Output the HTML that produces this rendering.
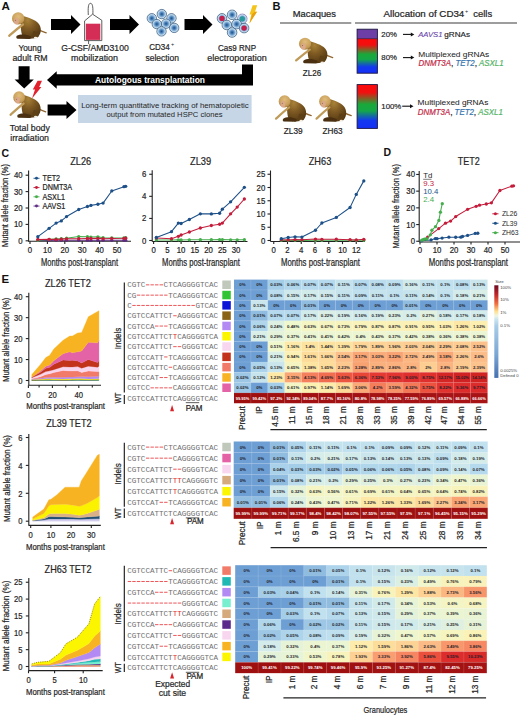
<!DOCTYPE html><html><head><meta charset="utf-8"><style>html,body{margin:0;padding:0;background:#fff;width:520px;height:715px;overflow:hidden}</style></head><body><svg width="520" height="715" viewBox="0 0 520 715" style="display:block"><defs>
<radialGradient id="mBody" cx="0.35" cy="0.2" r="0.9"><stop offset="0" stop-color="#a88238"/><stop offset="0.45" stop-color="#7c5822"/><stop offset="1" stop-color="#4e3410"/></radialGradient>
<radialGradient id="mHead" cx="0.5" cy="0.35" r="0.65"><stop offset="0" stop-color="#e0bc7c"/><stop offset="0.7" stop-color="#c9a05a"/><stop offset="1" stop-color="#ad8442"/></radialGradient>
<radialGradient id="cellG" cx="0.5" cy="0.5" r="0.5"><stop offset="0" stop-color="#1d4f86"/><stop offset="0.35" stop-color="#4f86bd"/><stop offset="0.75" stop-color="#b3d1ea"/><stop offset="0.9" stop-color="#cfe2f2"/><stop offset="1" stop-color="#6f8fae"/></radialGradient>
<linearGradient id="rgb1" x1="0" y1="0" x2="0" y2="1"><stop offset="0" stop-color="#ff0a0a"/><stop offset="0.18" stop-color="#f01010"/><stop offset="0.45" stop-color="#1aa83a"/><stop offset="0.6" stop-color="#14a848"/><stop offset="0.82" stop-color="#1438f0"/><stop offset="1" stop-color="#1430f5"/></linearGradient>
<linearGradient id="rgb2" x1="0" y1="0" x2="0" y2="1"><stop offset="0" stop-color="#ff0a0a"/><stop offset="0.18" stop-color="#f01010"/><stop offset="0.45" stop-color="#1aa83a"/><stop offset="0.6" stop-color="#14a848"/><stop offset="0.82" stop-color="#1438f0"/><stop offset="1" stop-color="#1430f5"/></linearGradient>
<linearGradient id="cbar" x1="0" y1="0" x2="0" y2="1"><stop offset="0" stop-color="#6a0a1e"/><stop offset="0.1" stop-color="#c0262a"/><stop offset="0.2" stop-color="#f07040"/><stop offset="0.283" stop-color="#fee090"/><stop offset="0.33" stop-color="#eef6e4"/><stop offset="0.37" stop-color="#c8e4f0"/><stop offset="0.44" stop-color="#a8cce6"/><stop offset="0.75" stop-color="#7aa6d4"/><stop offset="1" stop-color="#4470b0"/></linearGradient>
</defs><text x="1.60" y="9.60" font-size="10.5" fill="#111" font-family='"Liberation Sans", sans-serif' font-weight="bold" textLength="8.40" lengthAdjust="spacingAndGlyphs">A</text>
<g transform="translate(6.00 12.00) scale(1.000 1.000)">
<path d="M32,17.5 C35,19 37.5,20 40.2,20.8" fill="none" stroke="#8f6530" stroke-width="1.3" stroke-linecap="round"/>
<path d="M15.5,3.5 C22,5.5 29,7.5 32.5,11.5 C35.8,15.5 35.5,21 32.5,24.5 C29.5,27 22,27.2 18,25.8 C15,23.5 14,15 15.5,3.5 Z" fill="url(#mBody)"/>
<path d="M27.5,19 C31,18.5 33.5,21.5 32.5,24.6 C30.5,26.6 27,26.6 25.5,25 Z" fill="#5e4016"/>
<path d="M17,12.5 C12,16 7,20.5 3.2,23.8" fill="none" stroke="#bf9a58" stroke-width="2.3" stroke-linecap="round"/>
<path d="M10.8,23.8 C14,21.8 20,22 24.5,24.2 C25.5,25.5 25,26.8 23,27 L11.5,26.8 C10,26.3 10,24.8 10.8,23.8 Z" fill="#4a3010"/>
<ellipse cx="29.6" cy="25.9" rx="1.8" ry="1.1" fill="#f4efe6"/>
<circle cx="12.2" cy="6.4" r="6.2" fill="url(#mHead)"/>
<ellipse cx="10.5" cy="9.3" rx="2.4" ry="3.2" fill="#dba88c"/>
<circle cx="9.7" cy="8.3" r="0.45" fill="#5a3a20"/>
</g>
<text x="30.00" y="50.60" font-size="9.2" fill="#262626" font-family='"Liberation Sans", sans-serif' text-anchor="middle" textLength="23.00" lengthAdjust="spacingAndGlyphs" stroke="#262626" stroke-width="0.22">Young</text>
<text x="30.00" y="61.00" font-size="9.2" fill="#262626" font-family='"Liberation Sans", sans-serif' text-anchor="middle" textLength="35.00" lengthAdjust="spacingAndGlyphs" stroke="#262626" stroke-width="0.22">adult RM</text>
<polygon points="51.00,19.00 71.00,19.00 71.00,15.00 80.50,24.50 71.00,34.00 71.00,30.00 51.00,30.00" fill="#000"/>
<path d="M88.3,15 C88,9 88,3.3 90.5,3.3 C93,3.3 93,9 92.9,14.2" fill="none" stroke="#333" stroke-width="0.8"/>
<path d="M92.6,14.2 L84.6,20.9 L84.6,40.6 L101.8,40.6 L101.8,20.3 Z" fill="#fff" stroke="#333" stroke-width="0.8"/>
<rect x="85.80" y="23.70" width="14.50" height="16.20" fill="#d42e56"/>
<line x1="88.60" y1="40.60" x2="88.60" y2="44.00" stroke="#333" stroke-width="0.8"/>
<text x="95.00" y="51.00" font-size="9.2" fill="#262626" font-family='"Liberation Sans", sans-serif' text-anchor="middle" textLength="67.50" lengthAdjust="spacingAndGlyphs" stroke="#262626" stroke-width="0.22">G-CSF/AMD3100</text>
<text x="94.50" y="60.60" font-size="9.2" fill="#262626" font-family='"Liberation Sans", sans-serif' text-anchor="middle" textLength="47.00" lengthAdjust="spacingAndGlyphs" stroke="#262626" stroke-width="0.22">mobilization</text>
<polygon points="110.00,19.00 129.50,19.00 129.50,15.00 139.00,24.50 129.50,34.00 129.50,30.00 110.00,30.00" fill="#000"/>
<circle cx="161.80" cy="14.10" r="4.70" fill="url(#cellG)" stroke="#3f6384" stroke-width="0.7"/>
<circle cx="151.80" cy="18.30" r="4.70" fill="url(#cellG)" stroke="#3f6384" stroke-width="0.7"/>
<circle cx="171.50" cy="18.30" r="4.70" fill="url(#cellG)" stroke="#3f6384" stroke-width="0.7"/>
<circle cx="156.80" cy="24.10" r="4.70" fill="url(#cellG)" stroke="#3f6384" stroke-width="0.7"/>
<circle cx="166.10" cy="23.70" r="4.70" fill="url(#cellG)" stroke="#3f6384" stroke-width="0.7"/>
<circle cx="174.20" cy="27.90" r="4.70" fill="url(#cellG)" stroke="#3f6384" stroke-width="0.7"/>
<circle cx="161.50" cy="31.40" r="4.70" fill="url(#cellG)" stroke="#3f6384" stroke-width="0.7"/>
<text x="149.30" y="50.40" font-size="9.2" fill="#262626" font-family='"Liberation Sans", sans-serif' textLength="20.50" lengthAdjust="spacingAndGlyphs" stroke="#262626" stroke-width="0.22">CD34</text>
<text x="171.00" y="46.40" font-size="5.5" fill="#262626" font-family='"Liberation Sans", sans-serif'>+</text>
<text x="162.20" y="60.80" font-size="9.2" fill="#262626" font-family='"Liberation Sans", sans-serif' text-anchor="middle" textLength="33.50" lengthAdjust="spacingAndGlyphs" stroke="#262626" stroke-width="0.22">selection</text>
<polygon points="184.50,19.00 203.00,19.00 203.00,15.00 212.50,24.50 203.00,34.00 203.00,30.00 184.50,30.00" fill="#000"/>
<circle cx="222.00" cy="18.40" r="4.80" fill="url(#cellG)" stroke="#3f6384" stroke-width="0.7"/>
<circle cx="222.00" cy="18.40" r="2.64" fill="#c41e4a"/>
<circle cx="232.10" cy="14.80" r="4.80" fill="url(#cellG)" stroke="#3f6384" stroke-width="0.7"/>
<circle cx="242.30" cy="18.80" r="4.80" fill="url(#cellG)" stroke="#8a7ab8" stroke-width="0.7"/>
<circle cx="242.30" cy="18.80" r="2.64" fill="#2a9a9a"/>
<circle cx="226.80" cy="25.00" r="4.80" fill="url(#cellG)" stroke="#3f6384" stroke-width="0.7"/>
<circle cx="236.60" cy="24.10" r="4.80" fill="url(#cellG)" stroke="#3f6384" stroke-width="0.7"/>
<circle cx="244.10" cy="28.10" r="4.80" fill="url(#cellG)" stroke="#3f6384" stroke-width="0.7"/>
<circle cx="244.10" cy="28.10" r="2.64" fill="#c41e4a"/>
<circle cx="232.10" cy="32.50" r="4.80" fill="url(#cellG)" stroke="#3f6384" stroke-width="0.7"/>
<polygon points="252.60,5.20 257.20,5.20 255.00,11.80 257.00,11.80 249.40,23.60 251.30,14.60 249.50,14.60" fill="#f4c41c"/>
<polygon points="255.00,11.80 257.00,11.80 249.40,23.60 252.20,14.00" fill="#e8a010"/>
<text x="237.00" y="50.80" font-size="9.2" fill="#262626" font-family='"Liberation Sans", sans-serif' text-anchor="middle" textLength="38.00" lengthAdjust="spacingAndGlyphs" stroke="#262626" stroke-width="0.22">Cas9 RNP</text>
<text x="237.00" y="60.60" font-size="9.2" fill="#262626" font-family='"Liberation Sans", sans-serif' text-anchor="middle" textLength="59.50" lengthAdjust="spacingAndGlyphs" stroke="#262626" stroke-width="0.22">electroporation</text>
<polygon points="242.00,64.60 253.00,64.60 253.00,85.60 56.70,85.60 56.70,88.80 47.00,80.00 56.70,71.30 56.70,74.20 242.00,74.20" fill="#000"/>
<text x="150.00" y="83.20" font-size="8.2" fill="#fff" font-family='"Liberation Sans", sans-serif' text-anchor="middle" font-weight="bold" textLength="110.00" lengthAdjust="spacingAndGlyphs">Autologous transplantation</text>
<polygon points="18.60,66.30 29.60,66.30 29.60,79.50 33.80,79.50 24.20,88.60 14.60,79.50 18.60,79.50" fill="#000"/>
<polygon points="37.60,80.80 42.00,80.80 39.20,87.00 41.40,87.00 32.00,98.60 35.00,89.60 32.80,89.60" fill="#e2232d"/>
<g transform="translate(7.50 91.00) scale(0.951 1.000)">
<path d="M32,17.5 C35,19 37.5,20 40.2,20.8" fill="none" stroke="#8f6530" stroke-width="1.3" stroke-linecap="round"/>
<path d="M15.5,3.5 C22,5.5 29,7.5 32.5,11.5 C35.8,15.5 35.5,21 32.5,24.5 C29.5,27 22,27.2 18,25.8 C15,23.5 14,15 15.5,3.5 Z" fill="url(#mBody)"/>
<path d="M27.5,19 C31,18.5 33.5,21.5 32.5,24.6 C30.5,26.6 27,26.6 25.5,25 Z" fill="#5e4016"/>
<path d="M17,12.5 C12,16 7,20.5 3.2,23.8" fill="none" stroke="#bf9a58" stroke-width="2.3" stroke-linecap="round"/>
<path d="M10.8,23.8 C14,21.8 20,22 24.5,24.2 C25.5,25.5 25,26.8 23,27 L11.5,26.8 C10,26.3 10,24.8 10.8,23.8 Z" fill="#4a3010"/>
<ellipse cx="29.6" cy="25.9" rx="1.8" ry="1.1" fill="#f4efe6"/>
<circle cx="12.2" cy="6.4" r="6.2" fill="url(#mHead)"/>
<ellipse cx="10.5" cy="9.3" rx="2.4" ry="3.2" fill="#dba88c"/>
<circle cx="9.7" cy="8.3" r="0.45" fill="#5a3a20"/>
</g>
<polygon points="47.60,104.50 66.50,104.50 66.50,101.00 76.50,110.00 66.50,119.00 66.50,115.50 47.60,115.50" fill="#000"/>
<rect x="78.00" y="95.00" width="173.60" height="28.00" fill="#c7d6e6"/>
<text x="165.00" y="107.70" font-size="7.4" fill="#262626" font-family='"Liberation Sans", sans-serif' text-anchor="middle" textLength="167.50" lengthAdjust="spacingAndGlyphs">Long-term quantitative tracking of hematopoietic</text>
<text x="164.60" y="116.60" font-size="7.4" fill="#262626" font-family='"Liberation Sans", sans-serif' text-anchor="middle" textLength="116.00" lengthAdjust="spacingAndGlyphs">output from mutated HSPC clones</text>
<text x="29.80" y="131.20" font-size="9.2" fill="#262626" font-family='"Liberation Sans", sans-serif' text-anchor="middle" textLength="40.00" lengthAdjust="spacingAndGlyphs" stroke="#262626" stroke-width="0.22">Total body</text>
<text x="29.60" y="141.00" font-size="9.2" fill="#262626" font-family='"Liberation Sans", sans-serif' text-anchor="middle" textLength="38.80" lengthAdjust="spacingAndGlyphs" stroke="#262626" stroke-width="0.22">irradiation</text>
<text x="272.60" y="9.60" font-size="10.5" fill="#111" font-family='"Liberation Sans", sans-serif' font-weight="bold" textLength="8.00" lengthAdjust="spacingAndGlyphs">B</text>
<text x="292.80" y="17.10" font-size="9.0" fill="#262626" font-family='"Liberation Sans", sans-serif' textLength="43.20" lengthAdjust="spacingAndGlyphs" stroke="#262626" stroke-width="0.22">Macaques</text>
<line x1="280.00" y1="23.00" x2="351.30" y2="23.00" stroke="#7d7d7d" stroke-width="1.5"/>
<line x1="355.00" y1="23.00" x2="517.00" y2="23.00" stroke="#7d7d7d" stroke-width="1.5"/>
<text x="383.50" y="16.80" font-size="9.0" fill="#262626" font-family='"Liberation Sans", sans-serif' textLength="80.80" lengthAdjust="spacingAndGlyphs" stroke="#262626" stroke-width="0.22">Allocation of CD34</text>
<text x="465.00" y="13.00" font-size="5.5" fill="#262626" font-family='"Liberation Sans", sans-serif'>+</text>
<text x="473.30" y="16.80" font-size="9.0" fill="#262626" font-family='"Liberation Sans", sans-serif' textLength="18.90" lengthAdjust="spacingAndGlyphs" stroke="#262626" stroke-width="0.22">cells</text>
<g transform="translate(293.00 37.50) scale(0.988 0.964)">
<path d="M32,17.5 C35,19 37.5,20 40.2,20.8" fill="none" stroke="#8f6530" stroke-width="1.3" stroke-linecap="round"/>
<path d="M15.5,3.5 C22,5.5 29,7.5 32.5,11.5 C35.8,15.5 35.5,21 32.5,24.5 C29.5,27 22,27.2 18,25.8 C15,23.5 14,15 15.5,3.5 Z" fill="url(#mBody)"/>
<path d="M27.5,19 C31,18.5 33.5,21.5 32.5,24.6 C30.5,26.6 27,26.6 25.5,25 Z" fill="#5e4016"/>
<path d="M17,12.5 C12,16 7,20.5 3.2,23.8" fill="none" stroke="#bf9a58" stroke-width="2.3" stroke-linecap="round"/>
<path d="M10.8,23.8 C14,21.8 20,22 24.5,24.2 C25.5,25.5 25,26.8 23,27 L11.5,26.8 C10,26.3 10,24.8 10.8,23.8 Z" fill="#4a3010"/>
<ellipse cx="29.6" cy="25.9" rx="1.8" ry="1.1" fill="#f4efe6"/>
<circle cx="12.2" cy="6.4" r="6.2" fill="url(#mHead)"/>
<ellipse cx="10.5" cy="9.3" rx="2.4" ry="3.2" fill="#dba88c"/>
<circle cx="9.7" cy="8.3" r="0.45" fill="#5a3a20"/>
</g>
<text x="312.00" y="76.00" font-size="8.4" fill="#262626" font-family='"Liberation Sans", sans-serif' text-anchor="middle" textLength="18.30" lengthAdjust="spacingAndGlyphs" stroke="#262626" stroke-width="0.22">ZL26</text>
<g transform="translate(273.00 95.00) scale(0.951 0.993)">
<path d="M32,17.5 C35,19 37.5,20 40.2,20.8" fill="none" stroke="#8f6530" stroke-width="1.3" stroke-linecap="round"/>
<path d="M15.5,3.5 C22,5.5 29,7.5 32.5,11.5 C35.8,15.5 35.5,21 32.5,24.5 C29.5,27 22,27.2 18,25.8 C15,23.5 14,15 15.5,3.5 Z" fill="url(#mBody)"/>
<path d="M27.5,19 C31,18.5 33.5,21.5 32.5,24.6 C30.5,26.6 27,26.6 25.5,25 Z" fill="#5e4016"/>
<path d="M17,12.5 C12,16 7,20.5 3.2,23.8" fill="none" stroke="#bf9a58" stroke-width="2.3" stroke-linecap="round"/>
<path d="M10.8,23.8 C14,21.8 20,22 24.5,24.2 C25.5,25.5 25,26.8 23,27 L11.5,26.8 C10,26.3 10,24.8 10.8,23.8 Z" fill="#4a3010"/>
<ellipse cx="29.6" cy="25.9" rx="1.8" ry="1.1" fill="#f4efe6"/>
<circle cx="12.2" cy="6.4" r="6.2" fill="url(#mHead)"/>
<ellipse cx="10.5" cy="9.3" rx="2.4" ry="3.2" fill="#dba88c"/>
<circle cx="9.7" cy="8.3" r="0.45" fill="#5a3a20"/>
</g>
<g transform="translate(313.50 95.00) scale(0.939 0.993)">
<path d="M32,17.5 C35,19 37.5,20 40.2,20.8" fill="none" stroke="#8f6530" stroke-width="1.3" stroke-linecap="round"/>
<path d="M15.5,3.5 C22,5.5 29,7.5 32.5,11.5 C35.8,15.5 35.5,21 32.5,24.5 C29.5,27 22,27.2 18,25.8 C15,23.5 14,15 15.5,3.5 Z" fill="url(#mBody)"/>
<path d="M27.5,19 C31,18.5 33.5,21.5 32.5,24.6 C30.5,26.6 27,26.6 25.5,25 Z" fill="#5e4016"/>
<path d="M17,12.5 C12,16 7,20.5 3.2,23.8" fill="none" stroke="#bf9a58" stroke-width="2.3" stroke-linecap="round"/>
<path d="M10.8,23.8 C14,21.8 20,22 24.5,24.2 C25.5,25.5 25,26.8 23,27 L11.5,26.8 C10,26.3 10,24.8 10.8,23.8 Z" fill="#4a3010"/>
<ellipse cx="29.6" cy="25.9" rx="1.8" ry="1.1" fill="#f4efe6"/>
<circle cx="12.2" cy="6.4" r="6.2" fill="url(#mHead)"/>
<ellipse cx="10.5" cy="9.3" rx="2.4" ry="3.2" fill="#dba88c"/>
<circle cx="9.7" cy="8.3" r="0.45" fill="#5a3a20"/>
</g>
<text x="293.20" y="133.80" font-size="8.4" fill="#262626" font-family='"Liberation Sans", sans-serif' text-anchor="middle" textLength="18.80" lengthAdjust="spacingAndGlyphs" stroke="#262626" stroke-width="0.22">ZL39</text>
<text x="332.50" y="133.80" font-size="8.4" fill="#262626" font-family='"Liberation Sans", sans-serif' text-anchor="middle" textLength="20.00" lengthAdjust="spacingAndGlyphs" stroke="#262626" stroke-width="0.22">ZH63</text>
<rect x="357.1" y="29.2" width="20.3" height="9.5" fill="#6d3fa6"/>
<rect x="357.1" y="38.7" width="20.3" height="34.5" fill="url(#rgb1)"/>
<rect x="357.1" y="29.2" width="20.3" height="44" fill="none" stroke="#1c1440" stroke-width="0.9"/>
<line x1="357.10" y1="38.70" x2="377.40" y2="38.70" stroke="#2a1440" stroke-width="0.8"/>
<rect x="357.1" y="84.6" width="20.3" height="43.8" fill="url(#rgb2)" stroke="#1c1440" stroke-width="0.9"/>
<text x="381.30" y="36.60" font-size="7.8" fill="#262626" font-family='"Liberation Sans", sans-serif' stroke="#262626" stroke-width="0.18">20%</text>
<line x1="403.00" y1="34.40" x2="411.30" y2="34.40" stroke="#111" stroke-width="1.1"/>
<polygon points="410.80,32.40 414.30,34.40 410.80,36.40" fill="#111"/>
<text x="418.20" y="36.60" font-size="7.9" fill="#6a46aa" font-family='"Liberation Sans", sans-serif' font-style="italic" textLength="24.30" lengthAdjust="spacingAndGlyphs" stroke="#6a46aa" stroke-width="0.12">AAVS1</text>
<text x="444.30" y="36.60" font-size="7.8" fill="#262626" font-family='"Liberation Sans", sans-serif' textLength="25.70" lengthAdjust="spacingAndGlyphs" stroke="#262626" stroke-width="0.18">gRNAs</text>
<text x="381.30" y="60.40" font-size="7.8" fill="#262626" font-family='"Liberation Sans", sans-serif' stroke="#262626" stroke-width="0.18">80%</text>
<line x1="403.00" y1="57.60" x2="411.30" y2="57.60" stroke="#111" stroke-width="1.1"/>
<polygon points="410.80,55.60 414.30,57.60 410.80,59.60" fill="#111"/>
<text x="418.20" y="56.90" font-size="8.0" fill="#262626" font-family='"Liberation Sans", sans-serif' textLength="71.00" lengthAdjust="spacingAndGlyphs" stroke="#262626" stroke-width="0.05">Multiplexed gRNAs</text>
<text x="418.60" y="66.20" font-size="8.4" fill="#c22c48" font-family='"Liberation Sans", sans-serif' font-style="italic" textLength="32.42" lengthAdjust="spacingAndGlyphs" stroke="#c22c48" stroke-width="0.22">DNMT3A</text>
<text x="451.02" y="66.20" font-size="8.4" fill="#262626" font-family='"Liberation Sans", sans-serif' stroke="#262626" stroke-width="0.22">, </text>
<text x="455.40" y="66.20" font-size="8.4" fill="#3474ae" font-family='"Liberation Sans", sans-serif' font-style="italic" textLength="19.28" lengthAdjust="spacingAndGlyphs" stroke="#3474ae" stroke-width="0.22">TET2</text>
<text x="474.67" y="66.20" font-size="8.4" fill="#262626" font-family='"Liberation Sans", sans-serif' stroke="#262626" stroke-width="0.22">, </text>
<text x="479.05" y="66.20" font-size="8.4" fill="#56b468" font-family='"Liberation Sans", sans-serif' font-style="italic" textLength="24.55" lengthAdjust="spacingAndGlyphs" stroke="#56b468" stroke-width="0.22">ASXL1</text>
<text x="381.30" y="109.00" font-size="7.8" fill="#262626" font-family='"Liberation Sans", sans-serif' stroke="#262626" stroke-width="0.18">100%</text>
<line x1="402.20" y1="106.20" x2="410.50" y2="106.20" stroke="#111" stroke-width="1.1"/>
<polygon points="410.00,104.20 413.50,106.20 410.00,108.20" fill="#111"/>
<text x="417.60" y="105.40" font-size="8.0" fill="#262626" font-family='"Liberation Sans", sans-serif' textLength="70.70" lengthAdjust="spacingAndGlyphs" stroke="#262626" stroke-width="0.05">Multiplexed gRNAs</text>
<text x="417.80" y="115.20" font-size="8.4" fill="#c22c48" font-family='"Liberation Sans", sans-serif' font-style="italic" textLength="32.42" lengthAdjust="spacingAndGlyphs" stroke="#c22c48" stroke-width="0.22">DNMT3A</text>
<text x="450.22" y="115.20" font-size="8.4" fill="#262626" font-family='"Liberation Sans", sans-serif' stroke="#262626" stroke-width="0.22">, </text>
<text x="454.60" y="115.20" font-size="8.4" fill="#3474ae" font-family='"Liberation Sans", sans-serif' font-style="italic" textLength="19.28" lengthAdjust="spacingAndGlyphs" stroke="#3474ae" stroke-width="0.22">TET2</text>
<text x="473.87" y="115.20" font-size="8.4" fill="#262626" font-family='"Liberation Sans", sans-serif' stroke="#262626" stroke-width="0.22">, </text>
<text x="478.25" y="115.20" font-size="8.4" fill="#56b468" font-family='"Liberation Sans", sans-serif' font-style="italic" textLength="24.55" lengthAdjust="spacingAndGlyphs" stroke="#56b468" stroke-width="0.22">ASXL1</text>
<text x="1.50" y="156.60" font-size="10.5" fill="#111" font-family='"Liberation Sans", sans-serif' font-weight="bold">C</text>
<text x="8.10" y="247.00" font-size="9.3" fill="#262626" font-family='"Liberation Sans", sans-serif' textLength="83.00" lengthAdjust="spacingAndGlyphs" transform="rotate(-90 8.10 247.00)" stroke="#262626" stroke-width="0.22">Mutant allele fraction (%)</text>
<text x="80.70" y="164.60" font-size="10.6" fill="#262626" font-family='"Liberation Sans", sans-serif' text-anchor="middle" textLength="21.00" lengthAdjust="spacingAndGlyphs" stroke="#262626" stroke-width="0.22">ZL26</text>
<line x1="28.60" y1="170.50" x2="28.60" y2="241.80" stroke="#222" stroke-width="1.1"/>
<line x1="25.60" y1="240.80" x2="28.60" y2="240.80" stroke="#222" stroke-width="1.1"/>
<text x="22.60" y="243.82" font-size="8.4" fill="#262626" font-family='"Liberation Sans", sans-serif' text-anchor="end" textLength="4.34" lengthAdjust="spacingAndGlyphs" stroke="#262626" stroke-width="0.22">0</text>
<line x1="25.60" y1="224.40" x2="28.60" y2="224.40" stroke="#222" stroke-width="1.1"/>
<text x="22.60" y="227.42" font-size="8.4" fill="#262626" font-family='"Liberation Sans", sans-serif' text-anchor="end" textLength="8.69" lengthAdjust="spacingAndGlyphs" stroke="#262626" stroke-width="0.22">10</text>
<line x1="25.60" y1="208.00" x2="28.60" y2="208.00" stroke="#222" stroke-width="1.1"/>
<text x="22.60" y="211.02" font-size="8.4" fill="#262626" font-family='"Liberation Sans", sans-serif' text-anchor="end" textLength="8.69" lengthAdjust="spacingAndGlyphs" stroke="#262626" stroke-width="0.22">20</text>
<line x1="25.60" y1="191.60" x2="28.60" y2="191.60" stroke="#222" stroke-width="1.1"/>
<text x="22.60" y="194.62" font-size="8.4" fill="#262626" font-family='"Liberation Sans", sans-serif' text-anchor="end" textLength="8.69" lengthAdjust="spacingAndGlyphs" stroke="#262626" stroke-width="0.22">30</text>
<line x1="25.60" y1="175.20" x2="28.60" y2="175.20" stroke="#222" stroke-width="1.1"/>
<text x="22.60" y="178.22" font-size="8.4" fill="#262626" font-family='"Liberation Sans", sans-serif' text-anchor="end" textLength="8.69" lengthAdjust="spacingAndGlyphs" stroke="#262626" stroke-width="0.22">40</text>
<line x1="28.60" y1="241.30" x2="131.00" y2="241.30" stroke="#222" stroke-width="1.1"/>
<line x1="30.00" y1="241.30" x2="30.00" y2="243.90" stroke="#222" stroke-width="1.1"/>
<text x="30.00" y="252.90" font-size="8.4" fill="#262626" font-family='"Liberation Sans", sans-serif' text-anchor="middle" textLength="4.34" lengthAdjust="spacingAndGlyphs" stroke="#262626" stroke-width="0.22">0</text>
<line x1="47.40" y1="241.30" x2="47.40" y2="243.90" stroke="#222" stroke-width="1.1"/>
<text x="47.40" y="252.90" font-size="8.4" fill="#262626" font-family='"Liberation Sans", sans-serif' text-anchor="middle" textLength="8.69" lengthAdjust="spacingAndGlyphs" stroke="#262626" stroke-width="0.22">10</text>
<line x1="64.80" y1="241.30" x2="64.80" y2="243.90" stroke="#222" stroke-width="1.1"/>
<text x="64.80" y="252.90" font-size="8.4" fill="#262626" font-family='"Liberation Sans", sans-serif' text-anchor="middle" textLength="8.69" lengthAdjust="spacingAndGlyphs" stroke="#262626" stroke-width="0.22">20</text>
<line x1="82.20" y1="241.30" x2="82.20" y2="243.90" stroke="#222" stroke-width="1.1"/>
<text x="82.20" y="252.90" font-size="8.4" fill="#262626" font-family='"Liberation Sans", sans-serif' text-anchor="middle" textLength="8.69" lengthAdjust="spacingAndGlyphs" stroke="#262626" stroke-width="0.22">30</text>
<line x1="99.60" y1="241.30" x2="99.60" y2="243.90" stroke="#222" stroke-width="1.1"/>
<text x="99.60" y="252.90" font-size="8.4" fill="#262626" font-family='"Liberation Sans", sans-serif' text-anchor="middle" textLength="8.69" lengthAdjust="spacingAndGlyphs" stroke="#262626" stroke-width="0.22">40</text>
<line x1="117.00" y1="241.30" x2="117.00" y2="243.90" stroke="#222" stroke-width="1.1"/>
<text x="117.00" y="252.90" font-size="8.4" fill="#262626" font-family='"Liberation Sans", sans-serif' text-anchor="middle" textLength="8.69" lengthAdjust="spacingAndGlyphs" stroke="#262626" stroke-width="0.22">50</text>
<text x="79.50" y="266.20" font-size="10" fill="#262626" font-family='"Liberation Sans", sans-serif' text-anchor="middle" textLength="77.00" lengthAdjust="spacingAndGlyphs" stroke="#262626" stroke-width="0.22">Months post-transplant</text>
<polyline points="37.83,240.47 49.14,240.47 56.10,240.31 61.32,240.31 66.54,240.31 78.72,240.31 87.42,240.31 90.90,240.31 97.86,240.31 103.08,240.31 111.78,240.31 123.96,240.31 125.70,240.31" fill="none" stroke="#5d2c84" stroke-width="1.05" stroke-linejoin="round"/>
<circle cx="37.83" cy="240.47" r="1.65" fill="#5d2c84"/>
<circle cx="49.14" cy="240.47" r="1.65" fill="#5d2c84"/>
<circle cx="56.10" cy="240.31" r="1.65" fill="#5d2c84"/>
<circle cx="61.32" cy="240.31" r="1.65" fill="#5d2c84"/>
<circle cx="66.54" cy="240.31" r="1.65" fill="#5d2c84"/>
<circle cx="78.72" cy="240.31" r="1.65" fill="#5d2c84"/>
<circle cx="87.42" cy="240.31" r="1.65" fill="#5d2c84"/>
<circle cx="90.90" cy="240.31" r="1.65" fill="#5d2c84"/>
<circle cx="97.86" cy="240.31" r="1.65" fill="#5d2c84"/>
<circle cx="103.08" cy="240.31" r="1.65" fill="#5d2c84"/>
<circle cx="111.78" cy="240.31" r="1.65" fill="#5d2c84"/>
<circle cx="123.96" cy="240.31" r="1.65" fill="#5d2c84"/>
<circle cx="125.70" cy="240.31" r="1.65" fill="#5d2c84"/>
<polyline points="37.83,240.31 49.14,239.49 56.10,238.83 61.32,238.67 66.54,238.18 78.72,236.54 87.42,236.70 90.90,237.03 97.86,236.86 103.08,237.68 111.78,238.01 123.96,237.85 125.70,237.68" fill="none" stroke="#45ad4c" stroke-width="1.05" stroke-linejoin="round"/>
<circle cx="37.83" cy="240.31" r="1.65" fill="#45ad4c"/>
<circle cx="49.14" cy="239.49" r="1.65" fill="#45ad4c"/>
<circle cx="56.10" cy="238.83" r="1.65" fill="#45ad4c"/>
<circle cx="61.32" cy="238.67" r="1.65" fill="#45ad4c"/>
<circle cx="66.54" cy="238.18" r="1.65" fill="#45ad4c"/>
<circle cx="78.72" cy="236.54" r="1.65" fill="#45ad4c"/>
<circle cx="87.42" cy="236.70" r="1.65" fill="#45ad4c"/>
<circle cx="90.90" cy="237.03" r="1.65" fill="#45ad4c"/>
<circle cx="97.86" cy="236.86" r="1.65" fill="#45ad4c"/>
<circle cx="103.08" cy="237.68" r="1.65" fill="#45ad4c"/>
<circle cx="111.78" cy="238.01" r="1.65" fill="#45ad4c"/>
<circle cx="123.96" cy="237.85" r="1.65" fill="#45ad4c"/>
<circle cx="125.70" cy="237.68" r="1.65" fill="#45ad4c"/>
<polyline points="37.83,239.49 49.14,239.32 56.10,239.49 61.32,239.16 66.54,238.83 78.72,238.67 87.42,238.50 90.90,238.50 97.86,238.34 103.08,238.67 111.78,238.50 123.96,238.34 125.70,238.18" fill="none" stroke="#c41d3c" stroke-width="1.05" stroke-linejoin="round"/>
<circle cx="37.83" cy="239.49" r="1.65" fill="#c41d3c"/>
<circle cx="49.14" cy="239.32" r="1.65" fill="#c41d3c"/>
<circle cx="56.10" cy="239.49" r="1.65" fill="#c41d3c"/>
<circle cx="61.32" cy="239.16" r="1.65" fill="#c41d3c"/>
<circle cx="66.54" cy="238.83" r="1.65" fill="#c41d3c"/>
<circle cx="78.72" cy="238.67" r="1.65" fill="#c41d3c"/>
<circle cx="87.42" cy="238.50" r="1.65" fill="#c41d3c"/>
<circle cx="90.90" cy="238.50" r="1.65" fill="#c41d3c"/>
<circle cx="97.86" cy="238.34" r="1.65" fill="#c41d3c"/>
<circle cx="103.08" cy="238.67" r="1.65" fill="#c41d3c"/>
<circle cx="111.78" cy="238.50" r="1.65" fill="#c41d3c"/>
<circle cx="123.96" cy="238.34" r="1.65" fill="#c41d3c"/>
<circle cx="125.70" cy="238.18" r="1.65" fill="#c41d3c"/>
<polyline points="37.83,236.70 49.14,228.34 56.10,223.09 61.32,220.96 66.54,216.53 78.72,209.48 87.42,206.52 90.90,205.38 97.86,204.23 103.08,203.08 111.78,190.94 123.96,186.68 125.70,186.35" fill="none" stroke="#1d5088" stroke-width="1.05" stroke-linejoin="round"/>
<circle cx="37.83" cy="236.70" r="1.65" fill="#1d5088"/>
<circle cx="49.14" cy="228.34" r="1.65" fill="#1d5088"/>
<circle cx="56.10" cy="223.09" r="1.65" fill="#1d5088"/>
<circle cx="61.32" cy="220.96" r="1.65" fill="#1d5088"/>
<circle cx="66.54" cy="216.53" r="1.65" fill="#1d5088"/>
<circle cx="78.72" cy="209.48" r="1.65" fill="#1d5088"/>
<circle cx="87.42" cy="206.52" r="1.65" fill="#1d5088"/>
<circle cx="90.90" cy="205.38" r="1.65" fill="#1d5088"/>
<circle cx="97.86" cy="204.23" r="1.65" fill="#1d5088"/>
<circle cx="103.08" cy="203.08" r="1.65" fill="#1d5088"/>
<circle cx="111.78" cy="190.94" r="1.65" fill="#1d5088"/>
<circle cx="123.96" cy="186.68" r="1.65" fill="#1d5088"/>
<circle cx="125.70" cy="186.35" r="1.65" fill="#1d5088"/>
<line x1="33.50" y1="178.30" x2="39.50" y2="178.30" stroke="#1d5088" stroke-width="0.9"/>
<circle cx="36.5" cy="178.30" r="1.45" fill="#1d5088"/>
<text x="42.50" y="181.20" font-size="8.2" fill="#262626" font-family='"Liberation Sans", sans-serif' textLength="17.64" lengthAdjust="spacingAndGlyphs" stroke="#262626" stroke-width="0.22">TET2</text>
<line x1="33.50" y1="187.55" x2="39.50" y2="187.55" stroke="#c41d3c" stroke-width="0.9"/>
<circle cx="36.5" cy="187.55" r="1.45" fill="#c41d3c"/>
<text x="42.50" y="190.45" font-size="8.2" fill="#262626" font-family='"Liberation Sans", sans-serif' textLength="29.67" lengthAdjust="spacingAndGlyphs" stroke="#262626" stroke-width="0.22">DNMT3A</text>
<line x1="33.50" y1="196.80" x2="39.50" y2="196.80" stroke="#45ad4c" stroke-width="0.9"/>
<circle cx="36.5" cy="196.80" r="1.45" fill="#45ad4c"/>
<text x="42.50" y="199.70" font-size="8.2" fill="#262626" font-family='"Liberation Sans", sans-serif' textLength="22.47" lengthAdjust="spacingAndGlyphs" stroke="#262626" stroke-width="0.22">ASXL1</text>
<line x1="33.50" y1="206.05" x2="39.50" y2="206.05" stroke="#5d2c84" stroke-width="0.9"/>
<circle cx="36.5" cy="206.05" r="1.45" fill="#5d2c84"/>
<text x="42.50" y="208.95" font-size="8.2" fill="#262626" font-family='"Liberation Sans", sans-serif' textLength="22.73" lengthAdjust="spacingAndGlyphs" stroke="#262626" stroke-width="0.22">AAVS1</text>
<text x="200.60" y="165.00" font-size="10.6" fill="#262626" font-family='"Liberation Sans", sans-serif' text-anchor="middle" textLength="21.20" lengthAdjust="spacingAndGlyphs" stroke="#262626" stroke-width="0.22">ZL39</text>
<line x1="152.20" y1="170.30" x2="152.20" y2="241.50" stroke="#222" stroke-width="1.1"/>
<line x1="149.20" y1="240.50" x2="152.20" y2="240.50" stroke="#222" stroke-width="1.1"/>
<text x="146.40" y="243.52" font-size="8.4" fill="#262626" font-family='"Liberation Sans", sans-serif' text-anchor="end" textLength="4.34" lengthAdjust="spacingAndGlyphs" stroke="#262626" stroke-width="0.22">0</text>
<line x1="149.20" y1="218.42" x2="152.20" y2="218.42" stroke="#222" stroke-width="1.1"/>
<text x="146.40" y="221.44" font-size="8.4" fill="#262626" font-family='"Liberation Sans", sans-serif' text-anchor="end" textLength="4.34" lengthAdjust="spacingAndGlyphs" stroke="#262626" stroke-width="0.22">2</text>
<line x1="149.20" y1="196.34" x2="152.20" y2="196.34" stroke="#222" stroke-width="1.1"/>
<text x="146.40" y="199.36" font-size="8.4" fill="#262626" font-family='"Liberation Sans", sans-serif' text-anchor="end" textLength="4.34" lengthAdjust="spacingAndGlyphs" stroke="#262626" stroke-width="0.22">4</text>
<line x1="149.20" y1="174.26" x2="152.20" y2="174.26" stroke="#222" stroke-width="1.1"/>
<text x="146.40" y="177.28" font-size="8.4" fill="#262626" font-family='"Liberation Sans", sans-serif' text-anchor="end" textLength="4.34" lengthAdjust="spacingAndGlyphs" stroke="#262626" stroke-width="0.22">6</text>
<line x1="152.20" y1="241.50" x2="247.50" y2="241.50" stroke="#222" stroke-width="1.1"/>
<line x1="153.60" y1="241.50" x2="153.60" y2="244.10" stroke="#222" stroke-width="1.1"/>
<text x="153.60" y="252.90" font-size="8.4" fill="#262626" font-family='"Liberation Sans", sans-serif' text-anchor="middle" textLength="4.34" lengthAdjust="spacingAndGlyphs" stroke="#262626" stroke-width="0.22">0</text>
<line x1="167.35" y1="241.50" x2="167.35" y2="244.10" stroke="#222" stroke-width="1.1"/>
<text x="167.35" y="252.90" font-size="8.4" fill="#262626" font-family='"Liberation Sans", sans-serif' text-anchor="middle" textLength="4.34" lengthAdjust="spacingAndGlyphs" stroke="#262626" stroke-width="0.22">5</text>
<line x1="181.10" y1="241.50" x2="181.10" y2="244.10" stroke="#222" stroke-width="1.1"/>
<text x="181.10" y="252.90" font-size="8.4" fill="#262626" font-family='"Liberation Sans", sans-serif' text-anchor="middle" textLength="8.69" lengthAdjust="spacingAndGlyphs" stroke="#262626" stroke-width="0.22">10</text>
<line x1="194.85" y1="241.50" x2="194.85" y2="244.10" stroke="#222" stroke-width="1.1"/>
<text x="194.85" y="252.90" font-size="8.4" fill="#262626" font-family='"Liberation Sans", sans-serif' text-anchor="middle" textLength="8.69" lengthAdjust="spacingAndGlyphs" stroke="#262626" stroke-width="0.22">15</text>
<line x1="208.60" y1="241.50" x2="208.60" y2="244.10" stroke="#222" stroke-width="1.1"/>
<text x="208.60" y="252.90" font-size="8.4" fill="#262626" font-family='"Liberation Sans", sans-serif' text-anchor="middle" textLength="8.69" lengthAdjust="spacingAndGlyphs" stroke="#262626" stroke-width="0.22">20</text>
<line x1="222.35" y1="241.50" x2="222.35" y2="244.10" stroke="#222" stroke-width="1.1"/>
<text x="222.35" y="252.90" font-size="8.4" fill="#262626" font-family='"Liberation Sans", sans-serif' text-anchor="middle" textLength="8.69" lengthAdjust="spacingAndGlyphs" stroke="#262626" stroke-width="0.22">25</text>
<line x1="236.10" y1="241.50" x2="236.10" y2="244.10" stroke="#222" stroke-width="1.1"/>
<text x="236.10" y="252.90" font-size="8.4" fill="#262626" font-family='"Liberation Sans", sans-serif' text-anchor="middle" textLength="8.69" lengthAdjust="spacingAndGlyphs" stroke="#262626" stroke-width="0.22">30</text>
<text x="201.00" y="266.20" font-size="10" fill="#262626" font-family='"Liberation Sans", sans-serif' text-anchor="middle" textLength="78.00" lengthAdjust="spacingAndGlyphs" stroke="#262626" stroke-width="0.22">Months post-transplant</text>
<polyline points="156.35,239.95 171.47,239.95 178.35,239.84 181.10,239.95 189.35,239.84 200.35,239.73 211.35,239.73 219.60,239.62 222.35,239.62 230.60,239.84 237.20,239.84 244.35,239.73" fill="none" stroke="#45ad4c" stroke-width="1.05" stroke-linejoin="round"/>
<circle cx="156.35" cy="239.95" r="1.65" fill="#45ad4c"/>
<circle cx="171.47" cy="239.95" r="1.65" fill="#45ad4c"/>
<circle cx="178.35" cy="239.84" r="1.65" fill="#45ad4c"/>
<circle cx="181.10" cy="239.95" r="1.65" fill="#45ad4c"/>
<circle cx="189.35" cy="239.84" r="1.65" fill="#45ad4c"/>
<circle cx="200.35" cy="239.73" r="1.65" fill="#45ad4c"/>
<circle cx="211.35" cy="239.73" r="1.65" fill="#45ad4c"/>
<circle cx="219.60" cy="239.62" r="1.65" fill="#45ad4c"/>
<circle cx="222.35" cy="239.62" r="1.65" fill="#45ad4c"/>
<circle cx="230.60" cy="239.84" r="1.65" fill="#45ad4c"/>
<circle cx="237.20" cy="239.84" r="1.65" fill="#45ad4c"/>
<circle cx="244.35" cy="239.73" r="1.65" fill="#45ad4c"/>
<polyline points="156.35,237.96 171.47,238.73 178.35,236.30 181.10,234.98 189.35,232.00 200.35,228.02 211.35,225.49 219.60,224.27 222.35,223.06 230.60,213.78 237.20,207.05 244.35,198.99" fill="none" stroke="#c41d3c" stroke-width="1.05" stroke-linejoin="round"/>
<circle cx="156.35" cy="237.96" r="1.65" fill="#c41d3c"/>
<circle cx="171.47" cy="238.73" r="1.65" fill="#c41d3c"/>
<circle cx="178.35" cy="236.30" r="1.65" fill="#c41d3c"/>
<circle cx="181.10" cy="234.98" r="1.65" fill="#c41d3c"/>
<circle cx="189.35" cy="232.00" r="1.65" fill="#c41d3c"/>
<circle cx="200.35" cy="228.02" r="1.65" fill="#c41d3c"/>
<circle cx="211.35" cy="225.49" r="1.65" fill="#c41d3c"/>
<circle cx="219.60" cy="224.27" r="1.65" fill="#c41d3c"/>
<circle cx="222.35" cy="223.06" r="1.65" fill="#c41d3c"/>
<circle cx="230.60" cy="213.78" r="1.65" fill="#c41d3c"/>
<circle cx="237.20" cy="207.05" r="1.65" fill="#c41d3c"/>
<circle cx="244.35" cy="198.99" r="1.65" fill="#c41d3c"/>
<polyline points="156.35,237.52 171.47,231.67 178.35,223.06 181.10,223.50 189.35,219.52 200.35,213.78 211.35,213.89 219.60,213.23 222.35,209.15 230.60,201.86 244.35,187.29" fill="none" stroke="#1d5088" stroke-width="1.05" stroke-linejoin="round"/>
<circle cx="156.35" cy="237.52" r="1.65" fill="#1d5088"/>
<circle cx="171.47" cy="231.67" r="1.65" fill="#1d5088"/>
<circle cx="178.35" cy="223.06" r="1.65" fill="#1d5088"/>
<circle cx="181.10" cy="223.50" r="1.65" fill="#1d5088"/>
<circle cx="189.35" cy="219.52" r="1.65" fill="#1d5088"/>
<circle cx="200.35" cy="213.78" r="1.65" fill="#1d5088"/>
<circle cx="211.35" cy="213.89" r="1.65" fill="#1d5088"/>
<circle cx="219.60" cy="213.23" r="1.65" fill="#1d5088"/>
<circle cx="222.35" cy="209.15" r="1.65" fill="#1d5088"/>
<circle cx="230.60" cy="201.86" r="1.65" fill="#1d5088"/>
<circle cx="244.35" cy="187.29" r="1.65" fill="#1d5088"/>
<text x="320.00" y="165.00" font-size="10.6" fill="#262626" font-family='"Liberation Sans", sans-serif' text-anchor="middle" textLength="22.50" lengthAdjust="spacingAndGlyphs" stroke="#262626" stroke-width="0.22">ZH63</text>
<line x1="270.50" y1="170.50" x2="270.50" y2="241.50" stroke="#222" stroke-width="1.1"/>
<line x1="267.50" y1="240.50" x2="270.50" y2="240.50" stroke="#222" stroke-width="1.1"/>
<text x="265.30" y="243.52" font-size="8.4" fill="#262626" font-family='"Liberation Sans", sans-serif' text-anchor="end" textLength="4.34" lengthAdjust="spacingAndGlyphs" stroke="#262626" stroke-width="0.22">0</text>
<line x1="267.50" y1="227.25" x2="270.50" y2="227.25" stroke="#222" stroke-width="1.1"/>
<text x="265.30" y="230.27" font-size="8.4" fill="#262626" font-family='"Liberation Sans", sans-serif' text-anchor="end" textLength="4.34" lengthAdjust="spacingAndGlyphs" stroke="#262626" stroke-width="0.22">5</text>
<line x1="267.50" y1="214.00" x2="270.50" y2="214.00" stroke="#222" stroke-width="1.1"/>
<text x="265.30" y="217.02" font-size="8.4" fill="#262626" font-family='"Liberation Sans", sans-serif' text-anchor="end" textLength="8.69" lengthAdjust="spacingAndGlyphs" stroke="#262626" stroke-width="0.22">10</text>
<line x1="267.50" y1="200.75" x2="270.50" y2="200.75" stroke="#222" stroke-width="1.1"/>
<text x="265.30" y="203.77" font-size="8.4" fill="#262626" font-family='"Liberation Sans", sans-serif' text-anchor="end" textLength="8.69" lengthAdjust="spacingAndGlyphs" stroke="#262626" stroke-width="0.22">15</text>
<line x1="267.50" y1="187.50" x2="270.50" y2="187.50" stroke="#222" stroke-width="1.1"/>
<text x="265.30" y="190.52" font-size="8.4" fill="#262626" font-family='"Liberation Sans", sans-serif' text-anchor="end" textLength="8.69" lengthAdjust="spacingAndGlyphs" stroke="#262626" stroke-width="0.22">20</text>
<line x1="267.50" y1="174.25" x2="270.50" y2="174.25" stroke="#222" stroke-width="1.1"/>
<text x="265.30" y="177.27" font-size="8.4" fill="#262626" font-family='"Liberation Sans", sans-serif' text-anchor="end" textLength="8.69" lengthAdjust="spacingAndGlyphs" stroke="#262626" stroke-width="0.22">25</text>
<line x1="270.50" y1="241.50" x2="365.00" y2="241.50" stroke="#222" stroke-width="1.1"/>
<line x1="273.75" y1="241.50" x2="273.75" y2="244.10" stroke="#222" stroke-width="1.1"/>
<text x="273.75" y="252.90" font-size="8.4" fill="#262626" font-family='"Liberation Sans", sans-serif' text-anchor="middle" textLength="4.34" lengthAdjust="spacingAndGlyphs" stroke="#262626" stroke-width="0.22">0</text>
<line x1="287.50" y1="241.50" x2="287.50" y2="244.10" stroke="#222" stroke-width="1.1"/>
<text x="287.50" y="252.90" font-size="8.4" fill="#262626" font-family='"Liberation Sans", sans-serif' text-anchor="middle" textLength="4.34" lengthAdjust="spacingAndGlyphs" stroke="#262626" stroke-width="0.22">2</text>
<line x1="301.25" y1="241.50" x2="301.25" y2="244.10" stroke="#222" stroke-width="1.1"/>
<text x="301.25" y="252.90" font-size="8.4" fill="#262626" font-family='"Liberation Sans", sans-serif' text-anchor="middle" textLength="4.34" lengthAdjust="spacingAndGlyphs" stroke="#262626" stroke-width="0.22">4</text>
<line x1="315.00" y1="241.50" x2="315.00" y2="244.10" stroke="#222" stroke-width="1.1"/>
<text x="315.00" y="252.90" font-size="8.4" fill="#262626" font-family='"Liberation Sans", sans-serif' text-anchor="middle" textLength="4.34" lengthAdjust="spacingAndGlyphs" stroke="#262626" stroke-width="0.22">6</text>
<line x1="328.75" y1="241.50" x2="328.75" y2="244.10" stroke="#222" stroke-width="1.1"/>
<text x="328.75" y="252.90" font-size="8.4" fill="#262626" font-family='"Liberation Sans", sans-serif' text-anchor="middle" textLength="4.34" lengthAdjust="spacingAndGlyphs" stroke="#262626" stroke-width="0.22">8</text>
<line x1="342.50" y1="241.50" x2="342.50" y2="244.10" stroke="#222" stroke-width="1.1"/>
<text x="342.50" y="252.90" font-size="8.4" fill="#262626" font-family='"Liberation Sans", sans-serif' text-anchor="middle" textLength="8.69" lengthAdjust="spacingAndGlyphs" stroke="#262626" stroke-width="0.22">10</text>
<line x1="356.25" y1="241.50" x2="356.25" y2="244.10" stroke="#222" stroke-width="1.1"/>
<text x="356.25" y="252.90" font-size="8.4" fill="#262626" font-family='"Liberation Sans", sans-serif' text-anchor="middle" textLength="8.69" lengthAdjust="spacingAndGlyphs" stroke="#262626" stroke-width="0.22">12</text>
<text x="320.50" y="266.20" font-size="10" fill="#262626" font-family='"Liberation Sans", sans-serif' text-anchor="middle" textLength="79.00" lengthAdjust="spacingAndGlyphs" stroke="#262626" stroke-width="0.22">Months post-transplant</text>
<polyline points="281.31,240.37 288.19,240.37 295.06,240.37 301.94,240.37 315.48,240.29 321.88,240.29 336.31,240.29 350.06,240.29 356.25,240.29 363.81,240.29" fill="none" stroke="#45ad4c" stroke-width="1.05" stroke-linejoin="round"/>
<circle cx="281.31" cy="240.37" r="1.65" fill="#45ad4c"/>
<circle cx="288.19" cy="240.37" r="1.65" fill="#45ad4c"/>
<circle cx="295.06" cy="240.37" r="1.65" fill="#45ad4c"/>
<circle cx="301.94" cy="240.37" r="1.65" fill="#45ad4c"/>
<circle cx="315.48" cy="240.29" r="1.65" fill="#45ad4c"/>
<circle cx="321.88" cy="240.29" r="1.65" fill="#45ad4c"/>
<circle cx="336.31" cy="240.29" r="1.65" fill="#45ad4c"/>
<circle cx="350.06" cy="240.29" r="1.65" fill="#45ad4c"/>
<circle cx="356.25" cy="240.29" r="1.65" fill="#45ad4c"/>
<circle cx="363.81" cy="240.29" r="1.65" fill="#45ad4c"/>
<polyline points="281.31,239.71 288.19,239.97 295.06,239.57 301.94,239.71 315.48,239.04 321.88,239.31 336.31,239.18 350.06,239.71 356.25,239.97 363.81,239.31" fill="none" stroke="#c41d3c" stroke-width="1.05" stroke-linejoin="round"/>
<circle cx="281.31" cy="239.71" r="1.65" fill="#c41d3c"/>
<circle cx="288.19" cy="239.97" r="1.65" fill="#c41d3c"/>
<circle cx="295.06" cy="239.57" r="1.65" fill="#c41d3c"/>
<circle cx="301.94" cy="239.71" r="1.65" fill="#c41d3c"/>
<circle cx="315.48" cy="239.04" r="1.65" fill="#c41d3c"/>
<circle cx="321.88" cy="239.31" r="1.65" fill="#c41d3c"/>
<circle cx="336.31" cy="239.18" r="1.65" fill="#c41d3c"/>
<circle cx="350.06" cy="239.71" r="1.65" fill="#c41d3c"/>
<circle cx="356.25" cy="239.97" r="1.65" fill="#c41d3c"/>
<circle cx="363.81" cy="239.31" r="1.65" fill="#c41d3c"/>
<polyline points="281.31,238.75 288.19,237.51 295.06,236.79 301.94,237.06 315.48,230.24 321.88,223.01 336.31,217.44 350.06,207.51 356.25,194.39 363.81,180.88" fill="none" stroke="#1d5088" stroke-width="1.05" stroke-linejoin="round"/>
<circle cx="281.31" cy="238.75" r="1.65" fill="#1d5088"/>
<circle cx="288.19" cy="237.51" r="1.65" fill="#1d5088"/>
<circle cx="295.06" cy="236.79" r="1.65" fill="#1d5088"/>
<circle cx="301.94" cy="237.06" r="1.65" fill="#1d5088"/>
<circle cx="315.48" cy="230.24" r="1.65" fill="#1d5088"/>
<circle cx="321.88" cy="223.01" r="1.65" fill="#1d5088"/>
<circle cx="336.31" cy="217.44" r="1.65" fill="#1d5088"/>
<circle cx="350.06" cy="207.51" r="1.65" fill="#1d5088"/>
<circle cx="356.25" cy="194.39" r="1.65" fill="#1d5088"/>
<circle cx="363.81" cy="180.88" r="1.65" fill="#1d5088"/>
<text x="383.60" y="155.80" font-size="10.5" fill="#111" font-family='"Liberation Sans", sans-serif' font-weight="bold">D</text>
<text x="468.80" y="165.20" font-size="10.2" fill="#262626" font-family='"Liberation Sans", sans-serif' text-anchor="middle" textLength="22.00" lengthAdjust="spacingAndGlyphs" stroke="#262626" stroke-width="0.22">TET2</text>
<text x="399.30" y="248.50" font-size="9.3" fill="#262626" font-family='"Liberation Sans", sans-serif' textLength="84.50" lengthAdjust="spacingAndGlyphs" transform="rotate(-90 399.30 248.50)" stroke="#262626" stroke-width="0.22">Mutant allele fraction (%)</text>
<line x1="419.20" y1="171.00" x2="419.20" y2="242.00" stroke="#222" stroke-width="1.1"/>
<line x1="416.20" y1="241.25" x2="419.20" y2="241.25" stroke="#222" stroke-width="1.1"/>
<text x="415.00" y="244.27" font-size="8.4" fill="#262626" font-family='"Liberation Sans", sans-serif' text-anchor="end" textLength="4.34" lengthAdjust="spacingAndGlyphs" stroke="#262626" stroke-width="0.22">0</text>
<line x1="416.20" y1="224.55" x2="419.20" y2="224.55" stroke="#222" stroke-width="1.1"/>
<text x="415.00" y="227.57" font-size="8.4" fill="#262626" font-family='"Liberation Sans", sans-serif' text-anchor="end" textLength="8.69" lengthAdjust="spacingAndGlyphs" stroke="#262626" stroke-width="0.22">10</text>
<line x1="416.20" y1="207.85" x2="419.20" y2="207.85" stroke="#222" stroke-width="1.1"/>
<text x="415.00" y="210.87" font-size="8.4" fill="#262626" font-family='"Liberation Sans", sans-serif' text-anchor="end" textLength="8.69" lengthAdjust="spacingAndGlyphs" stroke="#262626" stroke-width="0.22">20</text>
<line x1="416.20" y1="191.15" x2="419.20" y2="191.15" stroke="#222" stroke-width="1.1"/>
<text x="415.00" y="194.17" font-size="8.4" fill="#262626" font-family='"Liberation Sans", sans-serif' text-anchor="end" textLength="8.69" lengthAdjust="spacingAndGlyphs" stroke="#262626" stroke-width="0.22">30</text>
<line x1="416.20" y1="174.45" x2="419.20" y2="174.45" stroke="#222" stroke-width="1.1"/>
<text x="415.00" y="177.47" font-size="8.4" fill="#262626" font-family='"Liberation Sans", sans-serif' text-anchor="end" textLength="8.69" lengthAdjust="spacingAndGlyphs" stroke="#262626" stroke-width="0.22">40</text>
<line x1="419.20" y1="242.00" x2="520.00" y2="242.00" stroke="#222" stroke-width="1.1"/>
<line x1="420.00" y1="242.00" x2="420.00" y2="244.60" stroke="#222" stroke-width="1.1"/>
<text x="420.00" y="252.90" font-size="8.4" fill="#262626" font-family='"Liberation Sans", sans-serif' text-anchor="middle" textLength="4.34" lengthAdjust="spacingAndGlyphs" stroke="#262626" stroke-width="0.22">0</text>
<line x1="437.00" y1="242.00" x2="437.00" y2="244.60" stroke="#222" stroke-width="1.1"/>
<text x="437.00" y="252.90" font-size="8.4" fill="#262626" font-family='"Liberation Sans", sans-serif' text-anchor="middle" textLength="8.69" lengthAdjust="spacingAndGlyphs" stroke="#262626" stroke-width="0.22">10</text>
<line x1="454.00" y1="242.00" x2="454.00" y2="244.60" stroke="#222" stroke-width="1.1"/>
<text x="454.00" y="252.90" font-size="8.4" fill="#262626" font-family='"Liberation Sans", sans-serif' text-anchor="middle" textLength="8.69" lengthAdjust="spacingAndGlyphs" stroke="#262626" stroke-width="0.22">20</text>
<line x1="471.00" y1="242.00" x2="471.00" y2="244.60" stroke="#222" stroke-width="1.1"/>
<text x="471.00" y="252.90" font-size="8.4" fill="#262626" font-family='"Liberation Sans", sans-serif' text-anchor="middle" textLength="8.69" lengthAdjust="spacingAndGlyphs" stroke="#262626" stroke-width="0.22">30</text>
<line x1="488.00" y1="242.00" x2="488.00" y2="244.60" stroke="#222" stroke-width="1.1"/>
<text x="488.00" y="252.90" font-size="8.4" fill="#262626" font-family='"Liberation Sans", sans-serif' text-anchor="middle" textLength="8.69" lengthAdjust="spacingAndGlyphs" stroke="#262626" stroke-width="0.22">40</text>
<line x1="505.00" y1="242.00" x2="505.00" y2="244.60" stroke="#222" stroke-width="1.1"/>
<text x="505.00" y="252.90" font-size="8.4" fill="#262626" font-family='"Liberation Sans", sans-serif' text-anchor="middle" textLength="8.69" lengthAdjust="spacingAndGlyphs" stroke="#262626" stroke-width="0.22">50</text>
<text x="468.40" y="265.60" font-size="10" fill="#262626" font-family='"Liberation Sans", sans-serif' text-anchor="middle" textLength="79.20" lengthAdjust="spacingAndGlyphs" stroke="#262626" stroke-width="0.22">Months post-transplant</text>
<polyline points="427.65,237.07 438.70,228.56 445.50,223.21 450.60,221.04 455.70,216.53 467.60,209.35 476.10,206.35 479.50,205.18 486.30,204.01 491.40,202.84 499.90,190.48 511.80,186.14 513.50,185.81" fill="none" stroke="#c41d3c" stroke-width="1.05" stroke-linejoin="round"/>
<circle cx="427.65" cy="237.07" r="1.65" fill="#c41d3c"/>
<circle cx="438.70" cy="228.56" r="1.65" fill="#c41d3c"/>
<circle cx="445.50" cy="223.21" r="1.65" fill="#c41d3c"/>
<circle cx="450.60" cy="221.04" r="1.65" fill="#c41d3c"/>
<circle cx="455.70" cy="216.53" r="1.65" fill="#c41d3c"/>
<circle cx="467.60" cy="209.35" r="1.65" fill="#c41d3c"/>
<circle cx="476.10" cy="206.35" r="1.65" fill="#c41d3c"/>
<circle cx="479.50" cy="205.18" r="1.65" fill="#c41d3c"/>
<circle cx="486.30" cy="204.01" r="1.65" fill="#c41d3c"/>
<circle cx="491.40" cy="202.84" r="1.65" fill="#c41d3c"/>
<circle cx="499.90" cy="190.48" r="1.65" fill="#c41d3c"/>
<circle cx="511.80" cy="186.14" r="1.65" fill="#c41d3c"/>
<circle cx="513.50" cy="185.81" r="1.65" fill="#c41d3c"/>
<polyline points="421.70,240.80 431.05,239.91 435.30,238.61 437.00,238.68 442.10,238.08 448.90,237.21 455.70,237.23 460.80,237.13 462.50,236.51 467.60,235.41 475.25,233.40 477.80,233.23" fill="none" stroke="#1d5088" stroke-width="1.05" stroke-linejoin="round"/>
<circle cx="421.70" cy="240.80" r="1.65" fill="#1d5088"/>
<circle cx="431.05" cy="239.91" r="1.65" fill="#1d5088"/>
<circle cx="435.30" cy="238.61" r="1.65" fill="#1d5088"/>
<circle cx="437.00" cy="238.68" r="1.65" fill="#1d5088"/>
<circle cx="442.10" cy="238.08" r="1.65" fill="#1d5088"/>
<circle cx="448.90" cy="237.21" r="1.65" fill="#1d5088"/>
<circle cx="455.70" cy="237.23" r="1.65" fill="#1d5088"/>
<circle cx="460.80" cy="237.13" r="1.65" fill="#1d5088"/>
<circle cx="462.50" cy="236.51" r="1.65" fill="#1d5088"/>
<circle cx="467.60" cy="235.41" r="1.65" fill="#1d5088"/>
<circle cx="475.25" cy="233.40" r="1.65" fill="#1d5088"/>
<circle cx="477.80" cy="233.23" r="1.65" fill="#1d5088"/>
<polyline points="421.87,240.15 423.57,239.36 425.27,238.91 426.97,239.08 430.32,234.79 431.90,230.23 435.47,226.72 438.87,220.46 440.40,212.19 442.27,203.68" fill="none" stroke="#45ad4c" stroke-width="1.05" stroke-linejoin="round"/>
<circle cx="421.87" cy="240.15" r="1.65" fill="#45ad4c"/>
<circle cx="423.57" cy="239.36" r="1.65" fill="#45ad4c"/>
<circle cx="425.27" cy="238.91" r="1.65" fill="#45ad4c"/>
<circle cx="426.97" cy="239.08" r="1.65" fill="#45ad4c"/>
<circle cx="430.32" cy="234.79" r="1.65" fill="#45ad4c"/>
<circle cx="431.90" cy="230.23" r="1.65" fill="#45ad4c"/>
<circle cx="435.47" cy="226.72" r="1.65" fill="#45ad4c"/>
<circle cx="438.87" cy="220.46" r="1.65" fill="#45ad4c"/>
<circle cx="440.40" cy="212.19" r="1.65" fill="#45ad4c"/>
<circle cx="442.27" cy="203.68" r="1.65" fill="#45ad4c"/>
<text x="423.20" y="177.80" font-size="7.8" fill="#262626" font-family='"Liberation Sans", sans-serif'>Td</text>
<line x1="423.20" y1="179.30" x2="431.50" y2="179.30" stroke="#262626" stroke-width="0.6"/>
<text x="423.20" y="186.20" font-size="7.8" fill="#c41d3c" font-family='"Liberation Sans", sans-serif'>9.3</text>
<text x="423.20" y="194.20" font-size="7.8" fill="#24548a" font-family='"Liberation Sans", sans-serif'>10.4</text>
<text x="423.20" y="202.40" font-size="7.8" fill="#45ad4c" font-family='"Liberation Sans", sans-serif'>2.4</text>
<line x1="492.30" y1="213.80" x2="498.50" y2="213.80" stroke="#c41d3c" stroke-width="1.0"/>
<circle cx="495.4" cy="213.80" r="1.5" fill="#c41d3c"/>
<text x="501.90" y="216.40" font-size="7.4" fill="#262626" font-family='"Liberation Sans", sans-serif' textLength="15.52" lengthAdjust="spacingAndGlyphs">ZL26</text>
<line x1="492.30" y1="223.25" x2="498.50" y2="223.25" stroke="#1d5088" stroke-width="1.0"/>
<circle cx="495.4" cy="223.25" r="1.5" fill="#1d5088"/>
<text x="501.90" y="225.85" font-size="7.4" fill="#262626" font-family='"Liberation Sans", sans-serif' textLength="15.52" lengthAdjust="spacingAndGlyphs">ZL39</text>
<line x1="492.30" y1="232.70" x2="498.50" y2="232.70" stroke="#45ad4c" stroke-width="1.0"/>
<circle cx="495.4" cy="232.70" r="1.5" fill="#45ad4c"/>
<text x="501.90" y="235.30" font-size="7.4" fill="#262626" font-family='"Liberation Sans", sans-serif' textLength="16.65" lengthAdjust="spacingAndGlyphs">ZH63</text>
<text x="1.50" y="282.60" font-size="10.5" fill="#111" font-family='"Liberation Sans", sans-serif' font-weight="bold" textLength="7.60" lengthAdjust="spacingAndGlyphs">E</text>
<text x="67.90" y="287.00" font-size="10.2" fill="#262626" font-family='"Liberation Sans", sans-serif' text-anchor="middle" textLength="45.80" lengthAdjust="spacingAndGlyphs" stroke="#262626" stroke-width="0.22">ZL26 TET2</text>
<polygon points="31.79,380.44 40.43,380.37 45.75,380.35 49.74,380.35 53.73,380.27 63.04,380.35 69.69,380.33 72.35,380.31 77.67,380.16 81.66,380.27 88.31,380.29 97.62,380.33 98.95,380.23 98.95,380.50 97.62,380.50 88.31,380.50 81.66,380.50 77.67,380.50 72.35,380.50 69.69,380.50 63.04,380.50 53.73,380.50 49.74,380.50 45.75,380.50 40.43,380.50 31.79,380.50" fill="#bfc8bb" stroke="#bfc8bb" stroke-width="0.3"/>
<polygon points="31.79,380.27 40.43,380.06 45.75,380.00 49.74,380.04 53.73,380.04 63.04,380.16 69.69,380.10 72.35,380.10 77.67,379.93 81.66,379.98 88.31,380.08 97.62,379.96 98.95,379.79 98.95,380.23 97.62,380.33 88.31,380.29 81.66,380.27 77.67,380.16 72.35,380.31 69.69,380.33 63.04,380.35 53.73,380.27 49.74,380.35 45.75,380.35 40.43,380.37 31.79,380.44" fill="#33c435" stroke="#33c435" stroke-width="0.3"/>
<polygon points="31.79,380.27 40.43,380.06 45.75,379.98 49.74,380.04 53.73,380.04 63.04,380.16 69.69,380.10 72.35,380.10 77.67,379.91 81.66,379.98 88.31,380.08 97.62,379.96 98.95,379.79 98.95,379.79 97.62,379.96 88.31,380.08 81.66,379.98 77.67,379.93 72.35,380.10 69.69,380.10 63.04,380.16 53.73,380.04 49.74,380.04 45.75,380.00 40.43,380.06 31.79,380.27" fill="#0c14d8" stroke="#0c14d8" stroke-width="0.3"/>
<polygon points="31.79,380.12 40.43,379.91 45.75,379.62 49.74,379.58 53.73,379.64 63.04,379.83 69.69,379.70 72.35,379.62 77.67,379.49 81.66,379.41 88.31,379.70 97.62,379.60 98.95,379.41 98.95,379.79 97.62,379.96 88.31,380.08 81.66,379.98 77.67,379.91 72.35,380.10 69.69,380.10 63.04,380.16 53.73,380.04 49.74,380.04 45.75,379.98 40.43,380.06 31.79,380.27" fill="#8a6416" stroke="#8a6416" stroke-width="0.3"/>
<polygon points="31.79,379.52 40.43,379.14 45.75,378.76 49.74,378.72 53.73,378.76 63.04,378.99 69.69,378.80 72.35,378.84 77.67,378.61 81.66,378.61 88.31,378.95 97.62,378.80 98.95,378.61 98.95,379.41 97.62,379.60 88.31,379.70 81.66,379.41 77.67,379.49 72.35,379.62 69.69,379.70 63.04,379.83 53.73,379.64 49.74,379.58 45.75,379.62 40.43,379.91 31.79,380.12" fill="#fbf500" stroke="#fbf500" stroke-width="0.3"/>
<polygon points="31.79,379.01 40.43,378.13 45.75,377.44 49.74,377.32 53.73,377.23 63.04,377.34 69.69,376.98 72.35,377.02 77.67,376.71 81.66,376.62 88.31,376.79 97.62,376.16 98.95,376.48 98.95,378.61 97.62,378.80 88.31,378.95 81.66,378.61 77.67,378.61 72.35,378.84 69.69,378.80 63.04,378.99 53.73,378.76 49.74,378.72 45.75,378.76 40.43,379.14 31.79,379.52" fill="#b38af4" stroke="#b38af4" stroke-width="0.3"/>
<polygon points="31.79,378.74 40.43,376.77 45.75,374.55 49.74,373.86 53.73,372.56 63.04,370.46 69.69,370.93 72.35,371.03 77.67,370.84 81.66,372.43 88.31,370.93 97.62,371.58 98.95,371.47 98.95,376.48 97.62,376.16 88.31,376.79 81.66,376.62 77.67,376.71 72.35,377.02 69.69,376.98 63.04,377.34 53.73,377.23 49.74,377.32 45.75,377.44 40.43,378.13 31.79,379.01" fill="#f27a68" stroke="#f27a68" stroke-width="0.3"/>
<polygon points="31.79,377.67 40.43,374.34 45.75,371.62 49.74,370.84 53.73,369.65 63.04,366.71 69.69,366.97 72.35,366.92 77.67,366.59 81.66,368.16 88.31,366.13 97.62,367.22 98.95,366.19 98.95,371.47 97.62,371.58 88.31,370.93 81.66,372.43 77.67,370.84 72.35,371.03 69.69,370.93 63.04,370.46 53.73,372.56 49.74,373.86 45.75,374.55 40.43,376.77 31.79,378.74" fill="#f8d6ef" stroke="#f8d6ef" stroke-width="0.3"/>
<polygon points="31.79,377.23 40.43,372.37 45.75,368.24 49.74,367.36 53.73,364.33 63.04,360.07 69.69,360.62 72.35,360.18 77.67,360.89 81.66,362.94 88.31,359.47 97.62,362.48 98.95,360.74 98.95,366.19 97.62,367.22 88.31,366.13 81.66,368.16 77.67,366.59 72.35,366.92 69.69,366.97 63.04,366.71 53.73,369.65 49.74,370.84 45.75,371.62 40.43,374.34 31.79,377.67" fill="#c3331c" stroke="#c3331c" stroke-width="0.3"/>
<polygon points="31.79,377.17 40.43,371.09 45.75,366.21 49.74,364.98 53.73,360.79 63.04,353.66 69.69,351.82 72.35,352.66 77.67,351.84 81.66,350.90 88.31,342.25 97.62,342.87 98.95,340.28 98.95,360.74 97.62,362.48 88.31,359.47 81.66,362.94 77.67,360.89 72.35,360.18 69.69,360.62 63.04,360.07 53.73,364.33 49.74,367.36 45.75,368.24 40.43,372.37 31.79,377.23" fill="#e463a6" stroke="#e463a6" stroke-width="0.3"/>
<polygon points="31.79,374.59 40.43,364.49 45.75,357.56 49.74,355.15 53.73,348.99 63.04,340.34 69.69,336.04 72.35,335.98 77.67,332.92 81.66,332.57 88.31,316.75 97.62,311.41 98.95,310.65 98.95,340.28 97.62,342.87 88.31,342.25 81.66,350.90 77.67,351.84 72.35,352.66 69.69,351.82 63.04,353.66 53.73,360.79 49.74,364.98 45.75,366.21 40.43,371.09 31.79,377.17" fill="#f8b322" stroke="#f8b322" stroke-width="0.3"/>
<line x1="28.80" y1="292.70" x2="28.80" y2="385.00" stroke="#222" stroke-width="1.1"/>
<line x1="25.80" y1="380.50" x2="28.80" y2="380.50" stroke="#222" stroke-width="1.1"/>
<text x="22.60" y="383.74" font-size="9" fill="#262626" font-family='"Liberation Sans", sans-serif' text-anchor="end" textLength="4.25" lengthAdjust="spacingAndGlyphs" stroke="#262626" stroke-width="0.22">0</text>
<line x1="25.80" y1="359.55" x2="28.80" y2="359.55" stroke="#222" stroke-width="1.1"/>
<text x="22.60" y="362.79" font-size="9" fill="#262626" font-family='"Liberation Sans", sans-serif' text-anchor="end" textLength="8.51" lengthAdjust="spacingAndGlyphs" stroke="#262626" stroke-width="0.22">10</text>
<line x1="25.80" y1="338.60" x2="28.80" y2="338.60" stroke="#222" stroke-width="1.1"/>
<text x="22.60" y="341.84" font-size="9" fill="#262626" font-family='"Liberation Sans", sans-serif' text-anchor="end" textLength="8.51" lengthAdjust="spacingAndGlyphs" stroke="#262626" stroke-width="0.22">20</text>
<line x1="25.80" y1="317.65" x2="28.80" y2="317.65" stroke="#222" stroke-width="1.1"/>
<text x="22.60" y="320.89" font-size="9" fill="#262626" font-family='"Liberation Sans", sans-serif' text-anchor="end" textLength="8.51" lengthAdjust="spacingAndGlyphs" stroke="#262626" stroke-width="0.22">30</text>
<line x1="25.80" y1="296.70" x2="28.80" y2="296.70" stroke="#222" stroke-width="1.1"/>
<text x="22.60" y="299.94" font-size="9" fill="#262626" font-family='"Liberation Sans", sans-serif' text-anchor="end" textLength="8.51" lengthAdjust="spacingAndGlyphs" stroke="#262626" stroke-width="0.22">40</text>
<line x1="28.40" y1="385.30" x2="101.00" y2="385.30" stroke="#222" stroke-width="1.1"/>
<line x1="28.40" y1="385.30" x2="28.40" y2="387.90" stroke="#222" stroke-width="1.1"/>
<text x="28.40" y="397.50" font-size="9" fill="#262626" font-family='"Liberation Sans", sans-serif' text-anchor="middle" textLength="4.25" lengthAdjust="spacingAndGlyphs" stroke="#262626" stroke-width="0.22">0</text>
<line x1="52.40" y1="385.30" x2="52.40" y2="387.90" stroke="#222" stroke-width="1.1"/>
<text x="52.40" y="397.50" font-size="9" fill="#262626" font-family='"Liberation Sans", sans-serif' text-anchor="middle" textLength="8.51" lengthAdjust="spacingAndGlyphs" stroke="#262626" stroke-width="0.22">20</text>
<line x1="78.80" y1="385.30" x2="78.80" y2="387.90" stroke="#222" stroke-width="1.1"/>
<text x="78.80" y="397.50" font-size="9" fill="#262626" font-family='"Liberation Sans", sans-serif' text-anchor="middle" textLength="8.51" lengthAdjust="spacingAndGlyphs" stroke="#262626" stroke-width="0.22">40</text>
<line x1="39.10" y1="385.30" x2="39.10" y2="387.38" stroke="#222" stroke-width="1.1"/>
<line x1="65.70" y1="385.30" x2="65.70" y2="387.38" stroke="#222" stroke-width="1.1"/>
<line x1="92.30" y1="385.30" x2="92.30" y2="387.38" stroke="#222" stroke-width="1.1"/>
<text x="65.60" y="408.50" font-size="9.8" fill="#262626" font-family='"Liberation Sans", sans-serif' text-anchor="middle" textLength="78.80" lengthAdjust="spacingAndGlyphs" stroke="#262626" stroke-width="0.22">Months post-transplant</text>
<text x="9.20" y="381.80" font-size="9.2" fill="#262626" font-family='"Liberation Sans", sans-serif' textLength="84.00" lengthAdjust="spacingAndGlyphs" transform="rotate(-90 9.20 381.80)" stroke="#262626" stroke-width="0.22">Mutant allele fraction (%)</text>
<line x1="145.94" y1="284.85" x2="149.34" y2="284.85" stroke="#e8383c" stroke-width="0.85"/>
<line x1="150.49" y1="284.85" x2="153.89" y2="284.85" stroke="#e8383c" stroke-width="0.85"/>
<line x1="155.04" y1="284.85" x2="158.44" y2="284.85" stroke="#e8383c" stroke-width="0.85"/>
<line x1="159.59" y1="284.85" x2="162.99" y2="284.85" stroke="#e8383c" stroke-width="0.85"/>
<text x="127.20" y="287.45" font-size="7.58" fill="#6e6e6e" font-family='"Liberation Mono", monospace'>CGTC</text>
<text x="163.58" y="287.45" font-size="7.58" fill="#6e6e6e" font-family='"Liberation Mono", monospace'>CTCAGGGGTCAC</text>
<rect x="222.30" y="280.50" width="8.50" height="8.50" fill="#bfc8bb"/>
<line x1="136.85" y1="295.15" x2="140.25" y2="295.15" stroke="#e8383c" stroke-width="0.85"/>
<line x1="141.39" y1="295.15" x2="144.79" y2="295.15" stroke="#e8383c" stroke-width="0.85"/>
<line x1="145.94" y1="295.15" x2="149.34" y2="295.15" stroke="#e8383c" stroke-width="0.85"/>
<line x1="150.49" y1="295.15" x2="153.89" y2="295.15" stroke="#e8383c" stroke-width="0.85"/>
<line x1="155.04" y1="295.15" x2="158.44" y2="295.15" stroke="#e8383c" stroke-width="0.85"/>
<line x1="159.59" y1="295.15" x2="162.99" y2="295.15" stroke="#e8383c" stroke-width="0.85"/>
<line x1="164.13" y1="295.15" x2="167.53" y2="295.15" stroke="#e8383c" stroke-width="0.85"/>
<text x="127.20" y="297.75" font-size="7.58" fill="#6e6e6e" font-family='"Liberation Mono", monospace'>CG</text>
<text x="168.13" y="297.75" font-size="7.58" fill="#6e6e6e" font-family='"Liberation Mono", monospace'>TCAGGGGTCAC</text>
<rect x="222.30" y="290.80" width="8.50" height="8.50" fill="#33c435"/>
<line x1="132.30" y1="305.45" x2="135.70" y2="305.45" stroke="#e8383c" stroke-width="0.85"/>
<line x1="136.85" y1="305.45" x2="140.25" y2="305.45" stroke="#e8383c" stroke-width="0.85"/>
<line x1="141.39" y1="305.45" x2="144.79" y2="305.45" stroke="#e8383c" stroke-width="0.85"/>
<line x1="145.94" y1="305.45" x2="149.34" y2="305.45" stroke="#e8383c" stroke-width="0.85"/>
<line x1="150.49" y1="305.45" x2="153.89" y2="305.45" stroke="#e8383c" stroke-width="0.85"/>
<line x1="155.04" y1="305.45" x2="158.44" y2="305.45" stroke="#e8383c" stroke-width="0.85"/>
<line x1="159.59" y1="305.45" x2="162.99" y2="305.45" stroke="#e8383c" stroke-width="0.85"/>
<line x1="164.13" y1="305.45" x2="167.53" y2="305.45" stroke="#e8383c" stroke-width="0.85"/>
<line x1="168.68" y1="305.45" x2="172.08" y2="305.45" stroke="#e8383c" stroke-width="0.85"/>
<line x1="173.23" y1="305.45" x2="176.63" y2="305.45" stroke="#e8383c" stroke-width="0.85"/>
<line x1="177.78" y1="305.45" x2="181.18" y2="305.45" stroke="#e8383c" stroke-width="0.85"/>
<line x1="182.33" y1="305.45" x2="185.73" y2="305.45" stroke="#e8383c" stroke-width="0.85"/>
<line x1="186.87" y1="305.45" x2="190.27" y2="305.45" stroke="#e8383c" stroke-width="0.85"/>
<line x1="191.42" y1="305.45" x2="194.82" y2="305.45" stroke="#e8383c" stroke-width="0.85"/>
<text x="127.20" y="308.05" font-size="7.58" fill="#6e6e6e" font-family='"Liberation Mono", monospace'>C</text>
<text x="195.42" y="308.05" font-size="7.58" fill="#6e6e6e" font-family='"Liberation Mono", monospace'>GTCAC</text>
<rect x="222.30" y="301.10" width="8.50" height="8.50" fill="#0c14d8"/>
<line x1="173.23" y1="315.75" x2="176.63" y2="315.75" stroke="#e8383c" stroke-width="0.85"/>
<text x="127.20" y="318.35" font-size="7.58" fill="#6e6e6e" font-family='"Liberation Mono", monospace'>CGTCCATTCT</text>
<text x="177.23" y="318.35" font-size="7.58" fill="#6e6e6e" font-family='"Liberation Mono", monospace'>AGGGGTCAC</text>
<rect x="222.30" y="311.40" width="8.50" height="8.50" fill="#8a6416"/>
<line x1="155.04" y1="326.05" x2="158.44" y2="326.05" stroke="#e8383c" stroke-width="0.85"/>
<line x1="159.59" y1="326.05" x2="162.99" y2="326.05" stroke="#e8383c" stroke-width="0.85"/>
<line x1="164.13" y1="326.05" x2="167.53" y2="326.05" stroke="#e8383c" stroke-width="0.85"/>
<text x="127.20" y="328.65" font-size="7.58" fill="#6e6e6e" font-family='"Liberation Mono", monospace'>CGTCCA</text>
<text x="168.13" y="328.65" font-size="7.58" fill="#6e6e6e" font-family='"Liberation Mono", monospace'>TCAGGGGTCAC</text>
<rect x="222.30" y="321.70" width="8.50" height="8.50" fill="#b38af4"/>
<text x="127.20" y="338.95" font-size="7.58" fill="#6e6e6e" font-family='"Liberation Mono", monospace'>CGTCCATTCT</text>
<text x="172.68" y="338.95" font-size="7.58" fill="#e2302c" font-family='"Liberation Mono", monospace'>T</text>
<text x="177.23" y="338.95" font-size="7.58" fill="#6e6e6e" font-family='"Liberation Mono", monospace'>CAGGGGTCA</text>
<rect x="222.30" y="332.00" width="8.50" height="8.50" fill="#fbf500"/>
<line x1="173.23" y1="346.65" x2="176.63" y2="346.65" stroke="#e8383c" stroke-width="0.85"/>
<line x1="177.78" y1="346.65" x2="181.18" y2="346.65" stroke="#e8383c" stroke-width="0.85"/>
<text x="127.20" y="349.25" font-size="7.58" fill="#6e6e6e" font-family='"Liberation Mono", monospace'>CGTCCATTCT</text>
<text x="181.78" y="349.25" font-size="7.58" fill="#6e6e6e" font-family='"Liberation Mono", monospace'>GGGGTCAC</text>
<rect x="222.30" y="342.30" width="8.50" height="8.50" fill="#f8d6ef"/>
<line x1="164.13" y1="356.95" x2="167.53" y2="356.95" stroke="#e8383c" stroke-width="0.85"/>
<text x="127.20" y="359.55" font-size="7.58" fill="#6e6e6e" font-family='"Liberation Mono", monospace'>CGTCCATT</text>
<text x="168.13" y="359.55" font-size="7.58" fill="#6e6e6e" font-family='"Liberation Mono", monospace'>TCAGGGGTCAC</text>
<rect x="222.30" y="352.60" width="8.50" height="8.50" fill="#c3331c"/>
<line x1="168.68" y1="367.25" x2="172.08" y2="367.25" stroke="#e8383c" stroke-width="0.85"/>
<text x="127.20" y="369.85" font-size="7.58" fill="#6e6e6e" font-family='"Liberation Mono", monospace'>CGTCCATTC</text>
<text x="172.68" y="369.85" font-size="7.58" fill="#6e6e6e" font-family='"Liberation Mono", monospace'>CAGGGGTCAC</text>
<rect x="222.30" y="362.90" width="8.50" height="8.50" fill="#f27a68"/>
<line x1="159.59" y1="377.55" x2="162.99" y2="377.55" stroke="#e8383c" stroke-width="0.85"/>
<line x1="164.13" y1="377.55" x2="167.53" y2="377.55" stroke="#e8383c" stroke-width="0.85"/>
<text x="127.20" y="380.15" font-size="7.58" fill="#6e6e6e" font-family='"Liberation Mono", monospace'>CGTCCAT</text>
<text x="168.13" y="380.15" font-size="7.58" fill="#6e6e6e" font-family='"Liberation Mono", monospace'>TCAGGGGTCAC</text>
<rect x="222.30" y="373.20" width="8.50" height="8.50" fill="#f8b322"/>
<line x1="150.49" y1="387.85" x2="153.89" y2="387.85" stroke="#e8383c" stroke-width="0.85"/>
<line x1="155.04" y1="387.85" x2="158.44" y2="387.85" stroke="#e8383c" stroke-width="0.85"/>
<line x1="159.59" y1="387.85" x2="162.99" y2="387.85" stroke="#e8383c" stroke-width="0.85"/>
<line x1="164.13" y1="387.85" x2="167.53" y2="387.85" stroke="#e8383c" stroke-width="0.85"/>
<line x1="168.68" y1="387.85" x2="172.08" y2="387.85" stroke="#e8383c" stroke-width="0.85"/>
<text x="127.20" y="390.45" font-size="7.58" fill="#6e6e6e" font-family='"Liberation Mono", monospace'>CGTCC</text>
<text x="172.68" y="390.45" font-size="7.58" fill="#6e6e6e" font-family='"Liberation Mono", monospace'>CAGGGGTCAC</text>
<rect x="222.30" y="383.50" width="8.50" height="8.50" fill="#e463a6"/>
<text x="127.20" y="400.75" font-size="7.58" fill="#6e6e6e" font-family='"Liberation Mono", monospace'>CGTCCATTCTCAGGGGTCAC</text>
<line x1="124.30" y1="282.50" x2="124.30" y2="392.60" stroke="#111" stroke-width="1.1"/>
<line x1="124.30" y1="395.00" x2="124.30" y2="404.00" stroke="#111" stroke-width="1.1"/>
<text x="120.60" y="338.50" font-size="9" fill="#262626" font-family='"Liberation Sans", sans-serif' text-anchor="middle" textLength="21.50" lengthAdjust="spacingAndGlyphs" transform="rotate(-90 120.60 338.50)" stroke="#262626" stroke-width="0.22">Indels</text>
<text x="120.60" y="398.05" font-size="9" fill="#262626" font-family='"Liberation Sans", sans-serif' text-anchor="middle" textLength="11.00" lengthAdjust="spacingAndGlyphs" transform="rotate(-90 120.60 398.05)" stroke="#262626" stroke-width="0.22">WT</text>
<line x1="185.80" y1="402.65" x2="199.20" y2="402.65" stroke="#333" stroke-width="0.8"/>
<polygon points="170.10,411.20 172.10,405.00 174.10,411.20" fill="#d8242c"/>
<text x="185.80" y="410.70" font-size="8.2" fill="#222" font-family='"Liberation Sans", sans-serif' textLength="16.70" lengthAdjust="spacingAndGlyphs" stroke="#222" stroke-width="0.22">PAM</text>
<rect x="234.00" y="279.60" width="16.95" height="10.35" fill="#6e9fd4"/>
<rect x="250.90" y="279.60" width="16.95" height="10.35" fill="#6e9fd4"/>
<rect x="267.80" y="279.60" width="16.95" height="10.35" fill="#a4cde8"/>
<rect x="284.70" y="279.60" width="16.95" height="10.35" fill="#b0d6ec"/>
<rect x="301.60" y="279.60" width="16.95" height="10.35" fill="#b5d9ed"/>
<rect x="318.50" y="279.60" width="16.95" height="10.35" fill="#b5d9ed"/>
<rect x="335.40" y="279.60" width="16.95" height="10.35" fill="#c5e3ed"/>
<rect x="352.30" y="279.60" width="16.95" height="10.35" fill="#b5d9ed"/>
<rect x="369.20" y="279.60" width="16.95" height="10.35" fill="#badced"/>
<rect x="386.10" y="279.60" width="16.95" height="10.35" fill="#bedfee"/>
<rect x="403.00" y="279.60" width="16.95" height="10.35" fill="#d0e9eb"/>
<rect x="419.90" y="279.60" width="16.95" height="10.35" fill="#c5e3ed"/>
<rect x="436.80" y="279.60" width="16.95" height="10.35" fill="#c2e1ee"/>
<rect x="453.70" y="279.60" width="16.95" height="10.35" fill="#badced"/>
<rect x="470.60" y="279.60" width="16.95" height="10.35" fill="#cae6ec"/>
<rect x="234.00" y="289.90" width="16.95" height="10.35" fill="#6e9fd4"/>
<rect x="250.90" y="289.90" width="16.95" height="10.35" fill="#6e9fd4"/>
<rect x="267.80" y="289.90" width="16.95" height="10.35" fill="#badced"/>
<rect x="284.70" y="289.90" width="16.95" height="10.35" fill="#cee8eb"/>
<rect x="301.60" y="289.90" width="16.95" height="10.35" fill="#d1eaea"/>
<rect x="318.50" y="289.90" width="16.95" height="10.35" fill="#cee8eb"/>
<rect x="335.40" y="289.90" width="16.95" height="10.35" fill="#c5e3ed"/>
<rect x="352.30" y="289.90" width="16.95" height="10.35" fill="#bedfee"/>
<rect x="369.20" y="289.90" width="16.95" height="10.35" fill="#c5e3ed"/>
<rect x="386.10" y="289.90" width="16.95" height="10.35" fill="#c2e1ee"/>
<rect x="403.00" y="289.90" width="16.95" height="10.35" fill="#c5e3ed"/>
<rect x="419.90" y="289.90" width="16.95" height="10.35" fill="#cce7ec"/>
<rect x="436.80" y="289.90" width="16.95" height="10.35" fill="#c2e1ee"/>
<rect x="453.70" y="289.90" width="16.95" height="10.35" fill="#d3ebea"/>
<rect x="470.60" y="289.90" width="16.95" height="10.35" fill="#d8eee7"/>
<rect x="234.00" y="300.20" width="16.95" height="10.35" fill="#6e9fd4"/>
<rect x="250.90" y="300.20" width="16.95" height="10.35" fill="#cae6ec"/>
<rect x="267.80" y="300.20" width="16.95" height="10.35" fill="#6e9fd4"/>
<rect x="284.70" y="300.20" width="16.95" height="10.35" fill="#6e9fd4"/>
<rect x="301.60" y="300.20" width="16.95" height="10.35" fill="#90bce0"/>
<rect x="318.50" y="300.20" width="16.95" height="10.35" fill="#6e9fd4"/>
<rect x="335.40" y="300.20" width="16.95" height="10.35" fill="#6e9fd4"/>
<rect x="352.30" y="300.20" width="16.95" height="10.35" fill="#6e9fd4"/>
<rect x="369.20" y="300.20" width="16.95" height="10.35" fill="#6e9fd4"/>
<rect x="386.10" y="300.20" width="16.95" height="10.35" fill="#6e9fd4"/>
<rect x="403.00" y="300.20" width="16.95" height="10.35" fill="#90bce0"/>
<rect x="419.90" y="300.20" width="16.95" height="10.35" fill="#6e9fd4"/>
<rect x="436.80" y="300.20" width="16.95" height="10.35" fill="#6e9fd4"/>
<rect x="453.70" y="300.20" width="16.95" height="10.35" fill="#6e9fd4"/>
<rect x="470.60" y="300.20" width="16.95" height="10.35" fill="#6e9fd4"/>
<rect x="234.00" y="310.50" width="16.95" height="10.35" fill="#6e9fd4"/>
<rect x="250.90" y="310.50" width="16.95" height="10.35" fill="#90bce0"/>
<rect x="267.80" y="310.50" width="16.95" height="10.35" fill="#b5d9ed"/>
<rect x="284.70" y="310.50" width="16.95" height="10.35" fill="#b5d9ed"/>
<rect x="301.60" y="310.50" width="16.95" height="10.35" fill="#d1eaea"/>
<rect x="318.50" y="310.50" width="16.95" height="10.35" fill="#daeee5"/>
<rect x="335.40" y="310.50" width="16.95" height="10.35" fill="#d5ece9"/>
<rect x="352.30" y="310.50" width="16.95" height="10.35" fill="#d0e9eb"/>
<rect x="369.20" y="310.50" width="16.95" height="10.35" fill="#d5ece9"/>
<rect x="386.10" y="310.50" width="16.95" height="10.35" fill="#dbefe3"/>
<rect x="403.00" y="310.50" width="16.95" height="10.35" fill="#d6ede9"/>
<rect x="419.90" y="310.50" width="16.95" height="10.35" fill="#e2f1dd"/>
<rect x="436.80" y="310.50" width="16.95" height="10.35" fill="#d3ebea"/>
<rect x="453.70" y="310.50" width="16.95" height="10.35" fill="#d1eaea"/>
<rect x="470.60" y="310.50" width="16.95" height="10.35" fill="#d3ebea"/>
<rect x="234.00" y="320.80" width="16.95" height="10.35" fill="#6e9fd4"/>
<rect x="250.90" y="320.80" width="16.95" height="10.35" fill="#b0d6ec"/>
<rect x="267.80" y="320.80" width="16.95" height="10.35" fill="#ddf0e1"/>
<rect x="284.70" y="320.80" width="16.95" height="10.35" fill="#eff7cd"/>
<rect x="301.60" y="320.80" width="16.95" height="10.35" fill="#f4f5c3"/>
<rect x="318.50" y="320.80" width="16.95" height="10.35" fill="#f5f4c0"/>
<rect x="335.40" y="320.80" width="16.95" height="10.35" fill="#f7f3bd"/>
<rect x="352.30" y="320.80" width="16.95" height="10.35" fill="#f9f2ba"/>
<rect x="369.20" y="320.80" width="16.95" height="10.35" fill="#faf1b6"/>
<rect x="386.10" y="320.80" width="16.95" height="10.35" fill="#faf1b6"/>
<rect x="403.00" y="320.80" width="16.95" height="10.35" fill="#fbf1b4"/>
<rect x="419.90" y="320.80" width="16.95" height="10.35" fill="#fcf1b2"/>
<rect x="436.80" y="320.80" width="16.95" height="10.35" fill="#fdefaf"/>
<rect x="453.70" y="320.80" width="16.95" height="10.35" fill="#fde7a5"/>
<rect x="470.60" y="320.80" width="16.95" height="10.35" fill="#fdefaf"/>
<rect x="234.00" y="331.10" width="16.95" height="10.35" fill="#6e9fd4"/>
<rect x="250.90" y="331.10" width="16.95" height="10.35" fill="#d8eee7"/>
<rect x="267.80" y="331.10" width="16.95" height="10.35" fill="#e4f2da"/>
<rect x="284.70" y="331.10" width="16.95" height="10.35" fill="#eaf5d3"/>
<rect x="301.60" y="331.10" width="16.95" height="10.35" fill="#ecf5d1"/>
<rect x="318.50" y="331.10" width="16.95" height="10.35" fill="#ecf5d1"/>
<rect x="335.40" y="331.10" width="16.95" height="10.35" fill="#edf6d0"/>
<rect x="352.30" y="331.10" width="16.95" height="10.35" fill="#ecf5d1"/>
<rect x="369.20" y="331.10" width="16.95" height="10.35" fill="#edf6d0"/>
<rect x="386.10" y="331.10" width="16.95" height="10.35" fill="#eaf5d3"/>
<rect x="403.00" y="331.10" width="16.95" height="10.35" fill="#edf6d0"/>
<rect x="419.90" y="331.10" width="16.95" height="10.35" fill="#ebf5d3"/>
<rect x="436.80" y="331.10" width="16.95" height="10.35" fill="#e9f4d4"/>
<rect x="453.70" y="331.10" width="16.95" height="10.35" fill="#ebf5d3"/>
<rect x="470.60" y="331.10" width="16.95" height="10.35" fill="#ebf5d3"/>
<rect x="234.00" y="341.40" width="16.95" height="10.35" fill="#6e9fd4"/>
<rect x="250.90" y="341.40" width="16.95" height="10.35" fill="#6e9fd4"/>
<rect x="267.80" y="341.40" width="16.95" height="10.35" fill="#f0f7cb"/>
<rect x="284.70" y="341.40" width="16.95" height="10.35" fill="#fdeaa9"/>
<rect x="301.60" y="341.40" width="16.95" height="10.35" fill="#fde3a0"/>
<rect x="318.50" y="341.40" width="16.95" height="10.35" fill="#fde29e"/>
<rect x="335.40" y="341.40" width="16.95" height="10.35" fill="#fde3a0"/>
<rect x="352.30" y="341.40" width="16.95" height="10.35" fill="#fdd596"/>
<rect x="369.20" y="341.40" width="16.95" height="10.35" fill="#fdd294"/>
<rect x="386.10" y="341.40" width="16.95" height="10.35" fill="#fcd093"/>
<rect x="403.00" y="341.40" width="16.95" height="10.35" fill="#fccd92"/>
<rect x="419.90" y="341.40" width="16.95" height="10.35" fill="#fccd91"/>
<rect x="436.80" y="341.40" width="16.95" height="10.35" fill="#fcc68d"/>
<rect x="453.70" y="341.40" width="16.95" height="10.35" fill="#fccc91"/>
<rect x="470.60" y="341.40" width="16.95" height="10.35" fill="#fcc08a"/>
<rect x="234.00" y="351.70" width="16.95" height="10.35" fill="#6e9fd4"/>
<rect x="250.90" y="351.70" width="16.95" height="10.35" fill="#6e9fd4"/>
<rect x="267.80" y="351.70" width="16.95" height="10.35" fill="#d8eee7"/>
<rect x="284.70" y="351.70" width="16.95" height="10.35" fill="#fcf1b3"/>
<rect x="301.60" y="351.70" width="16.95" height="10.35" fill="#fddc9a"/>
<rect x="318.50" y="351.70" width="16.95" height="10.35" fill="#fdda99"/>
<rect x="335.40" y="351.70" width="16.95" height="10.35" fill="#fcbf89"/>
<rect x="352.30" y="351.70" width="16.95" height="10.35" fill="#f9a674"/>
<rect x="369.20" y="351.70" width="16.95" height="10.35" fill="#faab78"/>
<rect x="386.10" y="351.70" width="16.95" height="10.35" fill="#f9a372"/>
<rect x="403.00" y="351.70" width="16.95" height="10.35" fill="#fbb782"/>
<rect x="419.90" y="351.70" width="16.95" height="10.35" fill="#fcc18a"/>
<rect x="436.80" y="351.70" width="16.95" height="10.35" fill="#f9a574"/>
<rect x="453.70" y="351.70" width="16.95" height="10.35" fill="#fcc78e"/>
<rect x="470.60" y="351.70" width="16.95" height="10.35" fill="#fcbc87"/>
<rect x="234.00" y="362.00" width="16.95" height="10.35" fill="#6e9fd4"/>
<rect x="250.90" y="362.00" width="16.95" height="10.35" fill="#add4eb"/>
<rect x="267.80" y="362.00" width="16.95" height="10.35" fill="#cae6ec"/>
<rect x="284.70" y="362.00" width="16.95" height="10.35" fill="#f5f4c1"/>
<rect x="301.60" y="362.00" width="16.95" height="10.35" fill="#fde4a0"/>
<rect x="318.50" y="362.00" width="16.95" height="10.35" fill="#fddb99"/>
<rect x="335.40" y="362.00" width="16.95" height="10.35" fill="#fcc88e"/>
<rect x="352.30" y="362.00" width="16.95" height="10.35" fill="#f8a171"/>
<rect x="369.20" y="362.00" width="16.95" height="10.35" fill="#fab07d"/>
<rect x="386.10" y="362.00" width="16.95" height="10.35" fill="#fab17e"/>
<rect x="403.00" y="362.00" width="16.95" height="10.35" fill="#fbb480"/>
<rect x="419.90" y="362.00" width="16.95" height="10.35" fill="#fcce92"/>
<rect x="436.80" y="362.00" width="16.95" height="10.35" fill="#fbb480"/>
<rect x="453.70" y="362.00" width="16.95" height="10.35" fill="#fcc98f"/>
<rect x="470.60" y="362.00" width="16.95" height="10.35" fill="#fcc38c"/>
<rect x="234.00" y="372.30" width="16.95" height="10.35" fill="#9dc7e5"/>
<rect x="250.90" y="372.30" width="16.95" height="10.35" fill="#c7e4ed"/>
<rect x="267.80" y="372.30" width="16.95" height="10.35" fill="#fde8a6"/>
<rect x="284.70" y="372.30" width="16.95" height="10.35" fill="#f9a674"/>
<rect x="301.60" y="372.30" width="16.95" height="10.35" fill="#f47f5c"/>
<rect x="318.50" y="372.30" width="16.95" height="10.35" fill="#f16d4f"/>
<rect x="335.40" y="372.30" width="16.95" height="10.35" fill="#ec553f"/>
<rect x="352.30" y="372.30" width="16.95" height="10.35" fill="#e84738"/>
<rect x="369.20" y="372.30" width="16.95" height="10.35" fill="#e43932"/>
<rect x="386.10" y="372.30" width="16.95" height="10.35" fill="#e23430"/>
<rect x="403.00" y="372.30" width="16.95" height="10.35" fill="#de2e2d"/>
<rect x="419.90" y="372.30" width="16.95" height="10.35" fill="#df302d"/>
<rect x="436.80" y="372.30" width="16.95" height="10.35" fill="#d52626"/>
<rect x="453.70" y="372.30" width="16.95" height="10.35" fill="#d02222"/>
<rect x="470.60" y="372.30" width="16.95" height="10.35" fill="#d22323"/>
<rect x="234.00" y="382.60" width="16.95" height="10.35" fill="#9dc7e5"/>
<rect x="250.90" y="382.60" width="16.95" height="10.35" fill="#6e9fd4"/>
<rect x="267.80" y="382.60" width="16.95" height="10.35" fill="#a4cde8"/>
<rect x="284.70" y="382.60" width="16.95" height="10.35" fill="#f4f5c4"/>
<rect x="301.60" y="382.60" width="16.95" height="10.35" fill="#fcf0b1"/>
<rect x="318.50" y="382.60" width="16.95" height="10.35" fill="#fdebaa"/>
<rect x="335.40" y="382.60" width="16.95" height="10.35" fill="#fdd998"/>
<rect x="352.30" y="382.60" width="16.95" height="10.35" fill="#f9aa77"/>
<rect x="369.20" y="382.60" width="16.95" height="10.35" fill="#f47d5a"/>
<rect x="386.10" y="382.60" width="16.95" height="10.35" fill="#f79369"/>
<rect x="403.00" y="382.60" width="16.95" height="10.35" fill="#f37957"/>
<rect x="419.90" y="382.60" width="16.95" height="10.35" fill="#ec523e"/>
<rect x="436.80" y="382.60" width="16.95" height="10.35" fill="#e1332f"/>
<rect x="453.70" y="382.60" width="16.95" height="10.35" fill="#dc2d2c"/>
<rect x="470.60" y="382.60" width="16.95" height="10.35" fill="#db2b2b"/>
<rect x="234.00" y="392.90" width="16.95" height="10.35" fill="#9e1010"/>
<rect x="250.90" y="392.90" width="16.95" height="10.35" fill="#9e1010"/>
<rect x="267.80" y="392.90" width="16.95" height="10.35" fill="#9f1010"/>
<rect x="284.70" y="392.90" width="16.95" height="10.35" fill="#a01111"/>
<rect x="301.60" y="392.90" width="16.95" height="10.35" fill="#a11112"/>
<rect x="318.50" y="392.90" width="16.95" height="10.35" fill="#a11112"/>
<rect x="335.40" y="392.90" width="16.95" height="10.35" fill="#a21113"/>
<rect x="352.30" y="392.90" width="16.95" height="10.35" fill="#a31213"/>
<rect x="369.20" y="392.90" width="16.95" height="10.35" fill="#a41214"/>
<rect x="386.10" y="392.90" width="16.95" height="10.35" fill="#a41214"/>
<rect x="403.00" y="392.90" width="16.95" height="10.35" fill="#a41214"/>
<rect x="419.90" y="392.90" width="16.95" height="10.35" fill="#a41214"/>
<rect x="436.80" y="392.90" width="16.95" height="10.35" fill="#a71316"/>
<rect x="453.70" y="392.90" width="16.95" height="10.35" fill="#a81316"/>
<rect x="470.60" y="392.90" width="16.95" height="10.35" fill="#a81316"/>
<line x1="234.00" y1="289.90" x2="487.50" y2="289.90" stroke="rgba(255,255,255,0.25)" stroke-width="0.4"/>
<line x1="234.00" y1="300.20" x2="487.50" y2="300.20" stroke="rgba(255,255,255,0.25)" stroke-width="0.4"/>
<line x1="234.00" y1="310.50" x2="487.50" y2="310.50" stroke="rgba(255,255,255,0.25)" stroke-width="0.4"/>
<line x1="234.00" y1="320.80" x2="487.50" y2="320.80" stroke="rgba(255,255,255,0.25)" stroke-width="0.4"/>
<line x1="234.00" y1="331.10" x2="487.50" y2="331.10" stroke="rgba(255,255,255,0.25)" stroke-width="0.4"/>
<line x1="234.00" y1="341.40" x2="487.50" y2="341.40" stroke="rgba(255,255,255,0.25)" stroke-width="0.4"/>
<line x1="234.00" y1="351.70" x2="487.50" y2="351.70" stroke="rgba(255,255,255,0.25)" stroke-width="0.4"/>
<line x1="234.00" y1="362.00" x2="487.50" y2="362.00" stroke="rgba(255,255,255,0.25)" stroke-width="0.4"/>
<line x1="234.00" y1="372.30" x2="487.50" y2="372.30" stroke="rgba(255,255,255,0.25)" stroke-width="0.4"/>
<line x1="234.00" y1="382.60" x2="487.50" y2="382.60" stroke="rgba(255,255,255,0.25)" stroke-width="0.4"/>
<line x1="234.00" y1="392.90" x2="487.50" y2="392.90" stroke="rgba(255,255,255,0.25)" stroke-width="0.4"/>
<line x1="250.90" y1="279.60" x2="250.90" y2="403.20" stroke="rgba(255,255,255,0.25)" stroke-width="0.4"/>
<line x1="267.80" y1="279.60" x2="267.80" y2="403.20" stroke="rgba(255,255,255,0.25)" stroke-width="0.4"/>
<line x1="284.70" y1="279.60" x2="284.70" y2="403.20" stroke="rgba(255,255,255,0.25)" stroke-width="0.4"/>
<line x1="301.60" y1="279.60" x2="301.60" y2="403.20" stroke="rgba(255,255,255,0.25)" stroke-width="0.4"/>
<line x1="318.50" y1="279.60" x2="318.50" y2="403.20" stroke="rgba(255,255,255,0.25)" stroke-width="0.4"/>
<line x1="335.40" y1="279.60" x2="335.40" y2="403.20" stroke="rgba(255,255,255,0.25)" stroke-width="0.4"/>
<line x1="352.30" y1="279.60" x2="352.30" y2="403.20" stroke="rgba(255,255,255,0.25)" stroke-width="0.4"/>
<line x1="369.20" y1="279.60" x2="369.20" y2="403.20" stroke="rgba(255,255,255,0.25)" stroke-width="0.4"/>
<line x1="386.10" y1="279.60" x2="386.10" y2="403.20" stroke="rgba(255,255,255,0.25)" stroke-width="0.4"/>
<line x1="403.00" y1="279.60" x2="403.00" y2="403.20" stroke="rgba(255,255,255,0.25)" stroke-width="0.4"/>
<line x1="419.90" y1="279.60" x2="419.90" y2="403.20" stroke="rgba(255,255,255,0.25)" stroke-width="0.4"/>
<line x1="436.80" y1="279.60" x2="436.80" y2="403.20" stroke="rgba(255,255,255,0.25)" stroke-width="0.4"/>
<line x1="453.70" y1="279.60" x2="453.70" y2="403.20" stroke="rgba(255,255,255,0.25)" stroke-width="0.4"/>
<line x1="470.60" y1="279.60" x2="470.60" y2="403.20" stroke="rgba(255,255,255,0.25)" stroke-width="0.4"/>
<text x="242.45" y="286.30" font-size="4.3" fill="#1e1e2a" font-family='"Liberation Sans", sans-serif' text-anchor="middle" font-weight="bold">0%</text>
<text x="259.35" y="286.30" font-size="4.3" fill="#1e1e2a" font-family='"Liberation Sans", sans-serif' text-anchor="middle" font-weight="bold">0%</text>
<text x="276.25" y="286.30" font-size="4.3" fill="#1e1e2a" font-family='"Liberation Sans", sans-serif' text-anchor="middle" font-weight="bold">0.03%</text>
<text x="293.15" y="286.30" font-size="4.3" fill="#1e1e2a" font-family='"Liberation Sans", sans-serif' text-anchor="middle" font-weight="bold">0.06%</text>
<text x="310.05" y="286.30" font-size="4.3" fill="#1e1e2a" font-family='"Liberation Sans", sans-serif' text-anchor="middle" font-weight="bold">0.07%</text>
<text x="326.95" y="286.30" font-size="4.3" fill="#1e1e2a" font-family='"Liberation Sans", sans-serif' text-anchor="middle" font-weight="bold">0.07%</text>
<text x="343.85" y="286.30" font-size="4.3" fill="#1e1e2a" font-family='"Liberation Sans", sans-serif' text-anchor="middle" font-weight="bold">0.11%</text>
<text x="360.75" y="286.30" font-size="4.3" fill="#1e1e2a" font-family='"Liberation Sans", sans-serif' text-anchor="middle" font-weight="bold">0.07%</text>
<text x="377.65" y="286.30" font-size="4.3" fill="#1e1e2a" font-family='"Liberation Sans", sans-serif' text-anchor="middle" font-weight="bold">0.08%</text>
<text x="394.55" y="286.30" font-size="4.3" fill="#1e1e2a" font-family='"Liberation Sans", sans-serif' text-anchor="middle" font-weight="bold">0.09%</text>
<text x="411.45" y="286.30" font-size="4.3" fill="#1e1e2a" font-family='"Liberation Sans", sans-serif' text-anchor="middle" font-weight="bold">0.16%</text>
<text x="428.35" y="286.30" font-size="4.3" fill="#1e1e2a" font-family='"Liberation Sans", sans-serif' text-anchor="middle" font-weight="bold">0.11%</text>
<text x="445.25" y="286.30" font-size="4.3" fill="#1e1e2a" font-family='"Liberation Sans", sans-serif' text-anchor="middle" font-weight="bold">0.1%</text>
<text x="462.15" y="286.30" font-size="4.3" fill="#1e1e2a" font-family='"Liberation Sans", sans-serif' text-anchor="middle" font-weight="bold">0.08%</text>
<text x="479.05" y="286.30" font-size="4.3" fill="#1e1e2a" font-family='"Liberation Sans", sans-serif' text-anchor="middle" font-weight="bold">0.13%</text>
<text x="242.45" y="296.60" font-size="4.3" fill="#1e1e2a" font-family='"Liberation Sans", sans-serif' text-anchor="middle" font-weight="bold">0%</text>
<text x="259.35" y="296.60" font-size="4.3" fill="#1e1e2a" font-family='"Liberation Sans", sans-serif' text-anchor="middle" font-weight="bold">0%</text>
<text x="276.25" y="296.60" font-size="4.3" fill="#1e1e2a" font-family='"Liberation Sans", sans-serif' text-anchor="middle" font-weight="bold">0.08%</text>
<text x="293.15" y="296.60" font-size="4.3" fill="#1e1e2a" font-family='"Liberation Sans", sans-serif' text-anchor="middle" font-weight="bold">0.15%</text>
<text x="310.05" y="296.60" font-size="4.3" fill="#1e1e2a" font-family='"Liberation Sans", sans-serif' text-anchor="middle" font-weight="bold">0.17%</text>
<text x="326.95" y="296.60" font-size="4.3" fill="#1e1e2a" font-family='"Liberation Sans", sans-serif' text-anchor="middle" font-weight="bold">0.15%</text>
<text x="343.85" y="296.60" font-size="4.3" fill="#1e1e2a" font-family='"Liberation Sans", sans-serif' text-anchor="middle" font-weight="bold">0.11%</text>
<text x="360.75" y="296.60" font-size="4.3" fill="#1e1e2a" font-family='"Liberation Sans", sans-serif' text-anchor="middle" font-weight="bold">0.09%</text>
<text x="377.65" y="296.60" font-size="4.3" fill="#1e1e2a" font-family='"Liberation Sans", sans-serif' text-anchor="middle" font-weight="bold">0.11%</text>
<text x="394.55" y="296.60" font-size="4.3" fill="#1e1e2a" font-family='"Liberation Sans", sans-serif' text-anchor="middle" font-weight="bold">0.1%</text>
<text x="411.45" y="296.60" font-size="4.3" fill="#1e1e2a" font-family='"Liberation Sans", sans-serif' text-anchor="middle" font-weight="bold">0.11%</text>
<text x="428.35" y="296.60" font-size="4.3" fill="#1e1e2a" font-family='"Liberation Sans", sans-serif' text-anchor="middle" font-weight="bold">0.14%</text>
<text x="445.25" y="296.60" font-size="4.3" fill="#1e1e2a" font-family='"Liberation Sans", sans-serif' text-anchor="middle" font-weight="bold">0.1%</text>
<text x="462.15" y="296.60" font-size="4.3" fill="#1e1e2a" font-family='"Liberation Sans", sans-serif' text-anchor="middle" font-weight="bold">0.18%</text>
<text x="479.05" y="296.60" font-size="4.3" fill="#1e1e2a" font-family='"Liberation Sans", sans-serif' text-anchor="middle" font-weight="bold">0.21%</text>
<text x="242.45" y="306.90" font-size="4.3" fill="#1e1e2a" font-family='"Liberation Sans", sans-serif' text-anchor="middle" font-weight="bold">0%</text>
<text x="259.35" y="306.90" font-size="4.3" fill="#1e1e2a" font-family='"Liberation Sans", sans-serif' text-anchor="middle" font-weight="bold">0.13%</text>
<text x="276.25" y="306.90" font-size="4.3" fill="#1e1e2a" font-family='"Liberation Sans", sans-serif' text-anchor="middle" font-weight="bold">0%</text>
<text x="293.15" y="306.90" font-size="4.3" fill="#1e1e2a" font-family='"Liberation Sans", sans-serif' text-anchor="middle" font-weight="bold">0%</text>
<text x="310.05" y="306.90" font-size="4.3" fill="#1e1e2a" font-family='"Liberation Sans", sans-serif' text-anchor="middle" font-weight="bold">0.01%</text>
<text x="326.95" y="306.90" font-size="4.3" fill="#1e1e2a" font-family='"Liberation Sans", sans-serif' text-anchor="middle" font-weight="bold">0%</text>
<text x="343.85" y="306.90" font-size="4.3" fill="#1e1e2a" font-family='"Liberation Sans", sans-serif' text-anchor="middle" font-weight="bold">0%</text>
<text x="360.75" y="306.90" font-size="4.3" fill="#1e1e2a" font-family='"Liberation Sans", sans-serif' text-anchor="middle" font-weight="bold">0%</text>
<text x="377.65" y="306.90" font-size="4.3" fill="#1e1e2a" font-family='"Liberation Sans", sans-serif' text-anchor="middle" font-weight="bold">0%</text>
<text x="394.55" y="306.90" font-size="4.3" fill="#1e1e2a" font-family='"Liberation Sans", sans-serif' text-anchor="middle" font-weight="bold">0%</text>
<text x="411.45" y="306.90" font-size="4.3" fill="#1e1e2a" font-family='"Liberation Sans", sans-serif' text-anchor="middle" font-weight="bold">0.01%</text>
<text x="428.35" y="306.90" font-size="4.3" fill="#1e1e2a" font-family='"Liberation Sans", sans-serif' text-anchor="middle" font-weight="bold">0%</text>
<text x="445.25" y="306.90" font-size="4.3" fill="#1e1e2a" font-family='"Liberation Sans", sans-serif' text-anchor="middle" font-weight="bold">0%</text>
<text x="462.15" y="306.90" font-size="4.3" fill="#1e1e2a" font-family='"Liberation Sans", sans-serif' text-anchor="middle" font-weight="bold">0%</text>
<text x="479.05" y="306.90" font-size="4.3" fill="#1e1e2a" font-family='"Liberation Sans", sans-serif' text-anchor="middle" font-weight="bold">0%</text>
<text x="242.45" y="317.20" font-size="4.3" fill="#1e1e2a" font-family='"Liberation Sans", sans-serif' text-anchor="middle" font-weight="bold">0%</text>
<text x="259.35" y="317.20" font-size="4.3" fill="#1e1e2a" font-family='"Liberation Sans", sans-serif' text-anchor="middle" font-weight="bold">0.01%</text>
<text x="276.25" y="317.20" font-size="4.3" fill="#1e1e2a" font-family='"Liberation Sans", sans-serif' text-anchor="middle" font-weight="bold">0.07%</text>
<text x="293.15" y="317.20" font-size="4.3" fill="#1e1e2a" font-family='"Liberation Sans", sans-serif' text-anchor="middle" font-weight="bold">0.07%</text>
<text x="310.05" y="317.20" font-size="4.3" fill="#1e1e2a" font-family='"Liberation Sans", sans-serif' text-anchor="middle" font-weight="bold">0.17%</text>
<text x="326.95" y="317.20" font-size="4.3" fill="#1e1e2a" font-family='"Liberation Sans", sans-serif' text-anchor="middle" font-weight="bold">0.22%</text>
<text x="343.85" y="317.20" font-size="4.3" fill="#1e1e2a" font-family='"Liberation Sans", sans-serif' text-anchor="middle" font-weight="bold">0.19%</text>
<text x="360.75" y="317.20" font-size="4.3" fill="#1e1e2a" font-family='"Liberation Sans", sans-serif' text-anchor="middle" font-weight="bold">0.16%</text>
<text x="377.65" y="317.20" font-size="4.3" fill="#1e1e2a" font-family='"Liberation Sans", sans-serif' text-anchor="middle" font-weight="bold">0.19%</text>
<text x="394.55" y="317.20" font-size="4.3" fill="#1e1e2a" font-family='"Liberation Sans", sans-serif' text-anchor="middle" font-weight="bold">0.23%</text>
<text x="411.45" y="317.20" font-size="4.3" fill="#1e1e2a" font-family='"Liberation Sans", sans-serif' text-anchor="middle" font-weight="bold">0.2%</text>
<text x="428.35" y="317.20" font-size="4.3" fill="#1e1e2a" font-family='"Liberation Sans", sans-serif' text-anchor="middle" font-weight="bold">0.27%</text>
<text x="445.25" y="317.20" font-size="4.3" fill="#1e1e2a" font-family='"Liberation Sans", sans-serif' text-anchor="middle" font-weight="bold">0.18%</text>
<text x="462.15" y="317.20" font-size="4.3" fill="#1e1e2a" font-family='"Liberation Sans", sans-serif' text-anchor="middle" font-weight="bold">0.17%</text>
<text x="479.05" y="317.20" font-size="4.3" fill="#1e1e2a" font-family='"Liberation Sans", sans-serif' text-anchor="middle" font-weight="bold">0.18%</text>
<text x="242.45" y="327.50" font-size="4.3" fill="#1e1e2a" font-family='"Liberation Sans", sans-serif' text-anchor="middle" font-weight="bold">0%</text>
<text x="259.35" y="327.50" font-size="4.3" fill="#1e1e2a" font-family='"Liberation Sans", sans-serif' text-anchor="middle" font-weight="bold">0.06%</text>
<text x="276.25" y="327.50" font-size="4.3" fill="#1e1e2a" font-family='"Liberation Sans", sans-serif' text-anchor="middle" font-weight="bold">0.24%</text>
<text x="293.15" y="327.50" font-size="4.3" fill="#1e1e2a" font-family='"Liberation Sans", sans-serif' text-anchor="middle" font-weight="bold">0.48%</text>
<text x="310.05" y="327.50" font-size="4.3" fill="#1e1e2a" font-family='"Liberation Sans", sans-serif' text-anchor="middle" font-weight="bold">0.63%</text>
<text x="326.95" y="327.50" font-size="4.3" fill="#1e1e2a" font-family='"Liberation Sans", sans-serif' text-anchor="middle" font-weight="bold">0.67%</text>
<text x="343.85" y="327.50" font-size="4.3" fill="#1e1e2a" font-family='"Liberation Sans", sans-serif' text-anchor="middle" font-weight="bold">0.73%</text>
<text x="360.75" y="327.50" font-size="4.3" fill="#1e1e2a" font-family='"Liberation Sans", sans-serif' text-anchor="middle" font-weight="bold">0.79%</text>
<text x="377.65" y="327.50" font-size="4.3" fill="#1e1e2a" font-family='"Liberation Sans", sans-serif' text-anchor="middle" font-weight="bold">0.87%</text>
<text x="394.55" y="327.50" font-size="4.3" fill="#1e1e2a" font-family='"Liberation Sans", sans-serif' text-anchor="middle" font-weight="bold">0.87%</text>
<text x="411.45" y="327.50" font-size="4.3" fill="#1e1e2a" font-family='"Liberation Sans", sans-serif' text-anchor="middle" font-weight="bold">0.91%</text>
<text x="428.35" y="327.50" font-size="4.3" fill="#1e1e2a" font-family='"Liberation Sans", sans-serif' text-anchor="middle" font-weight="bold">0.95%</text>
<text x="445.25" y="327.50" font-size="4.3" fill="#1e1e2a" font-family='"Liberation Sans", sans-serif' text-anchor="middle" font-weight="bold">1.03%</text>
<text x="462.15" y="327.50" font-size="4.3" fill="#1e1e2a" font-family='"Liberation Sans", sans-serif' text-anchor="middle" font-weight="bold">1.26%</text>
<text x="479.05" y="327.50" font-size="4.3" fill="#1e1e2a" font-family='"Liberation Sans", sans-serif' text-anchor="middle" font-weight="bold">1.02%</text>
<text x="242.45" y="337.80" font-size="4.3" fill="#1e1e2a" font-family='"Liberation Sans", sans-serif' text-anchor="middle" font-weight="bold">0%</text>
<text x="259.35" y="337.80" font-size="4.3" fill="#1e1e2a" font-family='"Liberation Sans", sans-serif' text-anchor="middle" font-weight="bold">0.21%</text>
<text x="276.25" y="337.80" font-size="4.3" fill="#1e1e2a" font-family='"Liberation Sans", sans-serif' text-anchor="middle" font-weight="bold">0.29%</text>
<text x="293.15" y="337.80" font-size="4.3" fill="#1e1e2a" font-family='"Liberation Sans", sans-serif' text-anchor="middle" font-weight="bold">0.37%</text>
<text x="310.05" y="337.80" font-size="4.3" fill="#1e1e2a" font-family='"Liberation Sans", sans-serif' text-anchor="middle" font-weight="bold">0.41%</text>
<text x="326.95" y="337.80" font-size="4.3" fill="#1e1e2a" font-family='"Liberation Sans", sans-serif' text-anchor="middle" font-weight="bold">0.41%</text>
<text x="343.85" y="337.80" font-size="4.3" fill="#1e1e2a" font-family='"Liberation Sans", sans-serif' text-anchor="middle" font-weight="bold">0.42%</text>
<text x="360.75" y="337.80" font-size="4.3" fill="#1e1e2a" font-family='"Liberation Sans", sans-serif' text-anchor="middle" font-weight="bold">0.4%</text>
<text x="377.65" y="337.80" font-size="4.3" fill="#1e1e2a" font-family='"Liberation Sans", sans-serif' text-anchor="middle" font-weight="bold">0.43%</text>
<text x="394.55" y="337.80" font-size="4.3" fill="#1e1e2a" font-family='"Liberation Sans", sans-serif' text-anchor="middle" font-weight="bold">0.37%</text>
<text x="411.45" y="337.80" font-size="4.3" fill="#1e1e2a" font-family='"Liberation Sans", sans-serif' text-anchor="middle" font-weight="bold">0.42%</text>
<text x="428.35" y="337.80" font-size="4.3" fill="#1e1e2a" font-family='"Liberation Sans", sans-serif' text-anchor="middle" font-weight="bold">0.38%</text>
<text x="445.25" y="337.80" font-size="4.3" fill="#1e1e2a" font-family='"Liberation Sans", sans-serif' text-anchor="middle" font-weight="bold">0.36%</text>
<text x="462.15" y="337.80" font-size="4.3" fill="#1e1e2a" font-family='"Liberation Sans", sans-serif' text-anchor="middle" font-weight="bold">0.38%</text>
<text x="479.05" y="337.80" font-size="4.3" fill="#1e1e2a" font-family='"Liberation Sans", sans-serif' text-anchor="middle" font-weight="bold">0.38%</text>
<text x="242.45" y="348.10" font-size="4.3" fill="#1e1e2a" font-family='"Liberation Sans", sans-serif' text-anchor="middle" font-weight="bold">0%</text>
<text x="259.35" y="348.10" font-size="4.3" fill="#1e1e2a" font-family='"Liberation Sans", sans-serif' text-anchor="middle" font-weight="bold">0%</text>
<text x="276.25" y="348.10" font-size="4.3" fill="#1e1e2a" font-family='"Liberation Sans", sans-serif' text-anchor="middle" font-weight="bold">0.51%</text>
<text x="293.15" y="348.10" font-size="4.3" fill="#1e1e2a" font-family='"Liberation Sans", sans-serif' text-anchor="middle" font-weight="bold">1.16%</text>
<text x="310.05" y="348.10" font-size="4.3" fill="#1e1e2a" font-family='"Liberation Sans", sans-serif' text-anchor="middle" font-weight="bold">1.4%</text>
<text x="326.95" y="348.10" font-size="4.3" fill="#1e1e2a" font-family='"Liberation Sans", sans-serif' text-anchor="middle" font-weight="bold">1.44%</text>
<text x="343.85" y="348.10" font-size="4.3" fill="#1e1e2a" font-family='"Liberation Sans", sans-serif' text-anchor="middle" font-weight="bold">1.39%</text>
<text x="360.75" y="348.10" font-size="4.3" fill="#1e1e2a" font-family='"Liberation Sans", sans-serif' text-anchor="middle" font-weight="bold">1.79%</text>
<text x="377.65" y="348.10" font-size="4.3" fill="#1e1e2a" font-family='"Liberation Sans", sans-serif' text-anchor="middle" font-weight="bold">1.89%</text>
<text x="394.55" y="348.10" font-size="4.3" fill="#1e1e2a" font-family='"Liberation Sans", sans-serif' text-anchor="middle" font-weight="bold">1.96%</text>
<text x="411.45" y="348.10" font-size="4.3" fill="#1e1e2a" font-family='"Liberation Sans", sans-serif' text-anchor="middle" font-weight="bold">2.03%</text>
<text x="428.35" y="348.10" font-size="4.3" fill="#1e1e2a" font-family='"Liberation Sans", sans-serif' text-anchor="middle" font-weight="bold">2.04%</text>
<text x="445.25" y="348.10" font-size="4.3" fill="#1e1e2a" font-family='"Liberation Sans", sans-serif' text-anchor="middle" font-weight="bold">2.29%</text>
<text x="462.15" y="348.10" font-size="4.3" fill="#1e1e2a" font-family='"Liberation Sans", sans-serif' text-anchor="middle" font-weight="bold">2.08%</text>
<text x="479.05" y="348.10" font-size="4.3" fill="#1e1e2a" font-family='"Liberation Sans", sans-serif' text-anchor="middle" font-weight="bold">2.52%</text>
<text x="242.45" y="358.40" font-size="4.3" fill="#1e1e2a" font-family='"Liberation Sans", sans-serif' text-anchor="middle" font-weight="bold">0%</text>
<text x="259.35" y="358.40" font-size="4.3" fill="#1e1e2a" font-family='"Liberation Sans", sans-serif' text-anchor="middle" font-weight="bold">0%</text>
<text x="276.25" y="358.40" font-size="4.3" fill="#1e1e2a" font-family='"Liberation Sans", sans-serif' text-anchor="middle" font-weight="bold">0.21%</text>
<text x="293.15" y="358.40" font-size="4.3" fill="#1e1e2a" font-family='"Liberation Sans", sans-serif' text-anchor="middle" font-weight="bold">0.94%</text>
<text x="310.05" y="358.40" font-size="4.3" fill="#1e1e2a" font-family='"Liberation Sans", sans-serif' text-anchor="middle" font-weight="bold">1.61%</text>
<text x="326.95" y="358.40" font-size="4.3" fill="#1e1e2a" font-family='"Liberation Sans", sans-serif' text-anchor="middle" font-weight="bold">1.66%</text>
<text x="343.85" y="358.40" font-size="4.3" fill="#1e1e2a" font-family='"Liberation Sans", sans-serif' text-anchor="middle" font-weight="bold">2.54%</text>
<text x="360.75" y="358.40" font-size="4.3" fill="#1e1e2a" font-family='"Liberation Sans", sans-serif' text-anchor="middle" font-weight="bold">3.17%</text>
<text x="377.65" y="358.40" font-size="4.3" fill="#1e1e2a" font-family='"Liberation Sans", sans-serif' text-anchor="middle" font-weight="bold">3.03%</text>
<text x="394.55" y="358.40" font-size="4.3" fill="#1e1e2a" font-family='"Liberation Sans", sans-serif' text-anchor="middle" font-weight="bold">3.22%</text>
<text x="411.45" y="358.40" font-size="4.3" fill="#1e1e2a" font-family='"Liberation Sans", sans-serif' text-anchor="middle" font-weight="bold">2.72%</text>
<text x="428.35" y="358.40" font-size="4.3" fill="#1e1e2a" font-family='"Liberation Sans", sans-serif' text-anchor="middle" font-weight="bold">2.49%</text>
<text x="445.25" y="358.40" font-size="4.3" fill="#1e1e2a" font-family='"Liberation Sans", sans-serif' text-anchor="middle" font-weight="bold">3.18%</text>
<text x="462.15" y="358.40" font-size="4.3" fill="#1e1e2a" font-family='"Liberation Sans", sans-serif' text-anchor="middle" font-weight="bold">2.26%</text>
<text x="479.05" y="358.40" font-size="4.3" fill="#1e1e2a" font-family='"Liberation Sans", sans-serif' text-anchor="middle" font-weight="bold">2.6%</text>
<text x="242.45" y="368.70" font-size="4.3" fill="#1e1e2a" font-family='"Liberation Sans", sans-serif' text-anchor="middle" font-weight="bold">0%</text>
<text x="259.35" y="368.70" font-size="4.3" fill="#1e1e2a" font-family='"Liberation Sans", sans-serif' text-anchor="middle" font-weight="bold">0.05%</text>
<text x="276.25" y="368.70" font-size="4.3" fill="#1e1e2a" font-family='"Liberation Sans", sans-serif' text-anchor="middle" font-weight="bold">0.13%</text>
<text x="293.15" y="368.70" font-size="4.3" fill="#1e1e2a" font-family='"Liberation Sans", sans-serif' text-anchor="middle" font-weight="bold">0.65%</text>
<text x="310.05" y="368.70" font-size="4.3" fill="#1e1e2a" font-family='"Liberation Sans", sans-serif' text-anchor="middle" font-weight="bold">1.38%</text>
<text x="326.95" y="368.70" font-size="4.3" fill="#1e1e2a" font-family='"Liberation Sans", sans-serif' text-anchor="middle" font-weight="bold">1.65%</text>
<text x="343.85" y="368.70" font-size="4.3" fill="#1e1e2a" font-family='"Liberation Sans", sans-serif' text-anchor="middle" font-weight="bold">2.23%</text>
<text x="360.75" y="368.70" font-size="4.3" fill="#1e1e2a" font-family='"Liberation Sans", sans-serif' text-anchor="middle" font-weight="bold">3.28%</text>
<text x="377.65" y="368.70" font-size="4.3" fill="#1e1e2a" font-family='"Liberation Sans", sans-serif' text-anchor="middle" font-weight="bold">2.89%</text>
<text x="394.55" y="368.70" font-size="4.3" fill="#1e1e2a" font-family='"Liberation Sans", sans-serif' text-anchor="middle" font-weight="bold">2.86%</text>
<text x="411.45" y="368.70" font-size="4.3" fill="#1e1e2a" font-family='"Liberation Sans", sans-serif' text-anchor="middle" font-weight="bold">2.8%</text>
<text x="428.35" y="368.70" font-size="4.3" fill="#1e1e2a" font-family='"Liberation Sans", sans-serif' text-anchor="middle" font-weight="bold">2%</text>
<text x="445.25" y="368.70" font-size="4.3" fill="#1e1e2a" font-family='"Liberation Sans", sans-serif' text-anchor="middle" font-weight="bold">2.8%</text>
<text x="462.15" y="368.70" font-size="4.3" fill="#1e1e2a" font-family='"Liberation Sans", sans-serif' text-anchor="middle" font-weight="bold">2.19%</text>
<text x="479.05" y="368.70" font-size="4.3" fill="#1e1e2a" font-family='"Liberation Sans", sans-serif' text-anchor="middle" font-weight="bold">2.39%</text>
<text x="242.45" y="379.00" font-size="4.3" fill="#1e1e2a" font-family='"Liberation Sans", sans-serif' text-anchor="middle" font-weight="bold">0.02%</text>
<text x="259.35" y="379.00" font-size="4.3" fill="#1e1e2a" font-family='"Liberation Sans", sans-serif' text-anchor="middle" font-weight="bold">0.12%</text>
<text x="276.25" y="379.00" font-size="4.3" fill="#1e1e2a" font-family='"Liberation Sans", sans-serif' text-anchor="middle" font-weight="bold">1.23%</text>
<text x="293.15" y="379.00" font-size="4.3" fill="#1e1e2a" font-family='"Liberation Sans", sans-serif' text-anchor="middle" font-weight="bold">3.15%</text>
<text x="310.05" y="379.00" font-size="4.3" fill="#1e1e2a" font-family='"Liberation Sans", sans-serif' text-anchor="middle" font-weight="bold">4.13%</text>
<text x="326.95" y="379.00" font-size="4.3" fill="#1e1e2a" font-family='"Liberation Sans", sans-serif' text-anchor="middle" font-weight="bold">4.69%</text>
<text x="343.85" y="379.00" font-size="4.3" fill="#1e1e2a" font-family='"Liberation Sans", sans-serif' text-anchor="middle" font-weight="bold">5.63%</text>
<text x="360.75" y="379.00" font-size="4.3" fill="#1e1e2a" font-family='"Liberation Sans", sans-serif' text-anchor="middle" font-weight="bold">6.36%</text>
<text x="377.65" y="379.00" font-size="4.3" fill="#1e1e2a" font-family='"Liberation Sans", sans-serif' text-anchor="middle" font-weight="bold">7.53%</text>
<text x="394.55" y="379.00" font-size="4.3" fill="#1e1e2a" font-family='"Liberation Sans", sans-serif' text-anchor="middle" font-weight="bold">7.96%</text>
<text x="411.45" y="379.00" font-size="4.3" fill="#1e1e2a" font-family='"Liberation Sans", sans-serif' text-anchor="middle" font-weight="bold">9.03%</text>
<text x="428.35" y="379.00" font-size="4.3" fill="#1e1e2a" font-family='"Liberation Sans", sans-serif' text-anchor="middle" font-weight="bold">8.75%</text>
<text x="445.25" y="379.00" font-size="4.3" fill="#1e1e2a" font-family='"Liberation Sans", sans-serif' text-anchor="middle" font-weight="bold" textLength="13.52" lengthAdjust="spacingAndGlyphs">12.17%</text>
<text x="462.15" y="379.00" font-size="4.3" fill="#1e1e2a" font-family='"Liberation Sans", sans-serif' text-anchor="middle" font-weight="bold" textLength="13.52" lengthAdjust="spacingAndGlyphs">15.02%</text>
<text x="479.05" y="379.00" font-size="4.3" fill="#1e1e2a" font-family='"Liberation Sans", sans-serif' text-anchor="middle" font-weight="bold" textLength="13.52" lengthAdjust="spacingAndGlyphs">14.14%</text>
<text x="242.45" y="389.30" font-size="4.3" fill="#1e1e2a" font-family='"Liberation Sans", sans-serif' text-anchor="middle" font-weight="bold">0.02%</text>
<text x="259.35" y="389.30" font-size="4.3" fill="#1e1e2a" font-family='"Liberation Sans", sans-serif' text-anchor="middle" font-weight="bold">0%</text>
<text x="276.25" y="389.30" font-size="4.3" fill="#1e1e2a" font-family='"Liberation Sans", sans-serif' text-anchor="middle" font-weight="bold">0.03%</text>
<text x="293.15" y="389.30" font-size="4.3" fill="#1e1e2a" font-family='"Liberation Sans", sans-serif' text-anchor="middle" font-weight="bold">0.61%</text>
<text x="310.05" y="389.30" font-size="4.3" fill="#1e1e2a" font-family='"Liberation Sans", sans-serif' text-anchor="middle" font-weight="bold">0.97%</text>
<text x="326.95" y="389.30" font-size="4.3" fill="#1e1e2a" font-family='"Liberation Sans", sans-serif' text-anchor="middle" font-weight="bold">1.14%</text>
<text x="343.85" y="389.30" font-size="4.3" fill="#1e1e2a" font-family='"Liberation Sans", sans-serif' text-anchor="middle" font-weight="bold">1.69%</text>
<text x="360.75" y="389.30" font-size="4.3" fill="#1e1e2a" font-family='"Liberation Sans", sans-serif' text-anchor="middle" font-weight="bold">3.06%</text>
<text x="377.65" y="389.30" font-size="4.3" fill="#1e1e2a" font-family='"Liberation Sans", sans-serif' text-anchor="middle" font-weight="bold">4.2%</text>
<text x="394.55" y="389.30" font-size="4.3" fill="#1e1e2a" font-family='"Liberation Sans", sans-serif' text-anchor="middle" font-weight="bold">3.59%</text>
<text x="411.45" y="389.30" font-size="4.3" fill="#1e1e2a" font-family='"Liberation Sans", sans-serif' text-anchor="middle" font-weight="bold">4.32%</text>
<text x="428.35" y="389.30" font-size="4.3" fill="#1e1e2a" font-family='"Liberation Sans", sans-serif' text-anchor="middle" font-weight="bold">5.75%</text>
<text x="445.25" y="389.30" font-size="4.3" fill="#1e1e2a" font-family='"Liberation Sans", sans-serif' text-anchor="middle" font-weight="bold">8.22%</text>
<text x="462.15" y="389.30" font-size="4.3" fill="#1e1e2a" font-family='"Liberation Sans", sans-serif' text-anchor="middle" font-weight="bold">9.36%</text>
<text x="479.05" y="389.30" font-size="4.3" fill="#1e1e2a" font-family='"Liberation Sans", sans-serif' text-anchor="middle" font-weight="bold">9.77%</text>
<text x="242.45" y="399.60" font-size="4.3" fill="#fff" font-family='"Liberation Sans", sans-serif' text-anchor="middle" font-weight="bold" textLength="13.52" lengthAdjust="spacingAndGlyphs">99.95%</text>
<text x="259.35" y="399.60" font-size="4.3" fill="#fff" font-family='"Liberation Sans", sans-serif' text-anchor="middle" font-weight="bold" textLength="13.52" lengthAdjust="spacingAndGlyphs">99.42%</text>
<text x="276.25" y="399.60" font-size="4.3" fill="#fff" font-family='"Liberation Sans", sans-serif' text-anchor="middle" font-weight="bold">97.2%</text>
<text x="293.15" y="399.60" font-size="4.3" fill="#fff" font-family='"Liberation Sans", sans-serif' text-anchor="middle" font-weight="bold" textLength="13.52" lengthAdjust="spacingAndGlyphs">92.34%</text>
<text x="310.05" y="399.60" font-size="4.3" fill="#fff" font-family='"Liberation Sans", sans-serif' text-anchor="middle" font-weight="bold" textLength="13.52" lengthAdjust="spacingAndGlyphs">89.04%</text>
<text x="326.95" y="399.60" font-size="4.3" fill="#fff" font-family='"Liberation Sans", sans-serif' text-anchor="middle" font-weight="bold">87.7%</text>
<text x="343.85" y="399.60" font-size="4.3" fill="#fff" font-family='"Liberation Sans", sans-serif' text-anchor="middle" font-weight="bold" textLength="13.52" lengthAdjust="spacingAndGlyphs">85.16%</text>
<text x="360.75" y="399.60" font-size="4.3" fill="#fff" font-family='"Liberation Sans", sans-serif' text-anchor="middle" font-weight="bold">80.8%</text>
<text x="377.65" y="399.60" font-size="4.3" fill="#fff" font-family='"Liberation Sans", sans-serif' text-anchor="middle" font-weight="bold" textLength="13.52" lengthAdjust="spacingAndGlyphs">78.98%</text>
<text x="394.55" y="399.60" font-size="4.3" fill="#fff" font-family='"Liberation Sans", sans-serif' text-anchor="middle" font-weight="bold" textLength="13.52" lengthAdjust="spacingAndGlyphs">78.35%</text>
<text x="411.45" y="399.60" font-size="4.3" fill="#fff" font-family='"Liberation Sans", sans-serif' text-anchor="middle" font-weight="bold" textLength="13.52" lengthAdjust="spacingAndGlyphs">77.59%</text>
<text x="428.35" y="399.60" font-size="4.3" fill="#fff" font-family='"Liberation Sans", sans-serif' text-anchor="middle" font-weight="bold" textLength="13.52" lengthAdjust="spacingAndGlyphs">76.89%</text>
<text x="445.25" y="399.60" font-size="4.3" fill="#fff" font-family='"Liberation Sans", sans-serif' text-anchor="middle" font-weight="bold" textLength="13.52" lengthAdjust="spacingAndGlyphs">69.57%</text>
<text x="462.15" y="399.60" font-size="4.3" fill="#fff" font-family='"Liberation Sans", sans-serif' text-anchor="middle" font-weight="bold" textLength="13.52" lengthAdjust="spacingAndGlyphs">66.88%</text>
<text x="479.05" y="399.60" font-size="4.3" fill="#fff" font-family='"Liberation Sans", sans-serif' text-anchor="middle" font-weight="bold" textLength="13.52" lengthAdjust="spacingAndGlyphs">66.66%</text>
<text x="244.65" y="406.30" font-size="8.2" fill="#262626" font-family='"Liberation Sans", sans-serif' text-anchor="end" transform="rotate(-90 244.65 406.30)" stroke="#262626" stroke-width="0.22">Precut</text>
<text x="261.55" y="406.30" font-size="8.2" fill="#262626" font-family='"Liberation Sans", sans-serif' text-anchor="end" transform="rotate(-90 261.55 406.30)" stroke="#262626" stroke-width="0.22">IP</text>
<text x="278.45" y="406.30" font-size="8.2" fill="#262626" font-family='"Liberation Sans", sans-serif' text-anchor="end" transform="rotate(-90 278.45 406.30)" stroke="#262626" stroke-width="0.22">4.5 m</text>
<text x="295.35" y="406.30" font-size="8.2" fill="#262626" font-family='"Liberation Sans", sans-serif' text-anchor="end" transform="rotate(-90 295.35 406.30)" stroke="#262626" stroke-width="0.22">11 m</text>
<text x="312.25" y="406.30" font-size="8.2" fill="#262626" font-family='"Liberation Sans", sans-serif' text-anchor="end" transform="rotate(-90 312.25 406.30)" stroke="#262626" stroke-width="0.22">15 m</text>
<text x="329.15" y="406.30" font-size="8.2" fill="#262626" font-family='"Liberation Sans", sans-serif' text-anchor="end" transform="rotate(-90 329.15 406.30)" stroke="#262626" stroke-width="0.22">18 m</text>
<text x="346.05" y="406.30" font-size="8.2" fill="#262626" font-family='"Liberation Sans", sans-serif' text-anchor="end" transform="rotate(-90 346.05 406.30)" stroke="#262626" stroke-width="0.22">21 m</text>
<text x="362.95" y="406.30" font-size="8.2" fill="#262626" font-family='"Liberation Sans", sans-serif' text-anchor="end" transform="rotate(-90 362.95 406.30)" stroke="#262626" stroke-width="0.22">28 m</text>
<text x="379.85" y="406.30" font-size="8.2" fill="#262626" font-family='"Liberation Sans", sans-serif' text-anchor="end" transform="rotate(-90 379.85 406.30)" stroke="#262626" stroke-width="0.22">33 m</text>
<text x="396.75" y="406.30" font-size="8.2" fill="#262626" font-family='"Liberation Sans", sans-serif' text-anchor="end" transform="rotate(-90 396.75 406.30)" stroke="#262626" stroke-width="0.22">35 m</text>
<text x="413.65" y="406.30" font-size="8.2" fill="#262626" font-family='"Liberation Sans", sans-serif' text-anchor="end" transform="rotate(-90 413.65 406.30)" stroke="#262626" stroke-width="0.22">39 m</text>
<text x="430.55" y="406.30" font-size="8.2" fill="#262626" font-family='"Liberation Sans", sans-serif' text-anchor="end" transform="rotate(-90 430.55 406.30)" stroke="#262626" stroke-width="0.22">42 m</text>
<text x="447.45" y="406.30" font-size="8.2" fill="#262626" font-family='"Liberation Sans", sans-serif' text-anchor="end" transform="rotate(-90 447.45 406.30)" stroke="#262626" stroke-width="0.22">47 m</text>
<text x="464.35" y="406.30" font-size="8.2" fill="#262626" font-family='"Liberation Sans", sans-serif' text-anchor="end" transform="rotate(-90 464.35 406.30)" stroke="#262626" stroke-width="0.22">54 m</text>
<text x="481.25" y="406.30" font-size="8.2" fill="#262626" font-family='"Liberation Sans", sans-serif' text-anchor="end" transform="rotate(-90 481.25 406.30)" stroke="#262626" stroke-width="0.22">55 m</text>
<line x1="270.40" y1="429.60" x2="486.80" y2="429.60" stroke="#222" stroke-width="1.2"/>
<rect x="494.30" y="285.30" width="4.10" height="92.60" fill="url(#cbar)"/>
<text x="495.20" y="282.80" font-size="4.4" fill="#444" font-family='"Liberation Sans", sans-serif'>Size</text>
<text x="500.20" y="288.90" font-size="4.3" fill="#444" font-family='"Liberation Sans", sans-serif'>100%</text>
<text x="500.20" y="301.40" font-size="4.3" fill="#444" font-family='"Liberation Sans", sans-serif'>10%</text>
<text x="500.20" y="313.80" font-size="4.3" fill="#444" font-family='"Liberation Sans", sans-serif'>1%</text>
<text x="500.20" y="326.80" font-size="4.3" fill="#444" font-family='"Liberation Sans", sans-serif'>0.1%</text>
<text x="500.20" y="371.80" font-size="4.3" fill="#444" font-family='"Liberation Sans", sans-serif'>0.0025%</text>
<text x="500.20" y="377.20" font-size="4.3" fill="#444" font-family='"Liberation Sans", sans-serif'>Defined 0</text>
<text x="68.85" y="426.90" font-size="10.2" fill="#262626" font-family='"Liberation Sans", sans-serif' text-anchor="middle" textLength="45.30" lengthAdjust="spacingAndGlyphs" stroke="#262626" stroke-width="0.22">ZL39 TET2</text>
<polygon points="32.72,520.78 43.83,520.08 48.88,519.11 50.90,518.97 56.96,518.97 65.04,518.97 73.12,519.11 79.18,519.25 81.20,519.25 87.26,519.11 97.36,518.83 99.38,518.83 99.38,521.20 97.36,521.20 87.26,521.20 81.20,521.20 79.18,521.20 73.12,521.20 65.04,521.20 56.96,521.20 50.90,521.20 48.88,521.20 43.83,521.20 32.72,521.20" fill="#d4cdee" stroke="#d4cdee" stroke-width="0.3"/>
<polygon points="32.72,520.50 43.83,519.11 48.88,516.74 50.90,516.60 56.96,516.74 65.04,517.02 73.12,517.29 79.18,517.71 81.20,517.57 87.26,517.02 97.36,516.18 99.38,515.90 99.38,518.83 97.36,518.83 87.26,519.11 81.20,519.25 79.18,519.25 73.12,519.11 65.04,518.97 56.96,518.97 50.90,518.97 48.88,519.11 43.83,520.08 32.72,520.78" fill="#1f4f74" stroke="#1f4f74" stroke-width="0.3"/>
<polygon points="32.72,520.22 43.83,517.71 48.88,513.95 50.90,513.53 56.96,513.53 65.04,513.53 73.12,514.23 79.18,515.34 81.20,514.92 87.26,513.53 97.36,510.04 99.38,509.20 99.38,515.90 97.36,516.18 87.26,517.02 81.20,517.57 79.18,517.71 73.12,517.29 65.04,517.02 56.96,516.74 50.90,516.60 48.88,516.74 43.83,519.11 32.72,520.50" fill="#d9b088" stroke="#d9b088" stroke-width="0.3"/>
<polygon points="32.72,519.11 43.83,513.53 48.88,505.86 50.90,504.74 56.96,504.46 65.04,504.32 73.12,505.16 79.18,506.27 81.20,505.86 87.26,503.34 97.36,497.49 99.38,495.81 99.38,509.20 97.36,510.04 87.26,513.53 81.20,514.92 79.18,515.34 73.12,514.23 65.04,513.53 56.96,513.53 50.90,513.53 48.88,513.95 43.83,517.71 32.72,520.22" fill="#fbf200" stroke="#fbf200" stroke-width="0.3"/>
<polygon points="32.72,517.02 43.83,509.06 48.88,499.86 50.90,499.30 56.96,494.70 65.04,487.16 73.12,487.16 79.18,487.16 81.20,481.02 87.26,471.40 97.36,455.22 99.38,454.24 99.38,495.81 97.36,497.49 87.26,503.34 81.20,505.86 79.18,506.27 73.12,505.16 65.04,504.32 56.96,504.46 50.90,504.74 48.88,505.86 43.83,513.53 32.72,519.11" fill="#f8b322" stroke="#f8b322" stroke-width="0.3"/>
<line x1="28.80" y1="433.90" x2="28.80" y2="525.80" stroke="#222" stroke-width="1.1"/>
<line x1="25.80" y1="521.20" x2="28.80" y2="521.20" stroke="#222" stroke-width="1.1"/>
<text x="22.60" y="524.44" font-size="9" fill="#262626" font-family='"Liberation Sans", sans-serif' text-anchor="end" textLength="4.25" lengthAdjust="spacingAndGlyphs" stroke="#262626" stroke-width="0.22">0</text>
<line x1="25.80" y1="493.30" x2="28.80" y2="493.30" stroke="#222" stroke-width="1.1"/>
<text x="22.60" y="496.54" font-size="9" fill="#262626" font-family='"Liberation Sans", sans-serif' text-anchor="end" textLength="4.25" lengthAdjust="spacingAndGlyphs" stroke="#262626" stroke-width="0.22">2</text>
<line x1="25.80" y1="465.40" x2="28.80" y2="465.40" stroke="#222" stroke-width="1.1"/>
<text x="22.60" y="468.64" font-size="9" fill="#262626" font-family='"Liberation Sans", sans-serif' text-anchor="end" textLength="4.25" lengthAdjust="spacingAndGlyphs" stroke="#262626" stroke-width="0.22">4</text>
<line x1="25.80" y1="437.50" x2="28.80" y2="437.50" stroke="#222" stroke-width="1.1"/>
<text x="22.60" y="440.74" font-size="9" fill="#262626" font-family='"Liberation Sans", sans-serif' text-anchor="end" textLength="4.25" lengthAdjust="spacingAndGlyphs" stroke="#262626" stroke-width="0.22">6</text>
<line x1="28.80" y1="525.40" x2="100.80" y2="525.40" stroke="#222" stroke-width="1.1"/>
<line x1="30.70" y1="525.40" x2="30.70" y2="528.00" stroke="#222" stroke-width="1.1"/>
<text x="30.70" y="537.70" font-size="9" fill="#262626" font-family='"Liberation Sans", sans-serif' text-anchor="middle" textLength="4.25" lengthAdjust="spacingAndGlyphs" stroke="#262626" stroke-width="0.22">0</text>
<line x1="50.90" y1="525.40" x2="50.90" y2="528.00" stroke="#222" stroke-width="1.1"/>
<text x="50.90" y="537.70" font-size="9" fill="#262626" font-family='"Liberation Sans", sans-serif' text-anchor="middle" textLength="8.51" lengthAdjust="spacingAndGlyphs" stroke="#262626" stroke-width="0.22">10</text>
<line x1="71.10" y1="525.40" x2="71.10" y2="528.00" stroke="#222" stroke-width="1.1"/>
<text x="71.10" y="537.70" font-size="9" fill="#262626" font-family='"Liberation Sans", sans-serif' text-anchor="middle" textLength="8.51" lengthAdjust="spacingAndGlyphs" stroke="#262626" stroke-width="0.22">20</text>
<line x1="91.30" y1="525.40" x2="91.30" y2="528.00" stroke="#222" stroke-width="1.1"/>
<text x="91.30" y="537.70" font-size="9" fill="#262626" font-family='"Liberation Sans", sans-serif' text-anchor="middle" textLength="8.51" lengthAdjust="spacingAndGlyphs" stroke="#262626" stroke-width="0.22">30</text>
<text x="65.40" y="549.80" font-size="9.8" fill="#262626" font-family='"Liberation Sans", sans-serif' text-anchor="middle" textLength="78.80" lengthAdjust="spacingAndGlyphs" stroke="#262626" stroke-width="0.22">Months post-transplant</text>
<text x="9.80" y="522.00" font-size="9.2" fill="#262626" font-family='"Liberation Sans", sans-serif' textLength="87.00" lengthAdjust="spacingAndGlyphs" transform="rotate(-90 9.80 522.00)" stroke="#262626" stroke-width="0.22">Mutant allele fraction (%)</text>
<line x1="145.94" y1="447.12" x2="149.34" y2="447.12" stroke="#e8383c" stroke-width="0.85"/>
<line x1="150.49" y1="447.12" x2="153.89" y2="447.12" stroke="#e8383c" stroke-width="0.85"/>
<line x1="155.04" y1="447.12" x2="158.44" y2="447.12" stroke="#e8383c" stroke-width="0.85"/>
<line x1="159.59" y1="447.12" x2="162.99" y2="447.12" stroke="#e8383c" stroke-width="0.85"/>
<text x="127.20" y="449.72" font-size="7.58" fill="#6e6e6e" font-family='"Liberation Mono", monospace'>CGTC</text>
<text x="163.58" y="449.72" font-size="7.58" fill="#6e6e6e" font-family='"Liberation Mono", monospace'>CTCAGGGGTCAC</text>
<rect x="222.30" y="442.77" width="8.50" height="8.50" fill="#bfc8bb"/>
<line x1="145.94" y1="458.16" x2="149.34" y2="458.16" stroke="#e8383c" stroke-width="0.85"/>
<line x1="150.49" y1="458.16" x2="153.89" y2="458.16" stroke="#e8383c" stroke-width="0.85"/>
<line x1="155.04" y1="458.16" x2="158.44" y2="458.16" stroke="#e8383c" stroke-width="0.85"/>
<line x1="159.59" y1="458.16" x2="162.99" y2="458.16" stroke="#e8383c" stroke-width="0.85"/>
<line x1="164.13" y1="458.16" x2="167.53" y2="458.16" stroke="#e8383c" stroke-width="0.85"/>
<line x1="168.68" y1="458.16" x2="172.08" y2="458.16" stroke="#e8383c" stroke-width="0.85"/>
<text x="127.20" y="460.76" font-size="7.58" fill="#6e6e6e" font-family='"Liberation Mono", monospace'>CGTC</text>
<text x="172.68" y="460.76" font-size="7.58" fill="#6e6e6e" font-family='"Liberation Mono", monospace'>CAGGGGTCAC</text>
<rect x="222.30" y="453.81" width="8.50" height="8.50" fill="#e463a6"/>
<line x1="173.23" y1="469.20" x2="176.63" y2="469.20" stroke="#e8383c" stroke-width="0.85"/>
<line x1="177.78" y1="469.20" x2="181.18" y2="469.20" stroke="#e8383c" stroke-width="0.85"/>
<text x="127.20" y="471.80" font-size="7.58" fill="#6e6e6e" font-family='"Liberation Mono", monospace'>CGTCCATTCT</text>
<text x="181.78" y="471.80" font-size="7.58" fill="#6e6e6e" font-family='"Liberation Mono", monospace'>GGGGTCAC</text>
<rect x="222.30" y="464.85" width="8.50" height="8.50" fill="#f8d6ef"/>
<text x="127.20" y="482.84" font-size="7.58" fill="#6e6e6e" font-family='"Liberation Mono", monospace'>CGTCCATTCT</text>
<text x="172.68" y="482.84" font-size="7.58" fill="#e2302c" font-family='"Liberation Mono", monospace'>TT</text>
<text x="181.78" y="482.84" font-size="7.58" fill="#6e6e6e" font-family='"Liberation Mono", monospace'>CAGGGGTC</text>
<rect x="222.30" y="475.89" width="8.50" height="8.50" fill="#d5aa7c"/>
<text x="127.20" y="493.88" font-size="7.58" fill="#6e6e6e" font-family='"Liberation Mono", monospace'>CGTCCATTCT</text>
<text x="172.68" y="493.88" font-size="7.58" fill="#e2302c" font-family='"Liberation Mono", monospace'>T</text>
<text x="177.23" y="493.88" font-size="7.58" fill="#6e6e6e" font-family='"Liberation Mono", monospace'>CAGGGGTCA</text>
<rect x="222.30" y="486.93" width="8.50" height="8.50" fill="#fbf500"/>
<line x1="159.59" y1="502.32" x2="162.99" y2="502.32" stroke="#e8383c" stroke-width="0.85"/>
<line x1="164.13" y1="502.32" x2="167.53" y2="502.32" stroke="#e8383c" stroke-width="0.85"/>
<text x="127.20" y="504.92" font-size="7.58" fill="#6e6e6e" font-family='"Liberation Mono", monospace'>CGTCCAT</text>
<text x="168.13" y="504.92" font-size="7.58" fill="#6e6e6e" font-family='"Liberation Mono", monospace'>TCAGGGGTCAC</text>
<rect x="222.30" y="497.97" width="8.50" height="8.50" fill="#f8b322"/>
<text x="127.20" y="515.96" font-size="7.58" fill="#6e6e6e" font-family='"Liberation Mono", monospace'>CGTCCATTCTCAGGGGTCAC</text>
<line x1="124.30" y1="442.70" x2="124.30" y2="506.80" stroke="#111" stroke-width="1.1"/>
<line x1="124.30" y1="508.60" x2="124.30" y2="518.00" stroke="#111" stroke-width="1.1"/>
<text x="120.60" y="474.00" font-size="9" fill="#262626" font-family='"Liberation Sans", sans-serif' text-anchor="middle" textLength="21.50" lengthAdjust="spacingAndGlyphs" transform="rotate(-90 120.60 474.00)" stroke="#262626" stroke-width="0.22">Indels</text>
<text x="120.60" y="513.26" font-size="9" fill="#262626" font-family='"Liberation Sans", sans-serif' text-anchor="middle" textLength="11.00" lengthAdjust="spacingAndGlyphs" transform="rotate(-90 120.60 513.26)" stroke="#262626" stroke-width="0.22">WT</text>
<line x1="185.80" y1="517.86" x2="199.20" y2="517.86" stroke="#333" stroke-width="0.8"/>
<polygon points="170.10,524.20 172.10,518.00 174.10,524.20" fill="#d8242c"/>
<text x="187.00" y="524.20" font-size="8.2" fill="#222" font-family='"Liberation Sans", sans-serif' textLength="16.70" lengthAdjust="spacingAndGlyphs" stroke="#222" stroke-width="0.22">PAM</text>
<rect x="233.70" y="441.50" width="18.19" height="11.09" fill="#6e9fd4"/>
<rect x="251.84" y="441.50" width="18.19" height="11.09" fill="#6e9fd4"/>
<rect x="269.98" y="441.50" width="18.19" height="11.09" fill="#90bce0"/>
<rect x="288.12" y="441.50" width="18.19" height="11.09" fill="#add4eb"/>
<rect x="306.26" y="441.50" width="18.19" height="11.09" fill="#c5e3ed"/>
<rect x="324.40" y="441.50" width="18.19" height="11.09" fill="#c5e3ed"/>
<rect x="342.54" y="441.50" width="18.19" height="11.09" fill="#c2e1ee"/>
<rect x="360.68" y="441.50" width="18.19" height="11.09" fill="#c2e1ee"/>
<rect x="378.82" y="441.50" width="18.19" height="11.09" fill="#bedfee"/>
<rect x="396.96" y="441.50" width="18.19" height="11.09" fill="#bedfee"/>
<rect x="415.10" y="441.50" width="18.19" height="11.09" fill="#c7e4ed"/>
<rect x="433.24" y="441.50" width="18.19" height="11.09" fill="#c5e3ed"/>
<rect x="451.38" y="441.50" width="18.19" height="11.09" fill="#bedfee"/>
<rect x="469.52" y="441.50" width="18.19" height="11.09" fill="#c2e1ee"/>
<rect x="233.70" y="452.54" width="18.19" height="11.09" fill="#6e9fd4"/>
<rect x="251.84" y="452.54" width="18.19" height="11.09" fill="#6e9fd4"/>
<rect x="269.98" y="452.54" width="18.19" height="11.09" fill="#90bce0"/>
<rect x="288.12" y="452.54" width="18.19" height="11.09" fill="#c5e3ed"/>
<rect x="306.26" y="452.54" width="18.19" height="11.09" fill="#d6ede9"/>
<rect x="324.40" y="452.54" width="18.19" height="11.09" fill="#d8eee7"/>
<rect x="342.54" y="452.54" width="18.19" height="11.09" fill="#d1eaea"/>
<rect x="360.68" y="452.54" width="18.19" height="11.09" fill="#cae6ec"/>
<rect x="378.82" y="452.54" width="18.19" height="11.09" fill="#cce7ec"/>
<rect x="396.96" y="452.54" width="18.19" height="11.09" fill="#cae6ec"/>
<rect x="415.10" y="452.54" width="18.19" height="11.09" fill="#cae6ec"/>
<rect x="433.24" y="452.54" width="18.19" height="11.09" fill="#bedfee"/>
<rect x="451.38" y="452.54" width="18.19" height="11.09" fill="#d3ebea"/>
<rect x="469.52" y="452.54" width="18.19" height="11.09" fill="#d5ece9"/>
<rect x="233.70" y="463.58" width="18.19" height="11.09" fill="#6e9fd4"/>
<rect x="251.84" y="463.58" width="18.19" height="11.09" fill="#6e9fd4"/>
<rect x="269.98" y="463.58" width="18.19" height="11.09" fill="#a9d1ea"/>
<rect x="288.12" y="463.58" width="18.19" height="11.09" fill="#a4cde8"/>
<rect x="306.26" y="463.58" width="18.19" height="11.09" fill="#a4cde8"/>
<rect x="324.40" y="463.58" width="18.19" height="11.09" fill="#9dc7e5"/>
<rect x="342.54" y="463.58" width="18.19" height="11.09" fill="#add4eb"/>
<rect x="360.68" y="463.58" width="18.19" height="11.09" fill="#b0d6ec"/>
<rect x="378.82" y="463.58" width="18.19" height="11.09" fill="#b0d6ec"/>
<rect x="396.96" y="463.58" width="18.19" height="11.09" fill="#add4eb"/>
<rect x="415.10" y="463.58" width="18.19" height="11.09" fill="#badced"/>
<rect x="433.24" y="463.58" width="18.19" height="11.09" fill="#bedfee"/>
<rect x="451.38" y="463.58" width="18.19" height="11.09" fill="#cce7ec"/>
<rect x="469.52" y="463.58" width="18.19" height="11.09" fill="#b5d9ed"/>
<rect x="233.70" y="474.62" width="18.19" height="11.09" fill="#6e9fd4"/>
<rect x="251.84" y="474.62" width="18.19" height="11.09" fill="#6e9fd4"/>
<rect x="269.98" y="474.62" width="18.19" height="11.09" fill="#90bce0"/>
<rect x="288.12" y="474.62" width="18.19" height="11.09" fill="#badced"/>
<rect x="306.26" y="474.62" width="18.19" height="11.09" fill="#d8eee7"/>
<rect x="324.40" y="474.62" width="18.19" height="11.09" fill="#d6ede9"/>
<rect x="342.54" y="474.62" width="18.19" height="11.09" fill="#e4f2da"/>
<rect x="360.68" y="474.62" width="18.19" height="11.09" fill="#dff0e0"/>
<rect x="378.82" y="474.62" width="18.19" height="11.09" fill="#e6f3d8"/>
<rect x="396.96" y="474.62" width="18.19" height="11.09" fill="#e2f1dd"/>
<rect x="415.10" y="474.62" width="18.19" height="11.09" fill="#dbefe3"/>
<rect x="433.24" y="474.62" width="18.19" height="11.09" fill="#e8f4d5"/>
<rect x="451.38" y="474.62" width="18.19" height="11.09" fill="#eff6ce"/>
<rect x="469.52" y="474.62" width="18.19" height="11.09" fill="#e9f4d4"/>
<rect x="233.70" y="485.66" width="18.19" height="11.09" fill="#6e9fd4"/>
<rect x="251.84" y="485.66" width="18.19" height="11.09" fill="#6e9fd4"/>
<rect x="269.98" y="485.66" width="18.19" height="11.09" fill="#cee8eb"/>
<rect x="288.12" y="485.66" width="18.19" height="11.09" fill="#e7f3d7"/>
<rect x="306.26" y="485.66" width="18.19" height="11.09" fill="#f4f5c3"/>
<rect x="324.40" y="485.66" width="18.19" height="11.09" fill="#f2f6c8"/>
<rect x="342.54" y="485.66" width="18.19" height="11.09" fill="#f4f5c4"/>
<rect x="360.68" y="485.66" width="18.19" height="11.09" fill="#f6f4bf"/>
<rect x="378.82" y="485.66" width="18.19" height="11.09" fill="#f4f5c4"/>
<rect x="396.96" y="485.66" width="18.19" height="11.09" fill="#f5f5c2"/>
<rect x="415.10" y="485.66" width="18.19" height="11.09" fill="#f5f4c1"/>
<rect x="433.24" y="485.66" width="18.19" height="11.09" fill="#f5f5c2"/>
<rect x="451.38" y="485.66" width="18.19" height="11.09" fill="#f7f3bc"/>
<rect x="469.52" y="485.66" width="18.19" height="11.09" fill="#f9f2b8"/>
<rect x="233.70" y="496.70" width="18.19" height="11.09" fill="#90bce0"/>
<rect x="251.84" y="496.70" width="18.19" height="11.09" fill="#90bce0"/>
<rect x="269.98" y="496.70" width="18.19" height="11.09" fill="#b0d6ec"/>
<rect x="288.12" y="496.70" width="18.19" height="11.09" fill="#ddf0e1"/>
<rect x="306.26" y="496.70" width="18.19" height="11.09" fill="#edf6d0"/>
<rect x="324.40" y="496.70" width="18.19" height="11.09" fill="#eff6ce"/>
<rect x="342.54" y="496.70" width="18.19" height="11.09" fill="#f7f3be"/>
<rect x="360.68" y="496.70" width="18.19" height="11.09" fill="#fde8a6"/>
<rect x="378.82" y="496.70" width="18.19" height="11.09" fill="#fde7a5"/>
<rect x="396.96" y="496.70" width="18.19" height="11.09" fill="#fde5a2"/>
<rect x="415.10" y="496.70" width="18.19" height="11.09" fill="#fdd998"/>
<rect x="433.24" y="496.70" width="18.19" height="11.09" fill="#fcc68e"/>
<rect x="451.38" y="496.70" width="18.19" height="11.09" fill="#f9a272"/>
<rect x="469.52" y="496.70" width="18.19" height="11.09" fill="#f9a674"/>
<rect x="233.70" y="507.74" width="18.19" height="11.09" fill="#9e1010"/>
<rect x="251.84" y="507.74" width="18.19" height="11.09" fill="#9e1010"/>
<rect x="269.98" y="507.74" width="18.19" height="11.09" fill="#9e1010"/>
<rect x="288.12" y="507.74" width="18.19" height="11.09" fill="#9e1010"/>
<rect x="306.26" y="507.74" width="18.19" height="11.09" fill="#9e1010"/>
<rect x="324.40" y="507.74" width="18.19" height="11.09" fill="#9e1010"/>
<rect x="342.54" y="507.74" width="18.19" height="11.09" fill="#9e1010"/>
<rect x="360.68" y="507.74" width="18.19" height="11.09" fill="#9f1010"/>
<rect x="378.82" y="507.74" width="18.19" height="11.09" fill="#9f1010"/>
<rect x="396.96" y="507.74" width="18.19" height="11.09" fill="#9f1010"/>
<rect x="415.10" y="507.74" width="18.19" height="11.09" fill="#9f1010"/>
<rect x="433.24" y="507.74" width="18.19" height="11.09" fill="#9f1011"/>
<rect x="451.38" y="507.74" width="18.19" height="11.09" fill="#9f1011"/>
<rect x="469.52" y="507.74" width="18.19" height="11.09" fill="#9f1011"/>
<line x1="233.70" y1="452.54" x2="487.66" y2="452.54" stroke="rgba(255,255,255,0.25)" stroke-width="0.4"/>
<line x1="233.70" y1="463.58" x2="487.66" y2="463.58" stroke="rgba(255,255,255,0.25)" stroke-width="0.4"/>
<line x1="233.70" y1="474.62" x2="487.66" y2="474.62" stroke="rgba(255,255,255,0.25)" stroke-width="0.4"/>
<line x1="233.70" y1="485.66" x2="487.66" y2="485.66" stroke="rgba(255,255,255,0.25)" stroke-width="0.4"/>
<line x1="233.70" y1="496.70" x2="487.66" y2="496.70" stroke="rgba(255,255,255,0.25)" stroke-width="0.4"/>
<line x1="233.70" y1="507.74" x2="487.66" y2="507.74" stroke="rgba(255,255,255,0.25)" stroke-width="0.4"/>
<line x1="251.84" y1="441.50" x2="251.84" y2="518.78" stroke="rgba(255,255,255,0.25)" stroke-width="0.4"/>
<line x1="269.98" y1="441.50" x2="269.98" y2="518.78" stroke="rgba(255,255,255,0.25)" stroke-width="0.4"/>
<line x1="288.12" y1="441.50" x2="288.12" y2="518.78" stroke="rgba(255,255,255,0.25)" stroke-width="0.4"/>
<line x1="306.26" y1="441.50" x2="306.26" y2="518.78" stroke="rgba(255,255,255,0.25)" stroke-width="0.4"/>
<line x1="324.40" y1="441.50" x2="324.40" y2="518.78" stroke="rgba(255,255,255,0.25)" stroke-width="0.4"/>
<line x1="342.54" y1="441.50" x2="342.54" y2="518.78" stroke="rgba(255,255,255,0.25)" stroke-width="0.4"/>
<line x1="360.68" y1="441.50" x2="360.68" y2="518.78" stroke="rgba(255,255,255,0.25)" stroke-width="0.4"/>
<line x1="378.82" y1="441.50" x2="378.82" y2="518.78" stroke="rgba(255,255,255,0.25)" stroke-width="0.4"/>
<line x1="396.96" y1="441.50" x2="396.96" y2="518.78" stroke="rgba(255,255,255,0.25)" stroke-width="0.4"/>
<line x1="415.10" y1="441.50" x2="415.10" y2="518.78" stroke="rgba(255,255,255,0.25)" stroke-width="0.4"/>
<line x1="433.24" y1="441.50" x2="433.24" y2="518.78" stroke="rgba(255,255,255,0.25)" stroke-width="0.4"/>
<line x1="451.38" y1="441.50" x2="451.38" y2="518.78" stroke="rgba(255,255,255,0.25)" stroke-width="0.4"/>
<line x1="469.52" y1="441.50" x2="469.52" y2="518.78" stroke="rgba(255,255,255,0.25)" stroke-width="0.4"/>
<text x="242.77" y="448.57" font-size="4.3" fill="#1e1e2a" font-family='"Liberation Sans", sans-serif' text-anchor="middle" font-weight="bold">0%</text>
<text x="260.91" y="448.57" font-size="4.3" fill="#1e1e2a" font-family='"Liberation Sans", sans-serif' text-anchor="middle" font-weight="bold">0%</text>
<text x="279.05" y="448.57" font-size="4.3" fill="#1e1e2a" font-family='"Liberation Sans", sans-serif' text-anchor="middle" font-weight="bold">0.01%</text>
<text x="297.19" y="448.57" font-size="4.3" fill="#1e1e2a" font-family='"Liberation Sans", sans-serif' text-anchor="middle" font-weight="bold">0.05%</text>
<text x="315.33" y="448.57" font-size="4.3" fill="#1e1e2a" font-family='"Liberation Sans", sans-serif' text-anchor="middle" font-weight="bold">0.11%</text>
<text x="333.47" y="448.57" font-size="4.3" fill="#1e1e2a" font-family='"Liberation Sans", sans-serif' text-anchor="middle" font-weight="bold">0.11%</text>
<text x="351.61" y="448.57" font-size="4.3" fill="#1e1e2a" font-family='"Liberation Sans", sans-serif' text-anchor="middle" font-weight="bold">0.1%</text>
<text x="369.75" y="448.57" font-size="4.3" fill="#1e1e2a" font-family='"Liberation Sans", sans-serif' text-anchor="middle" font-weight="bold">0.1%</text>
<text x="387.89" y="448.57" font-size="4.3" fill="#1e1e2a" font-family='"Liberation Sans", sans-serif' text-anchor="middle" font-weight="bold">0.09%</text>
<text x="406.03" y="448.57" font-size="4.3" fill="#1e1e2a" font-family='"Liberation Sans", sans-serif' text-anchor="middle" font-weight="bold">0.09%</text>
<text x="424.17" y="448.57" font-size="4.3" fill="#1e1e2a" font-family='"Liberation Sans", sans-serif' text-anchor="middle" font-weight="bold">0.12%</text>
<text x="442.31" y="448.57" font-size="4.3" fill="#1e1e2a" font-family='"Liberation Sans", sans-serif' text-anchor="middle" font-weight="bold">0.11%</text>
<text x="460.45" y="448.57" font-size="4.3" fill="#1e1e2a" font-family='"Liberation Sans", sans-serif' text-anchor="middle" font-weight="bold">0.09%</text>
<text x="478.59" y="448.57" font-size="4.3" fill="#1e1e2a" font-family='"Liberation Sans", sans-serif' text-anchor="middle" font-weight="bold">0.1%</text>
<text x="242.77" y="459.61" font-size="4.3" fill="#1e1e2a" font-family='"Liberation Sans", sans-serif' text-anchor="middle" font-weight="bold">0%</text>
<text x="260.91" y="459.61" font-size="4.3" fill="#1e1e2a" font-family='"Liberation Sans", sans-serif' text-anchor="middle" font-weight="bold">0%</text>
<text x="279.05" y="459.61" font-size="4.3" fill="#1e1e2a" font-family='"Liberation Sans", sans-serif' text-anchor="middle" font-weight="bold">0.01%</text>
<text x="297.19" y="459.61" font-size="4.3" fill="#1e1e2a" font-family='"Liberation Sans", sans-serif' text-anchor="middle" font-weight="bold">0.11%</text>
<text x="315.33" y="459.61" font-size="4.3" fill="#1e1e2a" font-family='"Liberation Sans", sans-serif' text-anchor="middle" font-weight="bold">0.2%</text>
<text x="333.47" y="459.61" font-size="4.3" fill="#1e1e2a" font-family='"Liberation Sans", sans-serif' text-anchor="middle" font-weight="bold">0.21%</text>
<text x="351.61" y="459.61" font-size="4.3" fill="#1e1e2a" font-family='"Liberation Sans", sans-serif' text-anchor="middle" font-weight="bold">0.17%</text>
<text x="369.75" y="459.61" font-size="4.3" fill="#1e1e2a" font-family='"Liberation Sans", sans-serif' text-anchor="middle" font-weight="bold">0.13%</text>
<text x="387.89" y="459.61" font-size="4.3" fill="#1e1e2a" font-family='"Liberation Sans", sans-serif' text-anchor="middle" font-weight="bold">0.14%</text>
<text x="406.03" y="459.61" font-size="4.3" fill="#1e1e2a" font-family='"Liberation Sans", sans-serif' text-anchor="middle" font-weight="bold">0.13%</text>
<text x="424.17" y="459.61" font-size="4.3" fill="#1e1e2a" font-family='"Liberation Sans", sans-serif' text-anchor="middle" font-weight="bold">0.13%</text>
<text x="442.31" y="459.61" font-size="4.3" fill="#1e1e2a" font-family='"Liberation Sans", sans-serif' text-anchor="middle" font-weight="bold">0.09%</text>
<text x="460.45" y="459.61" font-size="4.3" fill="#1e1e2a" font-family='"Liberation Sans", sans-serif' text-anchor="middle" font-weight="bold">0.18%</text>
<text x="478.59" y="459.61" font-size="4.3" fill="#1e1e2a" font-family='"Liberation Sans", sans-serif' text-anchor="middle" font-weight="bold">0.19%</text>
<text x="242.77" y="470.65" font-size="4.3" fill="#1e1e2a" font-family='"Liberation Sans", sans-serif' text-anchor="middle" font-weight="bold">0%</text>
<text x="260.91" y="470.65" font-size="4.3" fill="#1e1e2a" font-family='"Liberation Sans", sans-serif' text-anchor="middle" font-weight="bold">0%</text>
<text x="279.05" y="470.65" font-size="4.3" fill="#1e1e2a" font-family='"Liberation Sans", sans-serif' text-anchor="middle" font-weight="bold">0.04%</text>
<text x="297.19" y="470.65" font-size="4.3" fill="#1e1e2a" font-family='"Liberation Sans", sans-serif' text-anchor="middle" font-weight="bold">0.03%</text>
<text x="315.33" y="470.65" font-size="4.3" fill="#1e1e2a" font-family='"Liberation Sans", sans-serif' text-anchor="middle" font-weight="bold">0.03%</text>
<text x="333.47" y="470.65" font-size="4.3" fill="#1e1e2a" font-family='"Liberation Sans", sans-serif' text-anchor="middle" font-weight="bold">0.02%</text>
<text x="351.61" y="470.65" font-size="4.3" fill="#1e1e2a" font-family='"Liberation Sans", sans-serif' text-anchor="middle" font-weight="bold">0.05%</text>
<text x="369.75" y="470.65" font-size="4.3" fill="#1e1e2a" font-family='"Liberation Sans", sans-serif' text-anchor="middle" font-weight="bold">0.06%</text>
<text x="387.89" y="470.65" font-size="4.3" fill="#1e1e2a" font-family='"Liberation Sans", sans-serif' text-anchor="middle" font-weight="bold">0.06%</text>
<text x="406.03" y="470.65" font-size="4.3" fill="#1e1e2a" font-family='"Liberation Sans", sans-serif' text-anchor="middle" font-weight="bold">0.05%</text>
<text x="424.17" y="470.65" font-size="4.3" fill="#1e1e2a" font-family='"Liberation Sans", sans-serif' text-anchor="middle" font-weight="bold">0.08%</text>
<text x="442.31" y="470.65" font-size="4.3" fill="#1e1e2a" font-family='"Liberation Sans", sans-serif' text-anchor="middle" font-weight="bold">0.09%</text>
<text x="460.45" y="470.65" font-size="4.3" fill="#1e1e2a" font-family='"Liberation Sans", sans-serif' text-anchor="middle" font-weight="bold">0.14%</text>
<text x="478.59" y="470.65" font-size="4.3" fill="#1e1e2a" font-family='"Liberation Sans", sans-serif' text-anchor="middle" font-weight="bold">0.07%</text>
<text x="242.77" y="481.69" font-size="4.3" fill="#1e1e2a" font-family='"Liberation Sans", sans-serif' text-anchor="middle" font-weight="bold">0%</text>
<text x="260.91" y="481.69" font-size="4.3" fill="#1e1e2a" font-family='"Liberation Sans", sans-serif' text-anchor="middle" font-weight="bold">0%</text>
<text x="279.05" y="481.69" font-size="4.3" fill="#1e1e2a" font-family='"Liberation Sans", sans-serif' text-anchor="middle" font-weight="bold">0.01%</text>
<text x="297.19" y="481.69" font-size="4.3" fill="#1e1e2a" font-family='"Liberation Sans", sans-serif' text-anchor="middle" font-weight="bold">0.08%</text>
<text x="315.33" y="481.69" font-size="4.3" fill="#1e1e2a" font-family='"Liberation Sans", sans-serif' text-anchor="middle" font-weight="bold">0.21%</text>
<text x="333.47" y="481.69" font-size="4.3" fill="#1e1e2a" font-family='"Liberation Sans", sans-serif' text-anchor="middle" font-weight="bold">0.2%</text>
<text x="351.61" y="481.69" font-size="4.3" fill="#1e1e2a" font-family='"Liberation Sans", sans-serif' text-anchor="middle" font-weight="bold">0.29%</text>
<text x="369.75" y="481.69" font-size="4.3" fill="#1e1e2a" font-family='"Liberation Sans", sans-serif' text-anchor="middle" font-weight="bold">0.25%</text>
<text x="387.89" y="481.69" font-size="4.3" fill="#1e1e2a" font-family='"Liberation Sans", sans-serif' text-anchor="middle" font-weight="bold">0.3%</text>
<text x="406.03" y="481.69" font-size="4.3" fill="#1e1e2a" font-family='"Liberation Sans", sans-serif' text-anchor="middle" font-weight="bold">0.27%</text>
<text x="424.17" y="481.69" font-size="4.3" fill="#1e1e2a" font-family='"Liberation Sans", sans-serif' text-anchor="middle" font-weight="bold">0.23%</text>
<text x="442.31" y="481.69" font-size="4.3" fill="#1e1e2a" font-family='"Liberation Sans", sans-serif' text-anchor="middle" font-weight="bold">0.34%</text>
<text x="460.45" y="481.69" font-size="4.3" fill="#1e1e2a" font-family='"Liberation Sans", sans-serif' text-anchor="middle" font-weight="bold">0.47%</text>
<text x="478.59" y="481.69" font-size="4.3" fill="#1e1e2a" font-family='"Liberation Sans", sans-serif' text-anchor="middle" font-weight="bold">0.36%</text>
<text x="242.77" y="492.73" font-size="4.3" fill="#1e1e2a" font-family='"Liberation Sans", sans-serif' text-anchor="middle" font-weight="bold">0%</text>
<text x="260.91" y="492.73" font-size="4.3" fill="#1e1e2a" font-family='"Liberation Sans", sans-serif' text-anchor="middle" font-weight="bold">0%</text>
<text x="279.05" y="492.73" font-size="4.3" fill="#1e1e2a" font-family='"Liberation Sans", sans-serif' text-anchor="middle" font-weight="bold">0.15%</text>
<text x="297.19" y="492.73" font-size="4.3" fill="#1e1e2a" font-family='"Liberation Sans", sans-serif' text-anchor="middle" font-weight="bold">0.32%</text>
<text x="315.33" y="492.73" font-size="4.3" fill="#1e1e2a" font-family='"Liberation Sans", sans-serif' text-anchor="middle" font-weight="bold">0.63%</text>
<text x="333.47" y="492.73" font-size="4.3" fill="#1e1e2a" font-family='"Liberation Sans", sans-serif' text-anchor="middle" font-weight="bold">0.56%</text>
<text x="351.61" y="492.73" font-size="4.3" fill="#1e1e2a" font-family='"Liberation Sans", sans-serif' text-anchor="middle" font-weight="bold">0.61%</text>
<text x="369.75" y="492.73" font-size="4.3" fill="#1e1e2a" font-family='"Liberation Sans", sans-serif' text-anchor="middle" font-weight="bold">0.69%</text>
<text x="387.89" y="492.73" font-size="4.3" fill="#1e1e2a" font-family='"Liberation Sans", sans-serif' text-anchor="middle" font-weight="bold">0.61%</text>
<text x="406.03" y="492.73" font-size="4.3" fill="#1e1e2a" font-family='"Liberation Sans", sans-serif' text-anchor="middle" font-weight="bold">0.64%</text>
<text x="424.17" y="492.73" font-size="4.3" fill="#1e1e2a" font-family='"Liberation Sans", sans-serif' text-anchor="middle" font-weight="bold">0.65%</text>
<text x="442.31" y="492.73" font-size="4.3" fill="#1e1e2a" font-family='"Liberation Sans", sans-serif' text-anchor="middle" font-weight="bold">0.64%</text>
<text x="460.45" y="492.73" font-size="4.3" fill="#1e1e2a" font-family='"Liberation Sans", sans-serif' text-anchor="middle" font-weight="bold">0.74%</text>
<text x="478.59" y="492.73" font-size="4.3" fill="#1e1e2a" font-family='"Liberation Sans", sans-serif' text-anchor="middle" font-weight="bold">0.82%</text>
<text x="242.77" y="503.77" font-size="4.3" fill="#1e1e2a" font-family='"Liberation Sans", sans-serif' text-anchor="middle" font-weight="bold">0.01%</text>
<text x="260.91" y="503.77" font-size="4.3" fill="#1e1e2a" font-family='"Liberation Sans", sans-serif' text-anchor="middle" font-weight="bold">0.01%</text>
<text x="279.05" y="503.77" font-size="4.3" fill="#1e1e2a" font-family='"Liberation Sans", sans-serif' text-anchor="middle" font-weight="bold">0.06%</text>
<text x="297.19" y="503.77" font-size="4.3" fill="#1e1e2a" font-family='"Liberation Sans", sans-serif' text-anchor="middle" font-weight="bold">0.24%</text>
<text x="315.33" y="503.77" font-size="4.3" fill="#1e1e2a" font-family='"Liberation Sans", sans-serif' text-anchor="middle" font-weight="bold">0.43%</text>
<text x="333.47" y="503.77" font-size="4.3" fill="#1e1e2a" font-family='"Liberation Sans", sans-serif' text-anchor="middle" font-weight="bold">0.47%</text>
<text x="351.61" y="503.77" font-size="4.3" fill="#1e1e2a" font-family='"Liberation Sans", sans-serif' text-anchor="middle" font-weight="bold">0.71%</text>
<text x="369.75" y="503.77" font-size="4.3" fill="#1e1e2a" font-family='"Liberation Sans", sans-serif' text-anchor="middle" font-weight="bold">1.22%</text>
<text x="387.89" y="503.77" font-size="4.3" fill="#1e1e2a" font-family='"Liberation Sans", sans-serif' text-anchor="middle" font-weight="bold">1.26%</text>
<text x="406.03" y="503.77" font-size="4.3" fill="#1e1e2a" font-family='"Liberation Sans", sans-serif' text-anchor="middle" font-weight="bold">1.33%</text>
<text x="424.17" y="503.77" font-size="4.3" fill="#1e1e2a" font-family='"Liberation Sans", sans-serif' text-anchor="middle" font-weight="bold">1.69%</text>
<text x="442.31" y="503.77" font-size="4.3" fill="#1e1e2a" font-family='"Liberation Sans", sans-serif' text-anchor="middle" font-weight="bold">2.27%</text>
<text x="460.45" y="503.77" font-size="4.3" fill="#1e1e2a" font-family='"Liberation Sans", sans-serif' text-anchor="middle" font-weight="bold">3.24%</text>
<text x="478.59" y="503.77" font-size="4.3" fill="#1e1e2a" font-family='"Liberation Sans", sans-serif' text-anchor="middle" font-weight="bold">3.17%</text>
<text x="242.77" y="514.81" font-size="4.3" fill="#fff" font-family='"Liberation Sans", sans-serif' text-anchor="middle" font-weight="bold">99.99%</text>
<text x="260.91" y="514.81" font-size="4.3" fill="#fff" font-family='"Liberation Sans", sans-serif' text-anchor="middle" font-weight="bold">99.99%</text>
<text x="279.05" y="514.81" font-size="4.3" fill="#fff" font-family='"Liberation Sans", sans-serif' text-anchor="middle" font-weight="bold">99.71%</text>
<text x="297.19" y="514.81" font-size="4.3" fill="#fff" font-family='"Liberation Sans", sans-serif' text-anchor="middle" font-weight="bold">99.17%</text>
<text x="315.33" y="514.81" font-size="4.3" fill="#fff" font-family='"Liberation Sans", sans-serif' text-anchor="middle" font-weight="bold">98.4%</text>
<text x="333.47" y="514.81" font-size="4.3" fill="#fff" font-family='"Liberation Sans", sans-serif' text-anchor="middle" font-weight="bold">98.42%</text>
<text x="351.61" y="514.81" font-size="4.3" fill="#fff" font-family='"Liberation Sans", sans-serif' text-anchor="middle" font-weight="bold">98.07%</text>
<text x="369.75" y="514.81" font-size="4.3" fill="#fff" font-family='"Liberation Sans", sans-serif' text-anchor="middle" font-weight="bold">97.55%</text>
<text x="387.89" y="514.81" font-size="4.3" fill="#fff" font-family='"Liberation Sans", sans-serif' text-anchor="middle" font-weight="bold">97.55%</text>
<text x="406.03" y="514.81" font-size="4.3" fill="#fff" font-family='"Liberation Sans", sans-serif' text-anchor="middle" font-weight="bold">97.5%</text>
<text x="424.17" y="514.81" font-size="4.3" fill="#fff" font-family='"Liberation Sans", sans-serif' text-anchor="middle" font-weight="bold">97.1%</text>
<text x="442.31" y="514.81" font-size="4.3" fill="#fff" font-family='"Liberation Sans", sans-serif' text-anchor="middle" font-weight="bold">96.45%</text>
<text x="460.45" y="514.81" font-size="4.3" fill="#fff" font-family='"Liberation Sans", sans-serif' text-anchor="middle" font-weight="bold">95.15%</text>
<text x="478.59" y="514.81" font-size="4.3" fill="#fff" font-family='"Liberation Sans", sans-serif' text-anchor="middle" font-weight="bold">95.29%</text>
<text x="244.97" y="521.50" font-size="8.2" fill="#262626" font-family='"Liberation Sans", sans-serif' text-anchor="end" transform="rotate(-90 244.97 521.50)" stroke="#262626" stroke-width="0.22">Precut</text>
<text x="263.11" y="521.50" font-size="8.2" fill="#262626" font-family='"Liberation Sans", sans-serif' text-anchor="end" transform="rotate(-90 263.11 521.50)" stroke="#262626" stroke-width="0.22">IP</text>
<text x="281.25" y="521.50" font-size="8.2" fill="#262626" font-family='"Liberation Sans", sans-serif' text-anchor="end" transform="rotate(-90 281.25 521.50)" stroke="#262626" stroke-width="0.22">1 m</text>
<text x="299.39" y="521.50" font-size="8.2" fill="#262626" font-family='"Liberation Sans", sans-serif' text-anchor="end" transform="rotate(-90 299.39 521.50)" stroke="#262626" stroke-width="0.22">6.5 m</text>
<text x="317.53" y="521.50" font-size="8.2" fill="#262626" font-family='"Liberation Sans", sans-serif' text-anchor="end" transform="rotate(-90 317.53 521.50)" stroke="#262626" stroke-width="0.22">9 m</text>
<text x="335.67" y="521.50" font-size="8.2" fill="#262626" font-family='"Liberation Sans", sans-serif' text-anchor="end" transform="rotate(-90 335.67 521.50)" stroke="#262626" stroke-width="0.22">10 m</text>
<text x="353.81" y="521.50" font-size="8.2" fill="#262626" font-family='"Liberation Sans", sans-serif' text-anchor="end" transform="rotate(-90 353.81 521.50)" stroke="#262626" stroke-width="0.22">13 m</text>
<text x="371.95" y="521.50" font-size="8.2" fill="#262626" font-family='"Liberation Sans", sans-serif' text-anchor="end" transform="rotate(-90 371.95 521.50)" stroke="#262626" stroke-width="0.22">17 m</text>
<text x="390.09" y="521.50" font-size="8.2" fill="#262626" font-family='"Liberation Sans", sans-serif' text-anchor="end" transform="rotate(-90 390.09 521.50)" stroke="#262626" stroke-width="0.22">21 m</text>
<text x="408.23" y="521.50" font-size="8.2" fill="#262626" font-family='"Liberation Sans", sans-serif' text-anchor="end" transform="rotate(-90 408.23 521.50)" stroke="#262626" stroke-width="0.22">24 m</text>
<text x="426.37" y="521.50" font-size="8.2" fill="#262626" font-family='"Liberation Sans", sans-serif' text-anchor="end" transform="rotate(-90 426.37 521.50)" stroke="#262626" stroke-width="0.22">25 m</text>
<text x="444.51" y="521.50" font-size="8.2" fill="#262626" font-family='"Liberation Sans", sans-serif' text-anchor="end" transform="rotate(-90 444.51 521.50)" stroke="#262626" stroke-width="0.22">28 m</text>
<text x="462.65" y="521.50" font-size="8.2" fill="#262626" font-family='"Liberation Sans", sans-serif' text-anchor="end" transform="rotate(-90 462.65 521.50)" stroke="#262626" stroke-width="0.22">33 m</text>
<text x="480.79" y="521.50" font-size="8.2" fill="#262626" font-family='"Liberation Sans", sans-serif' text-anchor="end" transform="rotate(-90 480.79 521.50)" stroke="#262626" stroke-width="0.22">34 m</text>
<line x1="270.60" y1="547.70" x2="486.96" y2="547.70" stroke="#222" stroke-width="1.2"/>
<text x="68.05" y="572.70" font-size="10.2" fill="#262626" font-family='"Liberation Sans", sans-serif' text-anchor="middle" textLength="46.90" lengthAdjust="spacingAndGlyphs" stroke="#262626" stroke-width="0.22">ZH63 TET2</text>
<polygon points="31.72,666.50 37.44,666.47 43.16,666.40 48.88,666.33 60.32,666.16 66.04,666.10 77.48,665.96 88.92,666.10 94.64,666.10 100.36,666.16 100.36,666.50 94.64,666.50 88.92,666.50 77.48,666.50 66.04,666.50 60.32,666.50 48.88,666.50 43.16,666.50 37.44,666.50 31.72,666.50" fill="#f27a68" stroke="#f27a68" stroke-width="0.3"/>
<polygon points="31.72,666.40 37.44,666.13 43.16,666.11 48.88,666.10 60.32,665.72 66.04,665.59 77.48,664.98 88.92,664.85 94.64,664.78 100.36,664.95 100.36,666.16 94.64,666.10 88.92,666.10 77.48,665.96 66.04,666.10 60.32,666.16 48.88,666.33 43.16,666.40 37.44,666.47 31.72,666.50" fill="#d5aa7c" stroke="#d5aa7c" stroke-width="0.3"/>
<polygon points="31.72,666.40 37.44,666.06 43.16,666.05 48.88,666.03 60.32,665.35 66.04,665.08 77.48,664.41 88.92,664.14 94.64,663.94 100.36,663.91 100.36,664.95 94.64,664.78 88.92,664.85 77.48,664.98 66.04,665.59 60.32,665.72 48.88,666.10 43.16,666.11 37.44,666.13 31.72,666.40" fill="#5b2a8a" stroke="#5b2a8a" stroke-width="0.3"/>
<polygon points="31.72,666.40 37.44,666.03 43.16,666.01 48.88,665.99 60.32,664.98 66.04,664.51 77.48,663.26 88.92,662.35 94.64,661.92 100.36,661.61 100.36,663.91 94.64,663.94 88.92,664.14 77.48,664.41 66.04,665.08 60.32,665.35 48.88,666.03 43.16,666.05 37.44,666.06 31.72,666.40" fill="#78f0d0" stroke="#78f0d0" stroke-width="0.3"/>
<polygon points="31.72,666.40 37.44,666.03 43.16,665.99 48.88,665.96 60.32,664.65 66.04,664.01 77.48,662.49 88.92,660.70 94.64,659.36 100.36,658.95 100.36,661.61 94.64,661.92 88.92,662.35 77.48,663.26 66.04,664.51 60.32,664.98 48.88,665.99 43.16,666.01 37.44,666.03 31.72,666.40" fill="#1fb8b4" stroke="#1fb8b4" stroke-width="0.3"/>
<polygon points="31.72,666.23 37.44,665.76 43.16,665.71 48.88,665.66 60.32,664.01 66.04,662.93 77.48,660.91 88.92,658.78 94.64,657.03 100.36,656.05 100.36,658.95 94.64,659.36 88.92,660.70 77.48,662.49 66.04,664.01 60.32,664.65 48.88,665.96 43.16,665.99 37.44,666.03 31.72,666.40" fill="#f8d6ef" stroke="#f8d6ef" stroke-width="0.3"/>
<polygon points="31.72,666.10 37.44,665.42 43.16,665.30 48.88,665.19 60.32,662.96 66.04,660.37 77.48,656.56 88.92,652.45 94.64,647.83 100.36,644.06 100.36,656.05 94.64,657.03 88.92,658.78 77.48,660.91 66.04,662.93 60.32,664.01 48.88,665.66 43.16,665.71 37.44,665.76 31.72,666.23" fill="#b38af4" stroke="#b38af4" stroke-width="0.3"/>
<polygon points="31.72,665.02 37.44,664.07 43.16,664.01 48.88,663.94 60.32,659.19 66.04,655.01 77.48,650.29 88.92,643.58 94.64,636.07 100.36,631.05 100.36,644.06 94.64,647.83 88.92,652.45 77.48,656.56 66.04,660.37 60.32,662.96 48.88,665.19 43.16,665.30 37.44,665.42 31.72,666.10" fill="#f8b322" stroke="#f8b322" stroke-width="0.3"/>
<polygon points="31.72,663.91 37.44,662.29 43.16,661.78 48.88,661.31 60.32,652.68 66.04,643.79 77.48,637.08 88.92,623.84 94.64,603.89 100.36,596.40 100.36,631.05 94.64,636.07 88.92,643.58 77.48,650.29 66.04,655.01 60.32,659.19 48.88,663.94 43.16,664.01 37.44,664.07 31.72,665.02" fill="#fbf500" stroke="#fbf500" stroke-width="0.3"/>
<polyline points="31.72,663.91 37.44,662.29 43.16,661.78 48.88,661.31 60.32,652.68 66.04,643.79 77.48,637.08 88.92,623.84 94.64,603.89 100.36,596.40" fill="none" stroke="#6b5a10" stroke-width="0.7" stroke-linejoin="round" stroke-dasharray="1,1.2"/>
<line x1="28.80" y1="578.00" x2="28.80" y2="670.40" stroke="#222" stroke-width="1.1"/>
<line x1="25.80" y1="666.50" x2="28.80" y2="666.50" stroke="#222" stroke-width="1.1"/>
<text x="22.60" y="669.74" font-size="9" fill="#262626" font-family='"Liberation Sans", sans-serif' text-anchor="end" textLength="4.25" lengthAdjust="spacingAndGlyphs" stroke="#262626" stroke-width="0.22">0</text>
<line x1="25.80" y1="649.65" x2="28.80" y2="649.65" stroke="#222" stroke-width="1.1"/>
<text x="22.60" y="652.89" font-size="9" fill="#262626" font-family='"Liberation Sans", sans-serif' text-anchor="end" textLength="4.25" lengthAdjust="spacingAndGlyphs" stroke="#262626" stroke-width="0.22">5</text>
<line x1="25.80" y1="632.80" x2="28.80" y2="632.80" stroke="#222" stroke-width="1.1"/>
<text x="22.60" y="636.04" font-size="9" fill="#262626" font-family='"Liberation Sans", sans-serif' text-anchor="end" textLength="8.51" lengthAdjust="spacingAndGlyphs" stroke="#262626" stroke-width="0.22">10</text>
<line x1="25.80" y1="615.95" x2="28.80" y2="615.95" stroke="#222" stroke-width="1.1"/>
<text x="22.60" y="619.19" font-size="9" fill="#262626" font-family='"Liberation Sans", sans-serif' text-anchor="end" textLength="8.51" lengthAdjust="spacingAndGlyphs" stroke="#262626" stroke-width="0.22">15</text>
<line x1="25.80" y1="599.10" x2="28.80" y2="599.10" stroke="#222" stroke-width="1.1"/>
<text x="22.60" y="602.34" font-size="9" fill="#262626" font-family='"Liberation Sans", sans-serif' text-anchor="end" textLength="8.51" lengthAdjust="spacingAndGlyphs" stroke="#262626" stroke-width="0.22">20</text>
<line x1="25.80" y1="582.25" x2="28.80" y2="582.25" stroke="#222" stroke-width="1.1"/>
<text x="22.60" y="585.49" font-size="9" fill="#262626" font-family='"Liberation Sans", sans-serif' text-anchor="end" textLength="8.51" lengthAdjust="spacingAndGlyphs" stroke="#262626" stroke-width="0.22">25</text>
<line x1="28.40" y1="670.60" x2="102.70" y2="670.60" stroke="#222" stroke-width="1.1"/>
<line x1="28.50" y1="670.60" x2="28.50" y2="673.20" stroke="#222" stroke-width="1.1"/>
<text x="28.50" y="682.80" font-size="9" fill="#262626" font-family='"Liberation Sans", sans-serif' text-anchor="middle" textLength="4.25" lengthAdjust="spacingAndGlyphs" stroke="#262626" stroke-width="0.22">0</text>
<line x1="54.60" y1="670.60" x2="54.60" y2="673.20" stroke="#222" stroke-width="1.1"/>
<text x="54.60" y="682.80" font-size="9" fill="#262626" font-family='"Liberation Sans", sans-serif' text-anchor="middle" textLength="4.25" lengthAdjust="spacingAndGlyphs" stroke="#262626" stroke-width="0.22">5</text>
<line x1="83.20" y1="670.60" x2="83.20" y2="673.20" stroke="#222" stroke-width="1.1"/>
<text x="83.20" y="682.80" font-size="9" fill="#262626" font-family='"Liberation Sans", sans-serif' text-anchor="middle" textLength="8.51" lengthAdjust="spacingAndGlyphs" stroke="#262626" stroke-width="0.22">10</text>
<text x="65.40" y="694.80" font-size="9.8" fill="#262626" font-family='"Liberation Sans", sans-serif' text-anchor="middle" textLength="78.80" lengthAdjust="spacingAndGlyphs" stroke="#262626" stroke-width="0.22">Months post-transplant</text>
<text x="8.80" y="671.50" font-size="9.2" fill="#262626" font-family='"Liberation Sans", sans-serif' textLength="91.00" lengthAdjust="spacingAndGlyphs" transform="rotate(-90 8.80 671.50)" stroke="#262626" stroke-width="0.22">Mutant allele fraction (%)</text>
<line x1="168.68" y1="570.70" x2="172.08" y2="570.70" stroke="#e8383c" stroke-width="0.85"/>
<text x="127.20" y="573.30" font-size="7.58" fill="#6e6e6e" font-family='"Liberation Mono", monospace'>CGTCCATTC</text>
<text x="172.68" y="573.30" font-size="7.58" fill="#6e6e6e" font-family='"Liberation Mono", monospace'>CAGGGGTCAC</text>
<rect x="222.30" y="566.35" width="8.50" height="8.50" fill="#f27a68"/>
<line x1="127.75" y1="581.49" x2="131.15" y2="581.49" stroke="#e8383c" stroke-width="0.85"/>
<line x1="132.30" y1="581.49" x2="135.70" y2="581.49" stroke="#e8383c" stroke-width="0.85"/>
<line x1="136.85" y1="581.49" x2="140.25" y2="581.49" stroke="#e8383c" stroke-width="0.85"/>
<line x1="141.39" y1="581.49" x2="144.79" y2="581.49" stroke="#e8383c" stroke-width="0.85"/>
<line x1="145.94" y1="581.49" x2="149.34" y2="581.49" stroke="#e8383c" stroke-width="0.85"/>
<line x1="150.49" y1="581.49" x2="153.89" y2="581.49" stroke="#e8383c" stroke-width="0.85"/>
<line x1="155.04" y1="581.49" x2="158.44" y2="581.49" stroke="#e8383c" stroke-width="0.85"/>
<line x1="159.59" y1="581.49" x2="162.99" y2="581.49" stroke="#e8383c" stroke-width="0.85"/>
<line x1="164.13" y1="581.49" x2="167.53" y2="581.49" stroke="#e8383c" stroke-width="0.85"/>
<text x="168.13" y="584.09" font-size="7.58" fill="#6e6e6e" font-family='"Liberation Mono", monospace'>TCAGGGGTCAC</text>
<rect x="222.30" y="577.13" width="8.50" height="8.50" fill="#1fb8b4"/>
<line x1="155.04" y1="592.28" x2="158.44" y2="592.28" stroke="#e8383c" stroke-width="0.85"/>
<line x1="159.59" y1="592.28" x2="162.99" y2="592.28" stroke="#e8383c" stroke-width="0.85"/>
<line x1="164.13" y1="592.28" x2="167.53" y2="592.28" stroke="#e8383c" stroke-width="0.85"/>
<text x="127.20" y="594.88" font-size="7.58" fill="#6e6e6e" font-family='"Liberation Mono", monospace'>CGTCCA</text>
<text x="168.13" y="594.88" font-size="7.58" fill="#6e6e6e" font-family='"Liberation Mono", monospace'>TCAGGGGTCAC</text>
<rect x="222.30" y="587.93" width="8.50" height="8.50" fill="#b38af4"/>
<line x1="127.75" y1="603.07" x2="131.15" y2="603.07" stroke="#e8383c" stroke-width="0.85"/>
<line x1="132.30" y1="603.07" x2="135.70" y2="603.07" stroke="#e8383c" stroke-width="0.85"/>
<line x1="136.85" y1="603.07" x2="140.25" y2="603.07" stroke="#e8383c" stroke-width="0.85"/>
<line x1="141.39" y1="603.07" x2="144.79" y2="603.07" stroke="#e8383c" stroke-width="0.85"/>
<line x1="145.94" y1="603.07" x2="149.34" y2="603.07" stroke="#e8383c" stroke-width="0.85"/>
<line x1="150.49" y1="603.07" x2="153.89" y2="603.07" stroke="#e8383c" stroke-width="0.85"/>
<line x1="155.04" y1="603.07" x2="158.44" y2="603.07" stroke="#e8383c" stroke-width="0.85"/>
<line x1="159.59" y1="603.07" x2="162.99" y2="603.07" stroke="#e8383c" stroke-width="0.85"/>
<line x1="164.13" y1="603.07" x2="167.53" y2="603.07" stroke="#e8383c" stroke-width="0.85"/>
<line x1="168.68" y1="603.07" x2="172.08" y2="603.07" stroke="#e8383c" stroke-width="0.85"/>
<line x1="173.23" y1="603.07" x2="176.63" y2="603.07" stroke="#e8383c" stroke-width="0.85"/>
<line x1="177.78" y1="603.07" x2="181.18" y2="603.07" stroke="#e8383c" stroke-width="0.85"/>
<text x="181.78" y="605.67" font-size="7.58" fill="#6e6e6e" font-family='"Liberation Mono", monospace'>GGGGTCAC</text>
<rect x="222.30" y="598.72" width="8.50" height="8.50" fill="#78f0d0"/>
<text x="127.20" y="616.46" font-size="7.58" fill="#6e6e6e" font-family='"Liberation Mono", monospace'>CGTCCATTCT</text>
<text x="172.68" y="616.46" font-size="7.58" fill="#e2302c" font-family='"Liberation Mono", monospace'>TT</text>
<text x="181.78" y="616.46" font-size="7.58" fill="#6e6e6e" font-family='"Liberation Mono", monospace'>CAGGGGTC</text>
<rect x="222.30" y="609.50" width="8.50" height="8.50" fill="#d5aa7c"/>
<line x1="155.04" y1="624.65" x2="158.44" y2="624.65" stroke="#e8383c" stroke-width="0.85"/>
<line x1="159.59" y1="624.65" x2="162.99" y2="624.65" stroke="#e8383c" stroke-width="0.85"/>
<line x1="164.13" y1="624.65" x2="167.53" y2="624.65" stroke="#e8383c" stroke-width="0.85"/>
<line x1="168.68" y1="624.65" x2="172.08" y2="624.65" stroke="#e8383c" stroke-width="0.85"/>
<text x="127.20" y="627.25" font-size="7.58" fill="#6e6e6e" font-family='"Liberation Mono", monospace'>CGTCCA</text>
<text x="172.68" y="627.25" font-size="7.58" fill="#6e6e6e" font-family='"Liberation Mono", monospace'>CAGGGGTCAC</text>
<rect x="222.30" y="620.30" width="8.50" height="8.50" fill="#5b2a8a"/>
<line x1="173.23" y1="635.44" x2="176.63" y2="635.44" stroke="#e8383c" stroke-width="0.85"/>
<line x1="177.78" y1="635.44" x2="181.18" y2="635.44" stroke="#e8383c" stroke-width="0.85"/>
<text x="127.20" y="638.04" font-size="7.58" fill="#6e6e6e" font-family='"Liberation Mono", monospace'>CGTCCATTCT</text>
<text x="181.78" y="638.04" font-size="7.58" fill="#6e6e6e" font-family='"Liberation Mono", monospace'>GGGGTCAC</text>
<rect x="222.30" y="631.09" width="8.50" height="8.50" fill="#f8d6ef"/>
<line x1="159.59" y1="646.23" x2="162.99" y2="646.23" stroke="#e8383c" stroke-width="0.85"/>
<line x1="164.13" y1="646.23" x2="167.53" y2="646.23" stroke="#e8383c" stroke-width="0.85"/>
<text x="127.20" y="648.83" font-size="7.58" fill="#6e6e6e" font-family='"Liberation Mono", monospace'>CGTCCAT</text>
<text x="168.13" y="648.83" font-size="7.58" fill="#6e6e6e" font-family='"Liberation Mono", monospace'>TCAGGGGTCAC</text>
<rect x="222.30" y="641.88" width="8.50" height="8.50" fill="#f8b322"/>
<text x="127.20" y="659.62" font-size="7.58" fill="#6e6e6e" font-family='"Liberation Mono", monospace'>CGTCCATTCT</text>
<text x="172.68" y="659.62" font-size="7.58" fill="#e2302c" font-family='"Liberation Mono", monospace'>T</text>
<text x="177.23" y="659.62" font-size="7.58" fill="#6e6e6e" font-family='"Liberation Mono", monospace'>CAGGGGTCA</text>
<rect x="222.30" y="652.67" width="8.50" height="8.50" fill="#fbf500"/>
<text x="127.20" y="670.41" font-size="7.58" fill="#6e6e6e" font-family='"Liberation Mono", monospace'>CGTCCATTCTCAGGGGTCAC</text>
<line x1="124.30" y1="565.80" x2="124.30" y2="661.20" stroke="#111" stroke-width="1.1"/>
<line x1="124.30" y1="663.80" x2="124.30" y2="672.00" stroke="#111" stroke-width="1.1"/>
<text x="120.60" y="614.00" font-size="9" fill="#262626" font-family='"Liberation Sans", sans-serif' text-anchor="middle" textLength="21.50" lengthAdjust="spacingAndGlyphs" transform="rotate(-90 120.60 614.00)" stroke="#262626" stroke-width="0.22">Indels</text>
<text x="120.60" y="667.71" font-size="9" fill="#262626" font-family='"Liberation Sans", sans-serif' text-anchor="middle" textLength="11.00" lengthAdjust="spacingAndGlyphs" transform="rotate(-90 120.60 667.71)" stroke="#262626" stroke-width="0.22">WT</text>
<line x1="185.80" y1="672.31" x2="199.20" y2="672.31" stroke="#333" stroke-width="0.8"/>
<polygon points="170.10,678.50 172.10,672.30 174.10,678.50" fill="#d8242c"/>
<text x="186.40" y="678.50" font-size="8.2" fill="#222" font-family='"Liberation Sans", sans-serif' textLength="16.70" lengthAdjust="spacingAndGlyphs" stroke="#222" stroke-width="0.22">PAM</text>
<rect x="235.20" y="565.20" width="22.92" height="10.84" fill="#6e9fd4"/>
<rect x="258.07" y="565.20" width="22.92" height="10.84" fill="#6e9fd4"/>
<rect x="280.94" y="565.20" width="22.92" height="10.84" fill="#6e9fd4"/>
<rect x="303.81" y="565.20" width="22.92" height="10.84" fill="#90bce0"/>
<rect x="326.68" y="565.20" width="22.92" height="10.84" fill="#add4eb"/>
<rect x="349.55" y="565.20" width="22.92" height="10.84" fill="#c2e1ee"/>
<rect x="372.42" y="565.20" width="22.92" height="10.84" fill="#c7e4ed"/>
<rect x="395.29" y="565.20" width="22.92" height="10.84" fill="#d0e9eb"/>
<rect x="418.16" y="565.20" width="22.92" height="10.84" fill="#c7e4ed"/>
<rect x="441.03" y="565.20" width="22.92" height="10.84" fill="#c7e4ed"/>
<rect x="463.90" y="565.20" width="22.92" height="10.84" fill="#c2e1ee"/>
<rect x="235.20" y="575.99" width="22.92" height="10.84" fill="#6e9fd4"/>
<rect x="258.07" y="575.99" width="22.92" height="10.84" fill="#6e9fd4"/>
<rect x="280.94" y="575.99" width="22.92" height="10.84" fill="#6e9fd4"/>
<rect x="303.81" y="575.99" width="22.92" height="10.84" fill="#6e9fd4"/>
<rect x="326.68" y="575.99" width="22.92" height="10.84" fill="#90bce0"/>
<rect x="349.55" y="575.99" width="22.92" height="10.84" fill="#c2e1ee"/>
<rect x="372.42" y="575.99" width="22.92" height="10.84" fill="#cee8eb"/>
<rect x="395.29" y="575.99" width="22.92" height="10.84" fill="#dbefe3"/>
<rect x="418.16" y="575.99" width="22.92" height="10.84" fill="#f0f7cd"/>
<rect x="441.03" y="575.99" width="22.92" height="10.84" fill="#f8f3bb"/>
<rect x="463.90" y="575.99" width="22.92" height="10.84" fill="#f9f2ba"/>
<rect x="235.20" y="586.78" width="22.92" height="10.84" fill="#6e9fd4"/>
<rect x="258.07" y="586.78" width="22.92" height="10.84" fill="#a4cde8"/>
<rect x="280.94" y="586.78" width="22.92" height="10.84" fill="#a9d1ea"/>
<rect x="303.81" y="586.78" width="22.92" height="10.84" fill="#c2e1ee"/>
<rect x="326.68" y="586.78" width="22.92" height="10.84" fill="#cce7ec"/>
<rect x="349.55" y="586.78" width="22.92" height="10.84" fill="#e7f3d7"/>
<rect x="372.42" y="586.78" width="22.92" height="10.84" fill="#f8f3bb"/>
<rect x="395.29" y="586.78" width="22.92" height="10.84" fill="#fde6a4"/>
<rect x="418.16" y="586.78" width="22.92" height="10.84" fill="#fdd294"/>
<rect x="441.03" y="586.78" width="22.92" height="10.84" fill="#fbb782"/>
<rect x="463.90" y="586.78" width="22.92" height="10.84" fill="#f7956a"/>
<rect x="235.20" y="597.57" width="22.92" height="10.84" fill="#6e9fd4"/>
<rect x="258.07" y="597.57" width="22.92" height="10.84" fill="#6e9fd4"/>
<rect x="280.94" y="597.57" width="22.92" height="10.84" fill="#6e9fd4"/>
<rect x="303.81" y="597.57" width="22.92" height="10.84" fill="#90bce0"/>
<rect x="326.68" y="597.57" width="22.92" height="10.84" fill="#90bce0"/>
<rect x="349.55" y="597.57" width="22.92" height="10.84" fill="#c5e3ed"/>
<rect x="372.42" y="597.57" width="22.92" height="10.84" fill="#d1eaea"/>
<rect x="395.29" y="597.57" width="22.92" height="10.84" fill="#e8f4d5"/>
<rect x="418.16" y="597.57" width="22.92" height="10.84" fill="#f1f6ca"/>
<rect x="441.03" y="597.57" width="22.92" height="10.84" fill="#f3f5c5"/>
<rect x="463.90" y="597.57" width="22.92" height="10.84" fill="#f6f4c0"/>
<rect x="235.20" y="608.36" width="22.92" height="10.84" fill="#6e9fd4"/>
<rect x="258.07" y="608.36" width="22.92" height="10.84" fill="#6e9fd4"/>
<rect x="280.94" y="608.36" width="22.92" height="10.84" fill="#a4cde8"/>
<rect x="303.81" y="608.36" width="22.92" height="10.84" fill="#c2e1ee"/>
<rect x="326.68" y="608.36" width="22.92" height="10.84" fill="#b5d9ed"/>
<rect x="349.55" y="608.36" width="22.92" height="10.84" fill="#cae6ec"/>
<rect x="372.42" y="608.36" width="22.92" height="10.84" fill="#cee8eb"/>
<rect x="395.29" y="608.36" width="22.92" height="10.84" fill="#e4f2da"/>
<rect x="418.16" y="608.36" width="22.92" height="10.84" fill="#eaf5d3"/>
<rect x="441.03" y="608.36" width="22.92" height="10.84" fill="#ebf5d2"/>
<rect x="463.90" y="608.36" width="22.92" height="10.84" fill="#e9f4d4"/>
<rect x="235.20" y="619.15" width="22.92" height="10.84" fill="#6e9fd4"/>
<rect x="258.07" y="619.15" width="22.92" height="10.84" fill="#b0d6ec"/>
<rect x="280.94" y="619.15" width="22.92" height="10.84" fill="#6e9fd4"/>
<rect x="303.81" y="619.15" width="22.92" height="10.84" fill="#9dc7e5"/>
<rect x="326.68" y="619.15" width="22.92" height="10.84" fill="#9dc7e5"/>
<rect x="349.55" y="619.15" width="22.92" height="10.84" fill="#c5e3ed"/>
<rect x="372.42" y="619.15" width="22.92" height="10.84" fill="#cee8eb"/>
<rect x="395.29" y="619.15" width="22.92" height="10.84" fill="#d1eaea"/>
<rect x="418.16" y="619.15" width="22.92" height="10.84" fill="#d8eee7"/>
<rect x="441.03" y="619.15" width="22.92" height="10.84" fill="#dff0e0"/>
<rect x="463.90" y="619.15" width="22.92" height="10.84" fill="#e7f3d7"/>
<rect x="235.20" y="629.94" width="22.92" height="10.84" fill="#6e9fd4"/>
<rect x="258.07" y="629.94" width="22.92" height="10.84" fill="#9dc7e5"/>
<rect x="280.94" y="629.94" width="22.92" height="10.84" fill="#add4eb"/>
<rect x="303.81" y="629.94" width="22.92" height="10.84" fill="#badced"/>
<rect x="326.68" y="629.94" width="22.92" height="10.84" fill="#bedfee"/>
<rect x="349.55" y="629.94" width="22.92" height="10.84" fill="#d5ece9"/>
<rect x="372.42" y="629.94" width="22.92" height="10.84" fill="#e7f3d7"/>
<rect x="395.29" y="629.94" width="22.92" height="10.84" fill="#eff6ce"/>
<rect x="418.16" y="629.94" width="22.92" height="10.84" fill="#f2f6c7"/>
<rect x="441.03" y="629.94" width="22.92" height="10.84" fill="#f6f4bf"/>
<rect x="463.90" y="629.94" width="22.92" height="10.84" fill="#faf2b6"/>
<rect x="235.20" y="640.73" width="22.92" height="10.84" fill="#6e9fd4"/>
<rect x="258.07" y="640.73" width="22.92" height="10.84" fill="#d3ebea"/>
<rect x="280.94" y="640.73" width="22.92" height="10.84" fill="#e7f3d7"/>
<rect x="303.81" y="640.73" width="22.92" height="10.84" fill="#ecf5d1"/>
<rect x="326.68" y="640.73" width="22.92" height="10.84" fill="#eaf5d3"/>
<rect x="349.55" y="640.73" width="22.92" height="10.84" fill="#fdecab"/>
<rect x="372.42" y="640.73" width="22.92" height="10.84" fill="#fddd9a"/>
<rect x="395.29" y="640.73" width="22.92" height="10.84" fill="#fdd395"/>
<rect x="418.16" y="640.73" width="22.92" height="10.84" fill="#fbbb86"/>
<rect x="441.03" y="640.73" width="22.92" height="10.84" fill="#f7976b"/>
<rect x="463.90" y="640.73" width="22.92" height="10.84" fill="#f68963"/>
<rect x="235.20" y="651.52" width="22.92" height="10.84" fill="#6e9fd4"/>
<rect x="258.07" y="651.52" width="22.92" height="10.84" fill="#e4f2da"/>
<rect x="280.94" y="651.52" width="22.92" height="10.84" fill="#e8f4d6"/>
<rect x="303.81" y="651.52" width="22.92" height="10.84" fill="#f1f6ca"/>
<rect x="326.68" y="651.52" width="22.92" height="10.84" fill="#f8f3ba"/>
<rect x="349.55" y="651.52" width="22.92" height="10.84" fill="#fdd193"/>
<rect x="372.42" y="651.52" width="22.92" height="10.84" fill="#f89e70"/>
<rect x="395.29" y="651.52" width="22.92" height="10.84" fill="#f58661"/>
<rect x="418.16" y="651.52" width="22.92" height="10.84" fill="#eb503c"/>
<rect x="441.03" y="651.52" width="22.92" height="10.84" fill="#dc2c2b"/>
<rect x="463.90" y="651.52" width="22.92" height="10.84" fill="#d92a2a"/>
<rect x="235.20" y="662.31" width="22.92" height="10.84" fill="#9e1010"/>
<rect x="258.07" y="662.31" width="22.92" height="10.84" fill="#9e1010"/>
<rect x="280.94" y="662.31" width="22.92" height="10.84" fill="#9e1010"/>
<rect x="303.81" y="662.31" width="22.92" height="10.84" fill="#9e1010"/>
<rect x="326.68" y="662.31" width="22.92" height="10.84" fill="#9e1010"/>
<rect x="349.55" y="662.31" width="22.92" height="10.84" fill="#9f1011"/>
<rect x="372.42" y="662.31" width="22.92" height="10.84" fill="#a01111"/>
<rect x="395.29" y="662.31" width="22.92" height="10.84" fill="#a01111"/>
<rect x="418.16" y="662.31" width="22.92" height="10.84" fill="#a11112"/>
<rect x="441.03" y="662.31" width="22.92" height="10.84" fill="#a31213"/>
<rect x="463.90" y="662.31" width="22.92" height="10.84" fill="#a41214"/>
<line x1="235.20" y1="575.99" x2="486.77" y2="575.99" stroke="rgba(255,255,255,0.25)" stroke-width="0.4"/>
<line x1="235.20" y1="586.78" x2="486.77" y2="586.78" stroke="rgba(255,255,255,0.25)" stroke-width="0.4"/>
<line x1="235.20" y1="597.57" x2="486.77" y2="597.57" stroke="rgba(255,255,255,0.25)" stroke-width="0.4"/>
<line x1="235.20" y1="608.36" x2="486.77" y2="608.36" stroke="rgba(255,255,255,0.25)" stroke-width="0.4"/>
<line x1="235.20" y1="619.15" x2="486.77" y2="619.15" stroke="rgba(255,255,255,0.25)" stroke-width="0.4"/>
<line x1="235.20" y1="629.94" x2="486.77" y2="629.94" stroke="rgba(255,255,255,0.25)" stroke-width="0.4"/>
<line x1="235.20" y1="640.73" x2="486.77" y2="640.73" stroke="rgba(255,255,255,0.25)" stroke-width="0.4"/>
<line x1="235.20" y1="651.52" x2="486.77" y2="651.52" stroke="rgba(255,255,255,0.25)" stroke-width="0.4"/>
<line x1="235.20" y1="662.31" x2="486.77" y2="662.31" stroke="rgba(255,255,255,0.25)" stroke-width="0.4"/>
<line x1="258.07" y1="565.20" x2="258.07" y2="673.10" stroke="rgba(255,255,255,0.25)" stroke-width="0.4"/>
<line x1="280.94" y1="565.20" x2="280.94" y2="673.10" stroke="rgba(255,255,255,0.25)" stroke-width="0.4"/>
<line x1="303.81" y1="565.20" x2="303.81" y2="673.10" stroke="rgba(255,255,255,0.25)" stroke-width="0.4"/>
<line x1="326.68" y1="565.20" x2="326.68" y2="673.10" stroke="rgba(255,255,255,0.25)" stroke-width="0.4"/>
<line x1="349.55" y1="565.20" x2="349.55" y2="673.10" stroke="rgba(255,255,255,0.25)" stroke-width="0.4"/>
<line x1="372.42" y1="565.20" x2="372.42" y2="673.10" stroke="rgba(255,255,255,0.25)" stroke-width="0.4"/>
<line x1="395.29" y1="565.20" x2="395.29" y2="673.10" stroke="rgba(255,255,255,0.25)" stroke-width="0.4"/>
<line x1="418.16" y1="565.20" x2="418.16" y2="673.10" stroke="rgba(255,255,255,0.25)" stroke-width="0.4"/>
<line x1="441.03" y1="565.20" x2="441.03" y2="673.10" stroke="rgba(255,255,255,0.25)" stroke-width="0.4"/>
<line x1="463.90" y1="565.20" x2="463.90" y2="673.10" stroke="rgba(255,255,255,0.25)" stroke-width="0.4"/>
<text x="246.63" y="572.14" font-size="4.3" fill="#1e1e2a" font-family='"Liberation Sans", sans-serif' text-anchor="middle" font-weight="bold">0%</text>
<text x="269.50" y="572.14" font-size="4.3" fill="#1e1e2a" font-family='"Liberation Sans", sans-serif' text-anchor="middle" font-weight="bold">0%</text>
<text x="292.38" y="572.14" font-size="4.3" fill="#1e1e2a" font-family='"Liberation Sans", sans-serif' text-anchor="middle" font-weight="bold">0%</text>
<text x="315.25" y="572.14" font-size="4.3" fill="#1e1e2a" font-family='"Liberation Sans", sans-serif' text-anchor="middle" font-weight="bold">0.01%</text>
<text x="338.12" y="572.14" font-size="4.3" fill="#1e1e2a" font-family='"Liberation Sans", sans-serif' text-anchor="middle" font-weight="bold">0.05%</text>
<text x="360.99" y="572.14" font-size="4.3" fill="#1e1e2a" font-family='"Liberation Sans", sans-serif' text-anchor="middle" font-weight="bold">0.1%</text>
<text x="383.86" y="572.14" font-size="4.3" fill="#1e1e2a" font-family='"Liberation Sans", sans-serif' text-anchor="middle" font-weight="bold">0.12%</text>
<text x="406.73" y="572.14" font-size="4.3" fill="#1e1e2a" font-family='"Liberation Sans", sans-serif' text-anchor="middle" font-weight="bold">0.16%</text>
<text x="429.60" y="572.14" font-size="4.3" fill="#1e1e2a" font-family='"Liberation Sans", sans-serif' text-anchor="middle" font-weight="bold">0.12%</text>
<text x="452.47" y="572.14" font-size="4.3" fill="#1e1e2a" font-family='"Liberation Sans", sans-serif' text-anchor="middle" font-weight="bold">0.12%</text>
<text x="475.34" y="572.14" font-size="4.3" fill="#1e1e2a" font-family='"Liberation Sans", sans-serif' text-anchor="middle" font-weight="bold">0.1%</text>
<text x="246.63" y="582.93" font-size="4.3" fill="#1e1e2a" font-family='"Liberation Sans", sans-serif' text-anchor="middle" font-weight="bold">0%</text>
<text x="269.50" y="582.93" font-size="4.3" fill="#1e1e2a" font-family='"Liberation Sans", sans-serif' text-anchor="middle" font-weight="bold">0%</text>
<text x="292.38" y="582.93" font-size="4.3" fill="#1e1e2a" font-family='"Liberation Sans", sans-serif' text-anchor="middle" font-weight="bold">0%</text>
<text x="315.25" y="582.93" font-size="4.3" fill="#1e1e2a" font-family='"Liberation Sans", sans-serif' text-anchor="middle" font-weight="bold">0%</text>
<text x="338.12" y="582.93" font-size="4.3" fill="#1e1e2a" font-family='"Liberation Sans", sans-serif' text-anchor="middle" font-weight="bold">0.01%</text>
<text x="360.99" y="582.93" font-size="4.3" fill="#1e1e2a" font-family='"Liberation Sans", sans-serif' text-anchor="middle" font-weight="bold">0.1%</text>
<text x="383.86" y="582.93" font-size="4.3" fill="#1e1e2a" font-family='"Liberation Sans", sans-serif' text-anchor="middle" font-weight="bold">0.15%</text>
<text x="406.73" y="582.93" font-size="4.3" fill="#1e1e2a" font-family='"Liberation Sans", sans-serif' text-anchor="middle" font-weight="bold">0.23%</text>
<text x="429.60" y="582.93" font-size="4.3" fill="#1e1e2a" font-family='"Liberation Sans", sans-serif' text-anchor="middle" font-weight="bold">0.49%</text>
<text x="452.47" y="582.93" font-size="4.3" fill="#1e1e2a" font-family='"Liberation Sans", sans-serif' text-anchor="middle" font-weight="bold">0.76%</text>
<text x="475.34" y="582.93" font-size="4.3" fill="#1e1e2a" font-family='"Liberation Sans", sans-serif' text-anchor="middle" font-weight="bold">0.79%</text>
<text x="246.63" y="593.72" font-size="4.3" fill="#1e1e2a" font-family='"Liberation Sans", sans-serif' text-anchor="middle" font-weight="bold">0%</text>
<text x="269.50" y="593.72" font-size="4.3" fill="#1e1e2a" font-family='"Liberation Sans", sans-serif' text-anchor="middle" font-weight="bold">0.03%</text>
<text x="292.38" y="593.72" font-size="4.3" fill="#1e1e2a" font-family='"Liberation Sans", sans-serif' text-anchor="middle" font-weight="bold">0.04%</text>
<text x="315.25" y="593.72" font-size="4.3" fill="#1e1e2a" font-family='"Liberation Sans", sans-serif' text-anchor="middle" font-weight="bold">0.1%</text>
<text x="338.12" y="593.72" font-size="4.3" fill="#1e1e2a" font-family='"Liberation Sans", sans-serif' text-anchor="middle" font-weight="bold">0.14%</text>
<text x="360.99" y="593.72" font-size="4.3" fill="#1e1e2a" font-family='"Liberation Sans", sans-serif' text-anchor="middle" font-weight="bold">0.31%</text>
<text x="383.86" y="593.72" font-size="4.3" fill="#1e1e2a" font-family='"Liberation Sans", sans-serif' text-anchor="middle" font-weight="bold">0.76%</text>
<text x="406.73" y="593.72" font-size="4.3" fill="#1e1e2a" font-family='"Liberation Sans", sans-serif' text-anchor="middle" font-weight="bold">1.29%</text>
<text x="429.60" y="593.72" font-size="4.3" fill="#1e1e2a" font-family='"Liberation Sans", sans-serif' text-anchor="middle" font-weight="bold">1.88%</text>
<text x="452.47" y="593.72" font-size="4.3" fill="#1e1e2a" font-family='"Liberation Sans", sans-serif' text-anchor="middle" font-weight="bold">2.73%</text>
<text x="475.34" y="593.72" font-size="4.3" fill="#1e1e2a" font-family='"Liberation Sans", sans-serif' text-anchor="middle" font-weight="bold">3.56%</text>
<text x="246.63" y="604.51" font-size="4.3" fill="#1e1e2a" font-family='"Liberation Sans", sans-serif' text-anchor="middle" font-weight="bold">0%</text>
<text x="269.50" y="604.51" font-size="4.3" fill="#1e1e2a" font-family='"Liberation Sans", sans-serif' text-anchor="middle" font-weight="bold">0%</text>
<text x="292.38" y="604.51" font-size="4.3" fill="#1e1e2a" font-family='"Liberation Sans", sans-serif' text-anchor="middle" font-weight="bold">0%</text>
<text x="315.25" y="604.51" font-size="4.3" fill="#1e1e2a" font-family='"Liberation Sans", sans-serif' text-anchor="middle" font-weight="bold">0.01%</text>
<text x="338.12" y="604.51" font-size="4.3" fill="#1e1e2a" font-family='"Liberation Sans", sans-serif' text-anchor="middle" font-weight="bold">0.01%</text>
<text x="360.99" y="604.51" font-size="4.3" fill="#1e1e2a" font-family='"Liberation Sans", sans-serif' text-anchor="middle" font-weight="bold">0.11%</text>
<text x="383.86" y="604.51" font-size="4.3" fill="#1e1e2a" font-family='"Liberation Sans", sans-serif' text-anchor="middle" font-weight="bold">0.17%</text>
<text x="406.73" y="604.51" font-size="4.3" fill="#1e1e2a" font-family='"Liberation Sans", sans-serif' text-anchor="middle" font-weight="bold">0.34%</text>
<text x="429.60" y="604.51" font-size="4.3" fill="#1e1e2a" font-family='"Liberation Sans", sans-serif' text-anchor="middle" font-weight="bold">0.53%</text>
<text x="452.47" y="604.51" font-size="4.3" fill="#1e1e2a" font-family='"Liberation Sans", sans-serif' text-anchor="middle" font-weight="bold">0.6%</text>
<text x="475.34" y="604.51" font-size="4.3" fill="#1e1e2a" font-family='"Liberation Sans", sans-serif' text-anchor="middle" font-weight="bold">0.68%</text>
<text x="246.63" y="615.30" font-size="4.3" fill="#1e1e2a" font-family='"Liberation Sans", sans-serif' text-anchor="middle" font-weight="bold">0%</text>
<text x="269.50" y="615.30" font-size="4.3" fill="#1e1e2a" font-family='"Liberation Sans", sans-serif' text-anchor="middle" font-weight="bold">0%</text>
<text x="292.38" y="615.30" font-size="4.3" fill="#1e1e2a" font-family='"Liberation Sans", sans-serif' text-anchor="middle" font-weight="bold">0.03%</text>
<text x="315.25" y="615.30" font-size="4.3" fill="#1e1e2a" font-family='"Liberation Sans", sans-serif' text-anchor="middle" font-weight="bold">0.1%</text>
<text x="338.12" y="615.30" font-size="4.3" fill="#1e1e2a" font-family='"Liberation Sans", sans-serif' text-anchor="middle" font-weight="bold">0.07%</text>
<text x="360.99" y="615.30" font-size="4.3" fill="#1e1e2a" font-family='"Liberation Sans", sans-serif' text-anchor="middle" font-weight="bold">0.13%</text>
<text x="383.86" y="615.30" font-size="4.3" fill="#1e1e2a" font-family='"Liberation Sans", sans-serif' text-anchor="middle" font-weight="bold">0.15%</text>
<text x="406.73" y="615.30" font-size="4.3" fill="#1e1e2a" font-family='"Liberation Sans", sans-serif' text-anchor="middle" font-weight="bold">0.29%</text>
<text x="429.60" y="615.30" font-size="4.3" fill="#1e1e2a" font-family='"Liberation Sans", sans-serif' text-anchor="middle" font-weight="bold">0.37%</text>
<text x="452.47" y="615.30" font-size="4.3" fill="#1e1e2a" font-family='"Liberation Sans", sans-serif' text-anchor="middle" font-weight="bold">0.39%</text>
<text x="475.34" y="615.30" font-size="4.3" fill="#1e1e2a" font-family='"Liberation Sans", sans-serif' text-anchor="middle" font-weight="bold">0.36%</text>
<text x="246.63" y="626.09" font-size="4.3" fill="#1e1e2a" font-family='"Liberation Sans", sans-serif' text-anchor="middle" font-weight="bold">0%</text>
<text x="269.50" y="626.09" font-size="4.3" fill="#1e1e2a" font-family='"Liberation Sans", sans-serif' text-anchor="middle" font-weight="bold">0.06%</text>
<text x="292.38" y="626.09" font-size="4.3" fill="#1e1e2a" font-family='"Liberation Sans", sans-serif' text-anchor="middle" font-weight="bold">0%</text>
<text x="315.25" y="626.09" font-size="4.3" fill="#1e1e2a" font-family='"Liberation Sans", sans-serif' text-anchor="middle" font-weight="bold">0.02%</text>
<text x="338.12" y="626.09" font-size="4.3" fill="#1e1e2a" font-family='"Liberation Sans", sans-serif' text-anchor="middle" font-weight="bold">0.02%</text>
<text x="360.99" y="626.09" font-size="4.3" fill="#1e1e2a" font-family='"Liberation Sans", sans-serif' text-anchor="middle" font-weight="bold">0.11%</text>
<text x="383.86" y="626.09" font-size="4.3" fill="#1e1e2a" font-family='"Liberation Sans", sans-serif' text-anchor="middle" font-weight="bold">0.15%</text>
<text x="406.73" y="626.09" font-size="4.3" fill="#1e1e2a" font-family='"Liberation Sans", sans-serif' text-anchor="middle" font-weight="bold">0.17%</text>
<text x="429.60" y="626.09" font-size="4.3" fill="#1e1e2a" font-family='"Liberation Sans", sans-serif' text-anchor="middle" font-weight="bold">0.21%</text>
<text x="452.47" y="626.09" font-size="4.3" fill="#1e1e2a" font-family='"Liberation Sans", sans-serif' text-anchor="middle" font-weight="bold">0.25%</text>
<text x="475.34" y="626.09" font-size="4.3" fill="#1e1e2a" font-family='"Liberation Sans", sans-serif' text-anchor="middle" font-weight="bold">0.31%</text>
<text x="246.63" y="636.88" font-size="4.3" fill="#1e1e2a" font-family='"Liberation Sans", sans-serif' text-anchor="middle" font-weight="bold">0%</text>
<text x="269.50" y="636.88" font-size="4.3" fill="#1e1e2a" font-family='"Liberation Sans", sans-serif' text-anchor="middle" font-weight="bold">0.02%</text>
<text x="292.38" y="636.88" font-size="4.3" fill="#1e1e2a" font-family='"Liberation Sans", sans-serif' text-anchor="middle" font-weight="bold">0.05%</text>
<text x="315.25" y="636.88" font-size="4.3" fill="#1e1e2a" font-family='"Liberation Sans", sans-serif' text-anchor="middle" font-weight="bold">0.08%</text>
<text x="338.12" y="636.88" font-size="4.3" fill="#1e1e2a" font-family='"Liberation Sans", sans-serif' text-anchor="middle" font-weight="bold">0.09%</text>
<text x="360.99" y="636.88" font-size="4.3" fill="#1e1e2a" font-family='"Liberation Sans", sans-serif' text-anchor="middle" font-weight="bold">0.19%</text>
<text x="383.86" y="636.88" font-size="4.3" fill="#1e1e2a" font-family='"Liberation Sans", sans-serif' text-anchor="middle" font-weight="bold">0.32%</text>
<text x="406.73" y="636.88" font-size="4.3" fill="#1e1e2a" font-family='"Liberation Sans", sans-serif' text-anchor="middle" font-weight="bold">0.47%</text>
<text x="429.60" y="636.88" font-size="4.3" fill="#1e1e2a" font-family='"Liberation Sans", sans-serif' text-anchor="middle" font-weight="bold">0.57%</text>
<text x="452.47" y="636.88" font-size="4.3" fill="#1e1e2a" font-family='"Liberation Sans", sans-serif' text-anchor="middle" font-weight="bold">0.69%</text>
<text x="475.34" y="636.88" font-size="4.3" fill="#1e1e2a" font-family='"Liberation Sans", sans-serif' text-anchor="middle" font-weight="bold">0.86%</text>
<text x="246.63" y="647.67" font-size="4.3" fill="#1e1e2a" font-family='"Liberation Sans", sans-serif' text-anchor="middle" font-weight="bold">0%</text>
<text x="269.50" y="647.67" font-size="4.3" fill="#1e1e2a" font-family='"Liberation Sans", sans-serif' text-anchor="middle" font-weight="bold">0.18%</text>
<text x="292.38" y="647.67" font-size="4.3" fill="#1e1e2a" font-family='"Liberation Sans", sans-serif' text-anchor="middle" font-weight="bold">0.32%</text>
<text x="315.25" y="647.67" font-size="4.3" fill="#1e1e2a" font-family='"Liberation Sans", sans-serif' text-anchor="middle" font-weight="bold">0.4%</text>
<text x="338.12" y="647.67" font-size="4.3" fill="#1e1e2a" font-family='"Liberation Sans", sans-serif' text-anchor="middle" font-weight="bold">0.37%</text>
<text x="360.99" y="647.67" font-size="4.3" fill="#1e1e2a" font-family='"Liberation Sans", sans-serif' text-anchor="middle" font-weight="bold">1.12%</text>
<text x="383.86" y="647.67" font-size="4.3" fill="#1e1e2a" font-family='"Liberation Sans", sans-serif' text-anchor="middle" font-weight="bold">1.59%</text>
<text x="406.73" y="647.67" font-size="4.3" fill="#1e1e2a" font-family='"Liberation Sans", sans-serif' text-anchor="middle" font-weight="bold">1.86%</text>
<text x="429.60" y="647.67" font-size="4.3" fill="#1e1e2a" font-family='"Liberation Sans", sans-serif' text-anchor="middle" font-weight="bold">2.63%</text>
<text x="452.47" y="647.67" font-size="4.3" fill="#1e1e2a" font-family='"Liberation Sans", sans-serif' text-anchor="middle" font-weight="bold">3.49%</text>
<text x="475.34" y="647.67" font-size="4.3" fill="#1e1e2a" font-family='"Liberation Sans", sans-serif' text-anchor="middle" font-weight="bold">3.86%</text>
<text x="246.63" y="658.46" font-size="4.3" fill="#1e1e2a" font-family='"Liberation Sans", sans-serif' text-anchor="middle" font-weight="bold">0%</text>
<text x="269.50" y="658.46" font-size="4.3" fill="#1e1e2a" font-family='"Liberation Sans", sans-serif' text-anchor="middle" font-weight="bold">0.29%</text>
<text x="292.38" y="658.46" font-size="4.3" fill="#1e1e2a" font-family='"Liberation Sans", sans-serif' text-anchor="middle" font-weight="bold">0.33%</text>
<text x="315.25" y="658.46" font-size="4.3" fill="#1e1e2a" font-family='"Liberation Sans", sans-serif' text-anchor="middle" font-weight="bold">0.53%</text>
<text x="338.12" y="658.46" font-size="4.3" fill="#1e1e2a" font-family='"Liberation Sans", sans-serif' text-anchor="middle" font-weight="bold">0.78%</text>
<text x="360.99" y="658.46" font-size="4.3" fill="#1e1e2a" font-family='"Liberation Sans", sans-serif' text-anchor="middle" font-weight="bold">1.93%</text>
<text x="383.86" y="658.46" font-size="4.3" fill="#1e1e2a" font-family='"Liberation Sans", sans-serif' text-anchor="middle" font-weight="bold">3.33%</text>
<text x="406.73" y="658.46" font-size="4.3" fill="#1e1e2a" font-family='"Liberation Sans", sans-serif' text-anchor="middle" font-weight="bold">3.92%</text>
<text x="429.60" y="658.46" font-size="4.3" fill="#1e1e2a" font-family='"Liberation Sans", sans-serif' text-anchor="middle" font-weight="bold">5.86%</text>
<text x="452.47" y="658.46" font-size="4.3" fill="#1e1e2a" font-family='"Liberation Sans", sans-serif' text-anchor="middle" font-weight="bold">9.55%</text>
<text x="475.34" y="658.46" font-size="4.3" fill="#1e1e2a" font-family='"Liberation Sans", sans-serif' text-anchor="middle" font-weight="bold">10.23%</text>
<text x="246.63" y="669.25" font-size="4.3" fill="#fff" font-family='"Liberation Sans", sans-serif' text-anchor="middle" font-weight="bold">100%</text>
<text x="269.50" y="669.25" font-size="4.3" fill="#fff" font-family='"Liberation Sans", sans-serif' text-anchor="middle" font-weight="bold">99.41%</text>
<text x="292.38" y="669.25" font-size="4.3" fill="#fff" font-family='"Liberation Sans", sans-serif' text-anchor="middle" font-weight="bold">99.22%</text>
<text x="315.25" y="669.25" font-size="4.3" fill="#fff" font-family='"Liberation Sans", sans-serif' text-anchor="middle" font-weight="bold">99.74%</text>
<text x="338.12" y="669.25" font-size="4.3" fill="#fff" font-family='"Liberation Sans", sans-serif' text-anchor="middle" font-weight="bold">99.46%</text>
<text x="360.99" y="669.25" font-size="4.3" fill="#fff" font-family='"Liberation Sans", sans-serif' text-anchor="middle" font-weight="bold">95.9%</text>
<text x="383.86" y="669.25" font-size="4.3" fill="#fff" font-family='"Liberation Sans", sans-serif' text-anchor="middle" font-weight="bold">93.25%</text>
<text x="406.73" y="669.25" font-size="4.3" fill="#fff" font-family='"Liberation Sans", sans-serif' text-anchor="middle" font-weight="bold">91.27%</text>
<text x="429.60" y="669.25" font-size="4.3" fill="#fff" font-family='"Liberation Sans", sans-serif' text-anchor="middle" font-weight="bold">87.4%</text>
<text x="452.47" y="669.25" font-size="4.3" fill="#fff" font-family='"Liberation Sans", sans-serif' text-anchor="middle" font-weight="bold">82.45%</text>
<text x="475.34" y="669.25" font-size="4.3" fill="#fff" font-family='"Liberation Sans", sans-serif' text-anchor="middle" font-weight="bold">79.25%</text>
<text x="248.83" y="675.60" font-size="8.2" fill="#262626" font-family='"Liberation Sans", sans-serif' text-anchor="end" transform="rotate(-90 248.83 675.60)" stroke="#262626" stroke-width="0.22">Precut</text>
<text x="271.70" y="675.60" font-size="8.2" fill="#262626" font-family='"Liberation Sans", sans-serif' text-anchor="end" transform="rotate(-90 271.70 675.60)" stroke="#262626" stroke-width="0.22">IP</text>
<text x="294.57" y="675.60" font-size="8.2" fill="#262626" font-family='"Liberation Sans", sans-serif' text-anchor="end" transform="rotate(-90 294.57 675.60)" stroke="#262626" stroke-width="0.22">1 m</text>
<text x="317.44" y="675.60" font-size="8.2" fill="#262626" font-family='"Liberation Sans", sans-serif' text-anchor="end" transform="rotate(-90 317.44 675.60)" stroke="#262626" stroke-width="0.22">2 m</text>
<text x="340.31" y="675.60" font-size="8.2" fill="#262626" font-family='"Liberation Sans", sans-serif' text-anchor="end" transform="rotate(-90 340.31 675.60)" stroke="#262626" stroke-width="0.22">4 m</text>
<text x="363.19" y="675.60" font-size="8.2" fill="#262626" font-family='"Liberation Sans", sans-serif' text-anchor="end" transform="rotate(-90 363.19 675.60)" stroke="#262626" stroke-width="0.22">6 m</text>
<text x="386.06" y="675.60" font-size="8.2" fill="#262626" font-family='"Liberation Sans", sans-serif' text-anchor="end" transform="rotate(-90 386.06 675.60)" stroke="#262626" stroke-width="0.22">7 m</text>
<text x="408.93" y="675.60" font-size="8.2" fill="#262626" font-family='"Liberation Sans", sans-serif' text-anchor="end" transform="rotate(-90 408.93 675.60)" stroke="#262626" stroke-width="0.22">9 m</text>
<text x="431.80" y="675.60" font-size="8.2" fill="#262626" font-family='"Liberation Sans", sans-serif' text-anchor="end" transform="rotate(-90 431.80 675.60)" stroke="#262626" stroke-width="0.22">11 m</text>
<text x="454.67" y="675.60" font-size="8.2" fill="#262626" font-family='"Liberation Sans", sans-serif' text-anchor="end" transform="rotate(-90 454.67 675.60)" stroke="#262626" stroke-width="0.22">12 m</text>
<text x="477.54" y="675.60" font-size="8.2" fill="#262626" font-family='"Liberation Sans", sans-serif' text-anchor="end" transform="rotate(-90 477.54 675.60)" stroke="#262626" stroke-width="0.22">13 m</text>
<line x1="283.40" y1="697.90" x2="486.07" y2="697.90" stroke="#222" stroke-width="1.2"/>
<text x="172.70" y="686.60" font-size="9.6" fill="#262626" font-family='"Liberation Sans", sans-serif' text-anchor="middle" textLength="35.00" lengthAdjust="spacingAndGlyphs" stroke="#262626" stroke-width="0.22">Expected</text>
<text x="172.40" y="695.80" font-size="9.6" fill="#262626" font-family='"Liberation Sans", sans-serif' text-anchor="middle" textLength="27.50" lengthAdjust="spacingAndGlyphs" stroke="#262626" stroke-width="0.22">cut site</text>
<text x="385.40" y="712.60" font-size="9.4" fill="#262626" font-family='"Liberation Sans", sans-serif' text-anchor="middle" textLength="43.80" lengthAdjust="spacingAndGlyphs" stroke="#262626" stroke-width="0.22">Granulocytes</text></svg></body></html>
